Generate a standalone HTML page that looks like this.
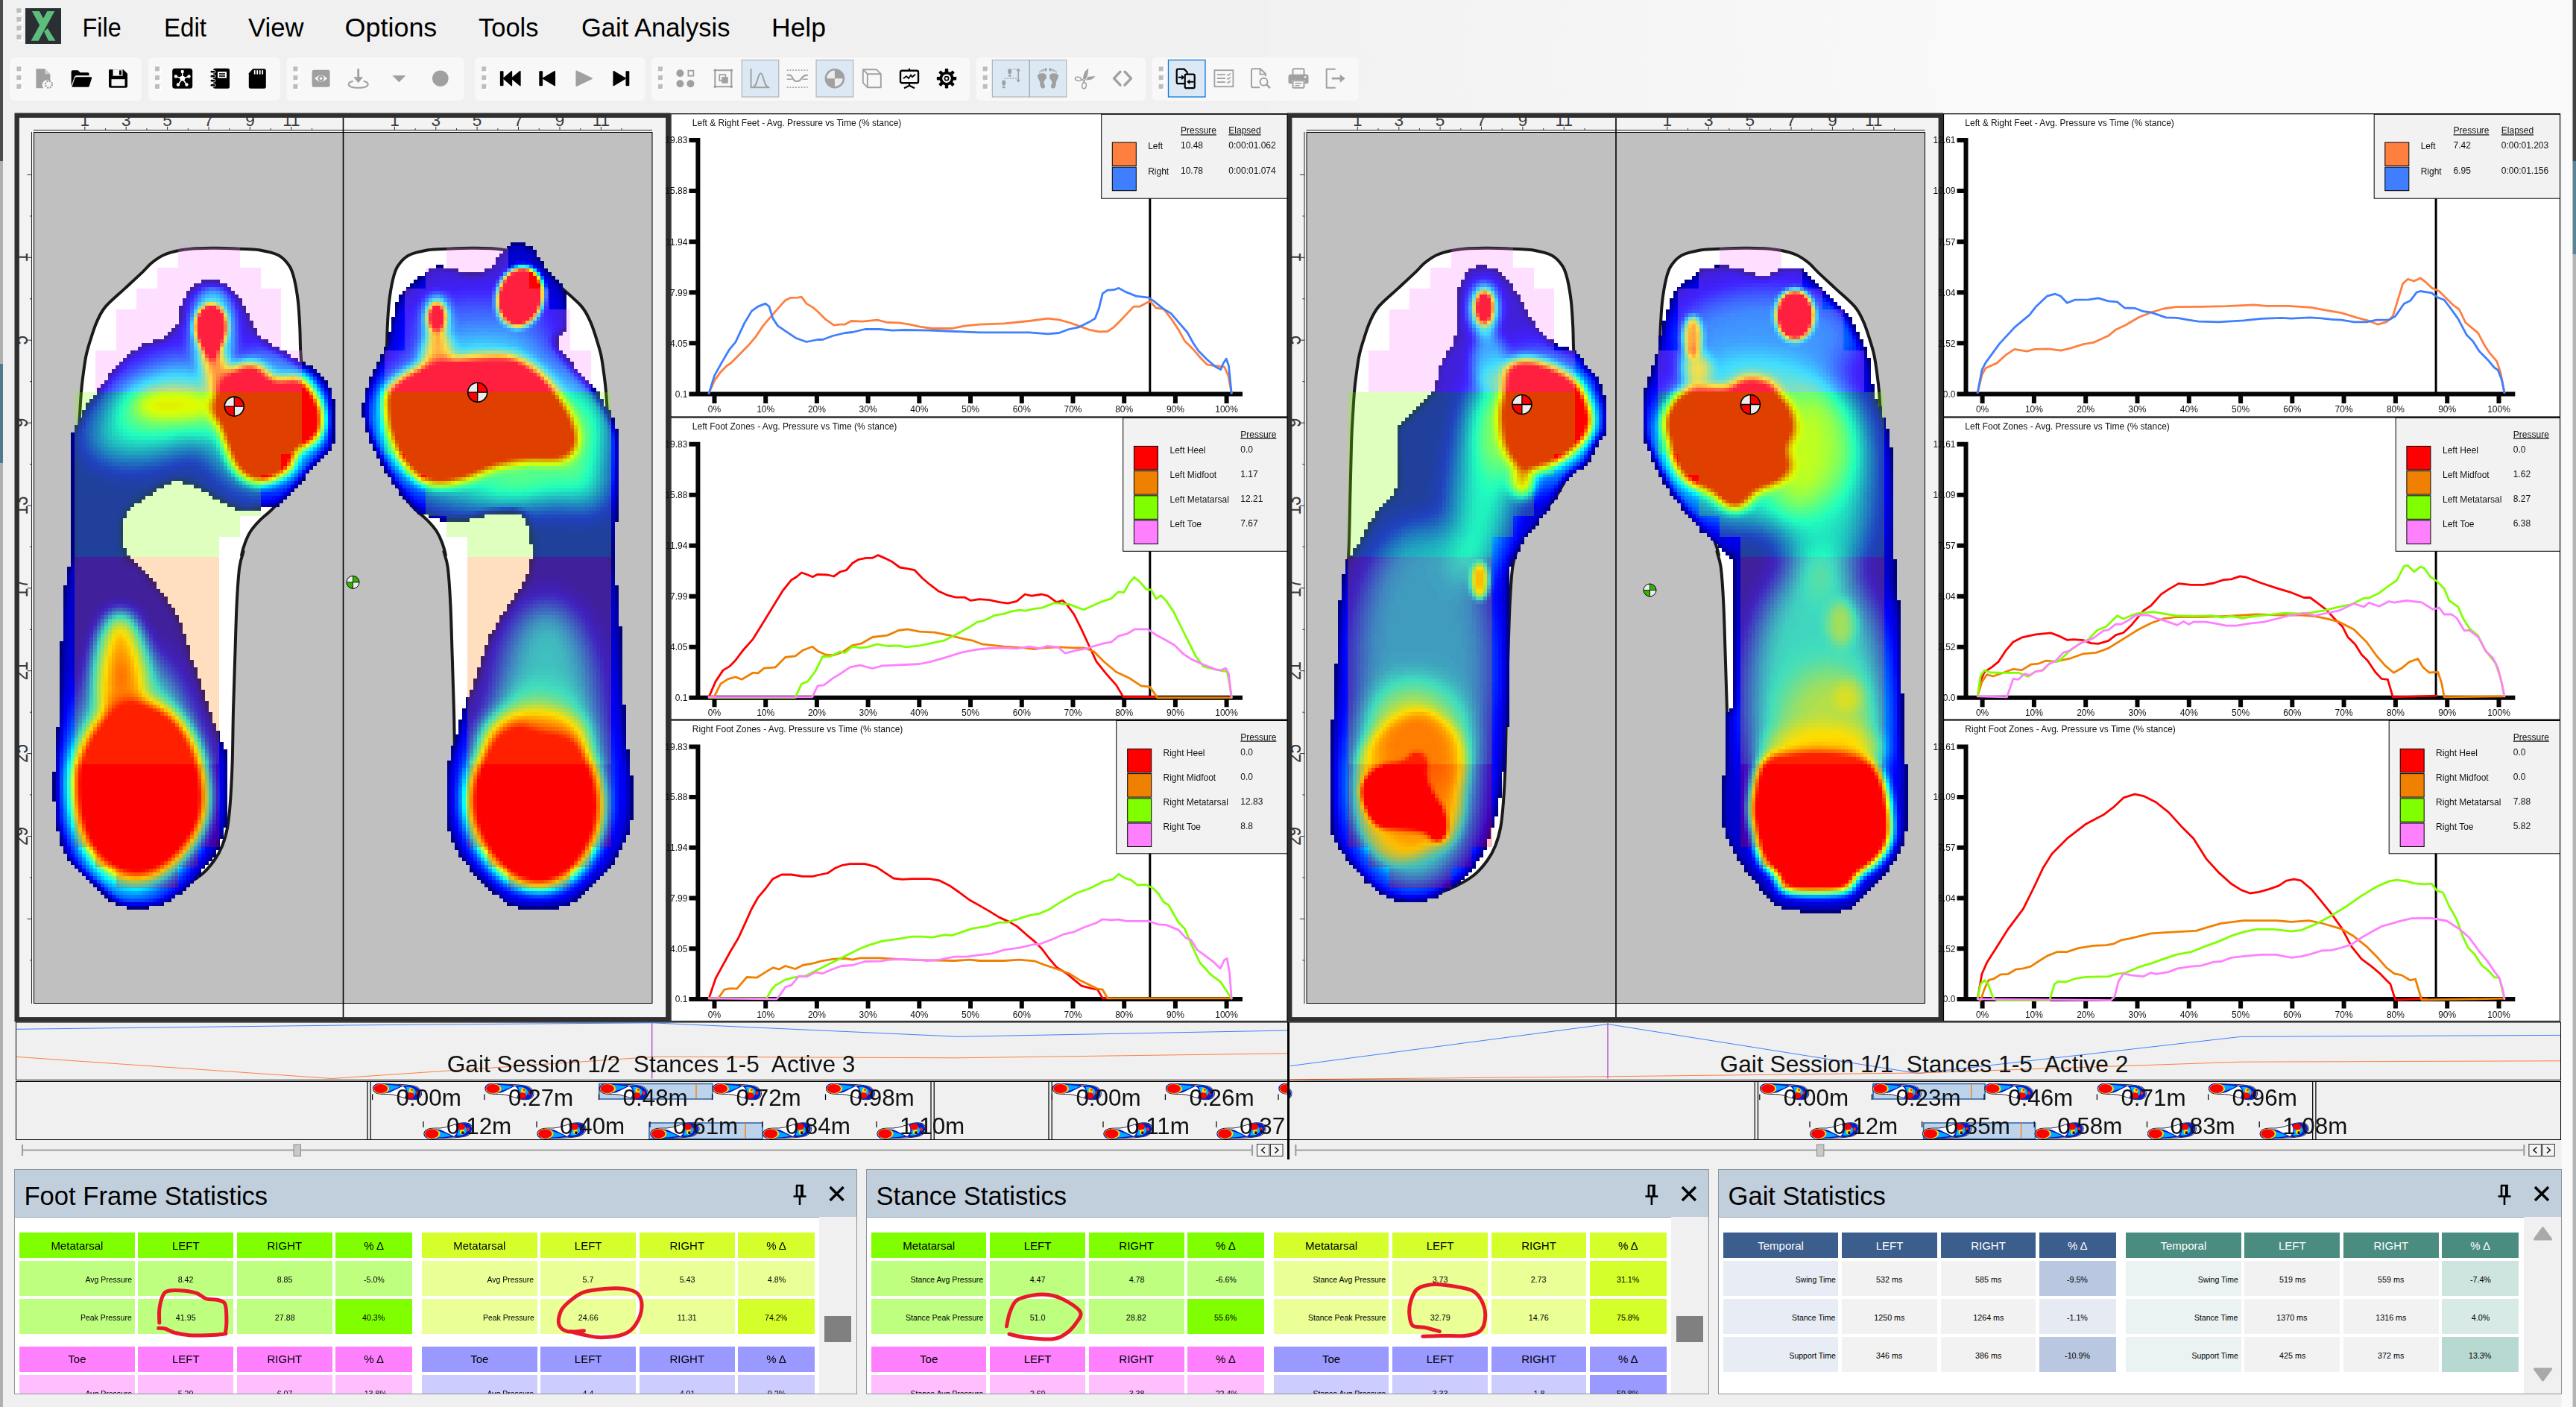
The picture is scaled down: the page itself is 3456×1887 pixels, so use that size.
<!DOCTYPE html>
<html><head><meta charset="utf-8"><title>Gait Analysis</title>
<style>
html,body{margin:0;padding:0}
body{width:3456px;height:1887px;overflow:hidden;background:#f0f0f0;position:relative;font-family:"Liberation Sans",Arial,sans-serif;color:#000}

.pn{position:absolute;border:1px solid #8c949d;background:#fff;box-sizing:border-box}
.ph{position:absolute;left:0;top:0;right:0;height:63px;background:#c1cedc;border-bottom:1px solid #9aa3ad}
.ph span{position:absolute;left:12.5px;top:10.5px;font-size:34.6px;line-height:48px;white-space:nowrap}
.c{position:absolute;display:flex;align-items:center;box-sizing:border-box;white-space:nowrap;overflow:hidden}
.c.h{justify-content:center;font-size:15px}
.c.l{justify-content:flex-end;padding-right:4px;padding-top:3px;font-size:11.4px}
.c.v{justify-content:center;padding-top:3px;font-size:11.4px}
.c.l span{display:inline-block;transform:scaleX(.92);transform-origin:right center}
.c.v span{display:inline-block;transform:scaleX(.94)}
.sb{position:absolute;background:#f0f0f0}
.th{position:absolute;width:35.5px;height:35.5px;background:#808080}
.clip{position:absolute;left:0;top:1632px;width:3456px;height:238px;overflow:hidden}

</style></head><body>
<svg width="3456" height="1887" viewBox="0 0 3456 1887" style="position:absolute;left:0;top:0"><defs><linearGradient id="tg" x1="0" x2="1"><stop offset="0" stop-color="#f1f1f1"/><stop offset="1" stop-color="#f9f9f9"/></linearGradient><filter id="jet" filterUnits="userSpaceOnUse" x="0" y="150" width="3456" height="1250" color-interpolation-filters="sRGB"><feColorMatrix type="matrix" values="0 0 0 1 0  0 0 0 1 0  0 0 0 1 0  0 0 0 1 0"/><feComponentTransfer><feFuncR type="table" tableValues="0.000 0.000 0.000 0.000 0.000 0.000 0.000 0.000 0.000 0.000 0.000 0.000 0.000 0.000 0.000 0.000 0.000 0.000 0.000 0.000 0.000 0.000 0.000 0.000 0.000 0.000 0.059 0.127 0.195 0.264 0.332 0.400 0.469 0.537 0.605 0.674 0.742 0.811 0.879 0.947 1.000 1.000 1.000 1.000 1.000 1.000 1.000 1.000 1.000 1.000 1.000 1.000 1.000 1.000 1.000 1.000 1.000 1.000 1.000 1.000 1.000 1.000 1.000 1.000 1.000"/><feFuncG type="table" tableValues="0.000 0.000 0.000 0.000 0.000 0.000 0.000 0.000 0.000 0.000 0.000 0.033 0.102 0.170 0.238 0.307 0.375 0.443 0.512 0.580 0.648 0.717 0.785 0.854 0.922 0.990 1.000 1.000 1.000 1.000 1.000 1.000 1.000 1.000 1.000 1.000 1.000 1.000 1.000 1.000 0.984 0.916 0.848 0.779 0.711 0.643 0.574 0.506 0.438 0.369 0.301 0.232 0.164 0.096 0.027 0.000 0.000 0.000 0.000 0.000 0.000 0.000 0.000 0.000 0.000"/><feFuncB type="table" tableValues="0.500 0.500 0.500 0.500 0.555 0.623 0.691 0.760 0.828 0.896 0.965 1.000 1.000 1.000 1.000 1.000 1.000 1.000 1.000 1.000 1.000 1.000 1.000 1.000 1.000 1.000 0.941 0.873 0.805 0.736 0.668 0.600 0.531 0.463 0.395 0.326 0.258 0.189 0.121 0.053 0.000 0.000 0.000 0.000 0.000 0.000 0.000 0.000 0.000 0.000 0.000 0.000 0.000 0.000 0.000 0.000 0.000 0.000 0.000 0.000 0.000 0.000 0.000 0.000 0.000"/><feFuncA type="discrete" tableValues="0 1 1 1 1 1 1 1 1 1 1 1 1 1 1 1 1 1 1 1 1 1 1 1 1"/></feComponentTransfer><feComponentTransfer result="col"/><feFlood x="2" y="152" width="1" height="1" flood-color="#000"/><feOffset dx="0" dy="0" x="0" y="150" width="5" height="5" result="cell"/><feTile result="grid"/><feComposite in="col" in2="grid" operator="in"/><feMorphology operator="dilate" radius="2"/></filter><filter id="bE" filterUnits="userSpaceOnUse" x="0" y="150" width="3456" height="1250" color-interpolation-filters="sRGB"><feGaussianBlur stdDeviation="4"/></filter><filter id="bS" filterUnits="userSpaceOnUse" x="0" y="150" width="3456" height="1250" color-interpolation-filters="sRGB"><feGaussianBlur stdDeviation="4.5"/></filter><filter id="bM" filterUnits="userSpaceOnUse" x="0" y="150" width="3456" height="1250" color-interpolation-filters="sRGB"><feGaussianBlur stdDeviation="8"/></filter><filter id="bH" filterUnits="userSpaceOnUse" x="0" y="150" width="3456" height="1250" color-interpolation-filters="sRGB"><feGaussianBlur stdDeviation="11"/></filter><filter id="bL" filterUnits="userSpaceOnUse" x="0" y="150" width="3456" height="1250" color-interpolation-filters="sRGB"><feGaussianBlur stdDeviation="22"/></filter><filter id="bX" filterUnits="userSpaceOnUse" x="0" y="150" width="3456" height="1250" color-interpolation-filters="sRGB"><feGaussianBlur stdDeviation="40"/></filter><symbol id="mf" viewBox="0 0 68 22" overflow="visible"><path d="M1,7 C1,1 8,0 16,0.6 C30,1.5 48,1 58,4 C66,7 68,14 64,19 C60,23 50,22 44,20 C36,17.5 30,15 22,14.5 C12,14.5 1,15 1,7Z" fill="#fff" stroke="#111" stroke-width="0.9"/><path d="M0.5,7 C0.5,0.5 8,-0.5 16,0.3 C26,1 36,1.5 42,3 C36,6 30,9 24,12 C16,14.5 0.5,14.5 0.5,7Z" fill="#0018c8"/><path d="M10,1.5 C20,1.5 30,2.5 38,4 C32,6.5 26,9 20,11 C14,12.5 6,12 4,8 C3,4 6,1.5 10,1.5Z" fill="#00a8ff"/><ellipse cx="12" cy="7" rx="10.6" ry="6.6" fill="#ffe000"/><ellipse cx="11.3" cy="7" rx="9.2" ry="5.9" fill="#ff0000"/><path d="M40,3 C48,1.5 58,3 63,8 C67,13 65,19 60,21 C54,22.5 47,21 43,19 C46,15 46,10 44,7 C43,5 41,4 40,3Z" fill="#0020d0"/><path d="M45,5 C50,4 56,6 58,10 C59,14 56,18 52,19 C48,19 47,15 47,11Z" fill="#00b4ff"/><ellipse cx="52" cy="9.5" rx="3" ry="3.6" fill="#ffe000"/><ellipse cx="50.5" cy="16.3" rx="5.6" ry="4" fill="#ff0000"/><ellipse cx="60" cy="13" rx="2" ry="2.4" fill="#ff2000"/><ellipse cx="53" cy="8.6" rx="1.5" ry="1.8" fill="#ff4000"/></symbol><symbol id="mf2" viewBox="0 0 68 22" overflow="visible"><use href="#mf" transform="translate(0,22) scale(1,-1)"/></symbol></defs><rect x="0" y="0" width="3456" height="152" fill="#f0f0f0"/><rect x="2600" y="0" width="856" height="152" fill="#f9f9f9"/><rect x="1700" y="0" width="900" height="152" fill="url(#tg)"/><rect x="25.0" y="13.799999999999999" width="6" height="6" fill="#fff"/><rect x="22.4" y="11.2" width="6" height="6" fill="#bdbdbd"/><rect x="25.0" y="25.6" width="6" height="6" fill="#fff"/><rect x="22.4" y="23" width="6" height="6" fill="#bdbdbd"/><rect x="25.0" y="37.4" width="6" height="6" fill="#fff"/><rect x="22.4" y="34.8" width="6" height="6" fill="#bdbdbd"/><rect x="25.0" y="49.300000000000004" width="6" height="6" fill="#fff"/><rect x="22.4" y="46.7" width="6" height="6" fill="#bdbdbd"/><rect x="34" y="11" width="48" height="48" fill="#2a2f34"/><path d="M41.6,54.7 H51.6 L73.3,14.9 H63.4Z" fill="#5ebd7c"/><path d="M42.9,14.9 H52.8 L62.1,31.7 L57.1,41Z" fill="#5ebd7c"/><path d="M59,42.2 L64,37.9 L74.5,54.7 H65.2Z" fill="#5ebd7c"/><g font-family="Liberation Sans, Arial, sans-serif" font-size="35" fill="#000"><text x="110.6" y="49" textLength="52.1" lengthAdjust="spacingAndGlyphs">File</text><text x="219.9" y="49" textLength="57.1" lengthAdjust="spacingAndGlyphs">Edit</text><text x="333" y="49" textLength="74.5" lengthAdjust="spacingAndGlyphs">View</text><text x="462.6" y="49" textLength="123.7" lengthAdjust="spacingAndGlyphs">Options</text><text x="642" y="49" textLength="80.5" lengthAdjust="spacingAndGlyphs">Tools</text><text x="780" y="49" textLength="199.4" lengthAdjust="spacingAndGlyphs">Gait Analysis</text><text x="1035" y="49" textLength="73" lengthAdjust="spacingAndGlyphs">Help</text></g><rect x="13.4" y="77" width="176.4" height="58" rx="6" fill="#f8f8f8"/><rect x="25.0" y="92.0" width="6" height="6" fill="#fff"/><rect x="22.4" y="89.4" width="6" height="6" fill="#bdbdbd"/><rect x="25.0" y="103.8" width="6" height="6" fill="#fff"/><rect x="22.4" y="101.2" width="6" height="6" fill="#bdbdbd"/><rect x="25.0" y="115.6" width="6" height="6" fill="#fff"/><rect x="22.4" y="113" width="6" height="6" fill="#bdbdbd"/><rect x="199" y="77" width="176.7" height="58" rx="6" fill="#f8f8f8"/><rect x="210.6" y="92.0" width="6" height="6" fill="#fff"/><rect x="208" y="89.4" width="6" height="6" fill="#bdbdbd"/><rect x="210.6" y="103.8" width="6" height="6" fill="#fff"/><rect x="208" y="101.2" width="6" height="6" fill="#bdbdbd"/><rect x="210.6" y="115.6" width="6" height="6" fill="#fff"/><rect x="208" y="113" width="6" height="6" fill="#bdbdbd"/><rect x="384.4" y="77" width="238.10000000000002" height="58" rx="6" fill="#f8f8f8"/><rect x="396.0" y="92.0" width="6" height="6" fill="#fff"/><rect x="393.4" y="89.4" width="6" height="6" fill="#bdbdbd"/><rect x="396.0" y="103.8" width="6" height="6" fill="#fff"/><rect x="393.4" y="101.2" width="6" height="6" fill="#bdbdbd"/><rect x="396.0" y="115.6" width="6" height="6" fill="#fff"/><rect x="393.4" y="113" width="6" height="6" fill="#bdbdbd"/><rect x="637.3" y="77" width="228.10000000000002" height="58" rx="6" fill="#f8f8f8"/><rect x="648.9" y="92.0" width="6" height="6" fill="#fff"/><rect x="646.3" y="89.4" width="6" height="6" fill="#bdbdbd"/><rect x="648.9" y="103.8" width="6" height="6" fill="#fff"/><rect x="646.3" y="101.2" width="6" height="6" fill="#bdbdbd"/><rect x="648.9" y="115.6" width="6" height="6" fill="#fff"/><rect x="646.3" y="113" width="6" height="6" fill="#bdbdbd"/><rect x="874" y="77" width="427.4000000000001" height="58" rx="6" fill="#f8f8f8"/><rect x="885.6" y="92.0" width="6" height="6" fill="#fff"/><rect x="883" y="89.4" width="6" height="6" fill="#bdbdbd"/><rect x="885.6" y="103.8" width="6" height="6" fill="#fff"/><rect x="883" y="101.2" width="6" height="6" fill="#bdbdbd"/><rect x="885.6" y="115.6" width="6" height="6" fill="#fff"/><rect x="883" y="113" width="6" height="6" fill="#bdbdbd"/><rect x="1309.7" y="77" width="227.29999999999995" height="58" rx="6" fill="#f8f8f8"/><rect x="1321.3" y="92.0" width="6" height="6" fill="#fff"/><rect x="1318.7" y="89.4" width="6" height="6" fill="#bdbdbd"/><rect x="1321.3" y="103.8" width="6" height="6" fill="#fff"/><rect x="1318.7" y="101.2" width="6" height="6" fill="#bdbdbd"/><rect x="1321.3" y="115.6" width="6" height="6" fill="#fff"/><rect x="1318.7" y="113" width="6" height="6" fill="#bdbdbd"/><rect x="1545.7" y="77" width="277.0" height="58" rx="6" fill="#f8f8f8"/><rect x="1557.3" y="92.0" width="6" height="6" fill="#fff"/><rect x="1554.7" y="89.4" width="6" height="6" fill="#bdbdbd"/><rect x="1557.3" y="103.8" width="6" height="6" fill="#fff"/><rect x="1554.7" y="101.2" width="6" height="6" fill="#bdbdbd"/><rect x="1557.3" y="115.6" width="6" height="6" fill="#fff"/><rect x="1554.7" y="113" width="6" height="6" fill="#bdbdbd"/><rect x="995.2" y="80.5" width="49.59999999999991" height="49.5" fill="#dce9f5" stroke="#a8a8a8" stroke-width="1"/><rect x="1095" y="80.5" width="49.700000000000045" height="49.5" fill="#dce9f5" stroke="#a8a8a8" stroke-width="1"/><rect x="1331.3" y="80.5" width="49.700000000000045" height="49.5" fill="#dce9f5" stroke="#a8a8a8" stroke-width="1"/><rect x="1381.5" y="80.5" width="49.200000000000045" height="49.5" fill="#dce9f5" stroke="#a8a8a8" stroke-width="1"/><rect x="1567.5" y="80.5" width="49.5" height="49.5" fill="#dce9f5" stroke="#0a78d7" stroke-width="1.3"/><g transform="translate(44.4,91.2)" fill="#a0a0a0" stroke="none"><path d="M4,1 H16 L23,8 V18 A6,6 0 0 0 14,27 H4 Z"/><path d="M16,1 V8 H23" fill="#f6f6f6" opacity=".55"/><circle cx="21" cy="22" r="4.6" fill="#f6f6f6" stroke="#a0a0a0" stroke-width="2.2" stroke-dasharray="2.2 1.4"/></g><g transform="translate(94.6,91.2)" fill="#000" stroke="none"><path d="M1,5 Q1,3 3,3 H10 L13,6 H23 Q25,6 25,8 V10 H8 Q6,10 5.3,12 L1,24 Z"/><path d="M8.2,12 H27.5 Q29,12 28.5,13.6 L25.3,24 Q24.8,25.6 23,25.6 H1.8 L5.8,13.6 Q6.3,12 8.2,12Z"/></g><g transform="translate(144.5,91.2)" fill="#000" stroke="none"><path d="M2,2 H21 L26.5,7.5 V24 Q26.5,26.5 24,26.5 H4 Q1.5,26.5 1.5,24 V4 Q1.5,2 2,2Z"/><rect x="5" y="15" width="18" height="9" fill="#f6f6f6"/><rect x="7" y="2" width="13" height="8.5" fill="#f6f6f6"/><rect x="15.5" y="3.2" width="3" height="6.2"/></g><g transform="translate(230.7,91.2)" fill="#000" stroke="none"><rect x="0.5" y="0.5" width="27" height="27" rx="3.5"/><g stroke="#fff" stroke-width="1.6"><path d="M14,14 L14,5 M14,14 L5.5,11.5 M14,14 L22.5,11.5 M14,14 L8.5,22 M14,14 L19.5,22"/></g><g fill="#fff"><circle cx="14" cy="14" r="3.4"/><circle cx="14" cy="4.8" r="2.2"/><circle cx="5.2" cy="11.3" r="2.2"/><circle cx="22.8" cy="11.3" r="2.2"/><circle cx="8.3" cy="22.3" r="2.2"/><circle cx="19.7" cy="22.3" r="2.2"/></g></g><g transform="translate(281,91.2)" fill="#000" stroke="none"><rect x="5" y="0.5" width="22" height="27" rx="2.5"/><rect x="11" y="5" width="12" height="8.5" fill="#fff"/><rect x="13" y="7" width="8" height="1.6"/><rect x="13" y="10" width="8" height="1.6"/><rect x="1" y="3.2" width="7" height="3.6" rx="1.8" fill="#000" stroke="#f6f6f6" stroke-width="1"/><rect x="1" y="9.2" width="7" height="3.6" rx="1.8" fill="#000" stroke="#f6f6f6" stroke-width="1"/><rect x="1" y="15.2" width="7" height="3.6" rx="1.8" fill="#000" stroke="#f6f6f6" stroke-width="1"/><rect x="1" y="21.2" width="7" height="3.6" rx="1.8" fill="#000" stroke="#f6f6f6" stroke-width="1"/></g><g transform="translate(331.3,91.2)" fill="#000" stroke="none"><path d="M8,1 H23 Q25.5,1 25.5,3.5 V25 Q25.5,27.5 23,27.5 H5 Q2.5,27.5 2.5,25 V7 Z"/><rect x="9.5" y="3" width="1.8" height="5.5" fill="#fff"/><rect x="13" y="3" width="1.8" height="5.5" fill="#fff"/><rect x="16.5" y="3" width="1.8" height="5.5" fill="#fff"/><rect x="20" y="3" width="1.8" height="5.5" fill="#fff"/></g><g transform="translate(416.6,91.2)" fill="#a0a0a0" stroke="none"><rect x="2" y="2.5" width="24" height="23" rx="2.5"/><path d="M5.5,14 Q14,5.5 22.5,14 Q14,22.5 5.5,14Z" fill="#f6f6f6"/><circle cx="14" cy="14" r="4"/><circle cx="14" cy="14" r="1.8" fill="#f6f6f6"/></g><g transform="translate(466.7,91.2)" fill="#a0a0a0" stroke="none"><path d="M12.6,1 H15.4 V12 H20.5 L14,20 L7.5,12 H12.6Z"/><path d="M7,17.5 Q1,19 1,21.5 Q1,26.5 14,26.5 Q27,26.5 27,21.5 Q27,19 21,17.5" fill="none" stroke="#a0a0a0" stroke-width="2"/></g><g transform="translate(521.4,91.2)" fill="#a0a0a0" stroke="none"><path d="M5,10 H23 L14,19Z"/></g><g transform="translate(576.8,91.2)" fill="#a0a0a0" stroke="none"><circle cx="14" cy="14" r="10.8"/></g><g transform="translate(669.9,91.2)" fill="#000" stroke="none"><rect x="1" y="4" width="4.6" height="20" rx="1"/><path d="M16.5,4.5 V23.5 L5.5,14Z M28,4.5 V23.5 L16.5,14Z" stroke-linejoin="round" stroke="#000" stroke-width="1.5"/></g><g transform="translate(719.8,91.2)" fill="#000" stroke="none"><rect x="3.5" y="4" width="4.8" height="20" rx="1"/><path d="M24.5,4.5 V23.5 L8.5,14Z" stroke-linejoin="round" stroke="#000" stroke-width="1.5"/></g><g transform="translate(769.2,91.2)" fill="#a0a0a0" stroke="none"><path d="M4,4 L25,14 L4,24Z" stroke-linejoin="round" stroke="#a0a0a0" stroke-width="1.5"/></g><g transform="translate(819.7,91.2)" fill="#000" stroke="none"><rect x="19.8" y="4" width="4.8" height="20" rx="1"/><path d="M3.5,4.5 V23.5 L19.5,14Z" stroke-linejoin="round" stroke="#000" stroke-width="1.5"/></g><g transform="translate(905.4,91.2)" fill="#a0a0a0" stroke="none"><circle cx="7" cy="7" r="5"/><circle cx="7" cy="21" r="5"/><circle cx="21" cy="21" r="5"/><rect x="18" y="3.5" width="7" height="7" fill="none" stroke="#a0a0a0" stroke-width="1.8"/></g><g transform="translate(956.3,91.2)" fill="#a0a0a0" stroke="none"><rect x="3" y="3" width="22" height="22" fill="none" stroke="#a0a0a0" stroke-width="2"/><rect x="9" y="9" width="8" height="8" fill="none" stroke="#a0a0a0" stroke-width="1.8"/><rect x="12" y="12" width="8.5" height="8.5"/><circle cx="3" cy="3" r="1.8"/><circle cx="25" cy="3" r="1.8"/><circle cx="3" cy="25" r="1.8"/><circle cx="25" cy="25" r="1.8"/></g><g transform="translate(1005.5,91.2)" fill="#a0a0a0" stroke="none"><path d="M2,1 V26 H27" fill="none" stroke="#a0a0a0" stroke-width="2"/><path d="M5,25 C11,25 11,7 15,7 C19,7 19,25 25,25" fill="none" stroke="#a0a0a0" stroke-width="2"/></g><g transform="translate(1055.7,91.2)" fill="#a0a0a0" stroke="none"><path d="M0,3 H28 M0,26 H28" fill="none" stroke="#a0a0a0" stroke-width="1.8" stroke-dasharray="1.8 2"/><path d="M0,10 C4,8 6,10 8,14 C10,19 16,19 19,15 C22,10 25,9 28,10" fill="none" stroke="#a0a0a0" stroke-width="2"/><path d="M0,15 H7 M21,15 H28" stroke="#a0a0a0" stroke-width="1.6"/></g><g transform="translate(1105.9,91.2)" fill="#a0a0a0" stroke="none"><circle cx="14" cy="14" r="12" fill="#ececec" stroke="#a0a0a0" stroke-width="2.6"/><path d="M14,14 V2 A12,12 0 0 1 26,14Z M14,14 V26 A12,12 0 0 1 2,14Z"/></g><g transform="translate(1155.8,91.2)" fill="#a0a0a0" stroke="none"><path d="M8,8 H26 V26 H8Z M8,8 L2,2 H20 L26,8 M2,2 V20 L8,26" fill="none" stroke="#a0a0a0" stroke-width="1.9" stroke-linejoin="round"/></g><g transform="translate(1206,91.2)" fill="#000" stroke="none"><rect x="2" y="3.5" width="24" height="16.5" rx="2" fill="none" stroke="#000" stroke-width="2.4"/><path d="M14,0.5 V3.5 M14,20 V24 M7,27 L14,23.5 L21,27" fill="none" stroke="#000" stroke-width="2.2"/><path d="M6,14 L10,11 L13,14 L16,9.5 L18,12 L22,8.5" fill="none" stroke="#000" stroke-width="1.8"/></g><g transform="translate(1256,91.2)" fill="#000" stroke="none"><circle cx="14" cy="14" r="7.6" fill="none" stroke="#000" stroke-width="3.6"/><circle cx="14" cy="14" r="2.6" fill="none" stroke="#000" stroke-width="1.6"/><rect x="11.8" y="0.8" width="4.4" height="5.2" rx="0.8" transform="rotate(0 14 14)"/><rect x="11.8" y="0.8" width="4.4" height="5.2" rx="0.8" transform="rotate(45 14 14)"/><rect x="11.8" y="0.8" width="4.4" height="5.2" rx="0.8" transform="rotate(90 14 14)"/><rect x="11.8" y="0.8" width="4.4" height="5.2" rx="0.8" transform="rotate(135 14 14)"/><rect x="11.8" y="0.8" width="4.4" height="5.2" rx="0.8" transform="rotate(180 14 14)"/><rect x="11.8" y="0.8" width="4.4" height="5.2" rx="0.8" transform="rotate(225 14 14)"/><rect x="11.8" y="0.8" width="4.4" height="5.2" rx="0.8" transform="rotate(270 14 14)"/><rect x="11.8" y="0.8" width="4.4" height="5.2" rx="0.8" transform="rotate(315 14 14)"/></g><g transform="translate(1343.7,91.2)" fill="#a0a0a0" stroke="none"><ellipse cx="11" cy="4.5" rx="2.6" ry="3.6"/><rect x="9" y="9" width="4" height="2.6" rx="1"/><ellipse cx="3" cy="20" rx="2.6" ry="3.6"/><rect x="1" y="24.5" width="4" height="2.6" rx="1"/><path d="M4,14 H20 M15,1.5 H20" stroke="#a0a0a0" stroke-width="1.6" stroke-dasharray="1.6 2" fill="none"/><path d="M22.5,3 V17" stroke="#a0a0a0" stroke-width="1.6"/><path d="M22.5,0 L25.3,4 H19.7Z M22.5,19.5 L25.3,15.5 H19.7Z"/></g><g transform="translate(1392,91.2)" fill="#a0a0a0" stroke="none"><g transform="translate(0,0) scale(1,1)"><path d="M6,7 C10,6.5 12.3,9 12,12.5 C11.5,15.5 8.5,16.5 8.5,19.5 C8.5,22 10.5,23 10,25.5 C9.5,28 5,28 4,25 C3,22 3.5,20 2.5,17 C1,14 -0.5,12 0,10 C0.5,8 3,7 6,7Z"/><ellipse cx="11" cy="2.2" rx="1.4" ry="2.3"/><ellipse cx="8.3" cy="2.7" rx="1" ry="1.6" transform="rotate(-12 8.3 2.7)"/><ellipse cx="6.1" cy="3.4" rx="0.85" ry="1.3" transform="rotate(-25 6.1 3.4)"/><ellipse cx="4.2" cy="4.4" rx="0.75" ry="1.1" transform="rotate(-38 4.2 4.4)"/><ellipse cx="2.6" cy="5.6" rx="0.65" ry="0.9" transform="rotate(-50 2.6 5.6)"/></g><g transform="translate(28,0) scale(-1,1)"><path d="M6,7 C10,6.5 12.3,9 12,12.5 C11.5,15.5 8.5,16.5 8.5,19.5 C8.5,22 10.5,23 10,25.5 C9.5,28 5,28 4,25 C3,22 3.5,20 2.5,17 C1,14 -0.5,12 0,10 C0.5,8 3,7 6,7Z"/><ellipse cx="11" cy="2.2" rx="1.4" ry="2.3"/><ellipse cx="8.3" cy="2.7" rx="1" ry="1.6" transform="rotate(-12 8.3 2.7)"/><ellipse cx="6.1" cy="3.4" rx="0.85" ry="1.3" transform="rotate(-25 6.1 3.4)"/><ellipse cx="4.2" cy="4.4" rx="0.75" ry="1.1" transform="rotate(-38 4.2 4.4)"/><ellipse cx="2.6" cy="5.6" rx="0.65" ry="0.9" transform="rotate(-50 2.6 5.6)"/></g></g><g transform="translate(1441.5,91.2)" fill="#a0a0a0" stroke="none"><path d="M18.8,0.1 L13.9,5 C12.2,9 11.6,12 11.4,14.8 L14.7,16 C16.5,13 17.6,10 18,7.4Z"/><path d="M28.2,10.7 C25,11.2 21,11.4 18,11.9 L15.5,16.4 C18,16.4 20,16 22,15.6 C24.5,14.6 26.5,13 28.2,10.7Z"/><ellipse cx="4.9" cy="14.6" rx="4" ry="2.5" fill="none" stroke="#a0a0a0" stroke-width="1.5" transform="rotate(12 4.9 14.6)"/><ellipse cx="13" cy="23.6" rx="2.8" ry="4" fill="none" stroke="#a0a0a0" stroke-width="1.5" transform="rotate(8 13 23.6)"/><path d="M8.6,15.6 L13.5,16.5 M12.6,19.6 L13.6,15.5" stroke="#a0a0a0" stroke-width="2"/><circle cx="12.9" cy="15.6" r="0.7" fill="#f6f6f6"/></g><g transform="translate(1492,91.2)" fill="#a0a0a0" stroke="none"><path d="M11,5 L2.5,14 L11,23 M17,5 L25.5,14 L17,23" fill="none" stroke="#a0a0a0" stroke-width="3.4" stroke-linecap="round" stroke-linejoin="round"/></g><g transform="translate(1577.7,91.2)" fill="#000" stroke="none"><path d="M3,1.5 H11 L15,5.5 V19 Q15,21 13,21 H3 Q1,21 1,19 V3.5 Q1,1.5 3,1.5Z" fill="#dce9f5" stroke="#000" stroke-width="2.2"/><path d="M14,8.5 H23 Q25,8.5 25,10.5 V25 Q25,27 23,27 H14 Q12,27 12,25 V10.5 Q12,8.5 14,8.5Z" fill="#dce9f5" stroke="#000" stroke-width="2.2"/><path d="M3,12.5 H9 M17,18.5 H24" stroke="#000" stroke-width="2"/><path d="M7.5,9 L11.5,12.5 L7.5,16Z M18.5,15 L14.5,18.5 L18.5,22Z"/></g><g transform="translate(1627.9,91.2)" fill="#a0a0a0" stroke="none"><rect x="1.5" y="3" width="25" height="22" fill="none" stroke="#a0a0a0" stroke-width="1.8"/><path d="M5,9 H16 M5,14 H16 M5,19 H16" stroke="#a0a0a0" stroke-width="1.8"/><path d="M18.5,8.5 L20,10 L23,7 M18.5,13.5 L20,15 L23,12 M18.5,18.5 L20,20 L23,17" fill="none" stroke="#a0a0a0" stroke-width="1.5"/></g><g transform="translate(1677,91.2)" fill="#a0a0a0" stroke="none"><path d="M13,26 H4 Q2,26 2,24 V3 Q2,1 4,1 H14 L21,8 V11" fill="none" stroke="#a0a0a0" stroke-width="2"/><path d="M13.5,1 V8.5 H21" fill="none" stroke="#a0a0a0" stroke-width="1.8"/><circle cx="18.5" cy="18.5" r="5" fill="none" stroke="#a0a0a0" stroke-width="2"/><path d="M22,22 L27,27" stroke="#a0a0a0" stroke-width="2.4"/></g><g transform="translate(1728,91.2)" fill="#a0a0a0" stroke="none"><path d="M6.5,9 V2.5 Q6.5,1 8,1 H20 Q21.5,1 21.5,2.5 V9" fill="none" stroke="#a0a0a0" stroke-width="2"/><path d="M3.5,8.5 H24.5 Q27.5,8.5 27.5,11.5 V19 Q27.5,21 25.5,21 H22.5 V16 H5.5 V21 H2.5 Q0.5,21 0.5,19 V11.5 Q0.5,8.5 3.5,8.5Z"/><circle cx="23.2" cy="12.2" r="1.3" fill="#f6f6f6"/><rect x="6.5" y="17" width="15" height="9.5" rx="1" fill="none" stroke="#a0a0a0" stroke-width="2"/><path d="M9.5,20.5 H18.5 M9.5,23.5 H15.5" stroke="#a0a0a0" stroke-width="1.5"/></g><g transform="translate(1777.7,91.2)" fill="#a0a0a0" stroke="none"><path d="M14,1.5 H2 V26.5 H14" fill="none" stroke="#a0a0a0" stroke-width="2"/><path d="M9,14 H22" stroke="#a0a0a0" stroke-width="2.6"/><path d="M20,8.5 L27,14 L20,19.5Z"/></g><rect x="0" y="0" width="4" height="216" fill="#4a4c50"/><rect x="0" y="216" width="4" height="1671" fill="#b0b0b0"/><rect x="0" y="488" width="4" height="133" fill="#4f7a8c"/><rect x="3436.5" y="150" width="16" height="1737" fill="#fafafa"/><rect x="3451.5" y="0" width="4.5" height="216" fill="#404246"/><rect x="3451.5" y="216" width="4.5" height="125" fill="#5b8394"/><rect x="3451.5" y="341" width="4.5" height="1546" fill="#b4b4b4"/><rect x="19.5" y="151.5" width="880" height="1219.5" fill="#f3f3f3"/><clipPath id="rc0"><rect x="21.5" y="153" width="876" height="1216"/></clipPath><g font-family="Liberation Sans, Arial, sans-serif" font-size="22.5" fill="#3a3a3a" clip-path="url(#rc0)"><text x="113.8" y="168.6" text-anchor="middle">1</text><text x="169.2" y="168.6" text-anchor="middle">3</text><text x="224.6" y="168.6" text-anchor="middle">5</text><text x="280.1" y="168.6" text-anchor="middle">7</text><text x="335.4" y="168.6" text-anchor="middle">9</text><text x="390.9" y="168.6" text-anchor="middle">11</text><text x="529.4" y="168.6" text-anchor="middle">1</text><text x="584.8" y="168.6" text-anchor="middle">3</text><text x="640.1" y="168.6" text-anchor="middle">5</text><text x="695.5" y="168.6" text-anchor="middle">7</text><text x="751.0" y="168.6" text-anchor="middle">9</text><text x="806.4" y="168.6" text-anchor="middle">11</text><text transform="translate(37.3,345.3) rotate(-90) scale(1,1.35)" text-anchor="middle">1</text><text transform="translate(37.3,456.2) rotate(-90) scale(1,1.35)" text-anchor="middle">5</text><text transform="translate(37.3,567.1) rotate(-90) scale(1,1.35)" text-anchor="middle">9</text><text transform="translate(37.3,678.0) rotate(-90) scale(1,1.35)" text-anchor="middle">13</text><text transform="translate(37.3,788.8) rotate(-90) scale(1,1.35)" text-anchor="middle">17</text><text transform="translate(37.3,899.7) rotate(-90) scale(1,1.35)" text-anchor="middle">21</text><text transform="translate(37.3,1010.6) rotate(-90) scale(1,1.35)" text-anchor="middle">25</text><text transform="translate(37.3,1121.5) rotate(-90) scale(1,1.35)" text-anchor="middle">29</text></g><path d="M113.8,169.8 V174.8 M141.6,172.10000000000002 V174.8 M169.2,169.8 V174.8 M196.9,172.10000000000002 V174.8 M224.6,169.8 V174.8 M252.3,172.10000000000002 V174.8 M280.1,169.8 V174.8 M307.8,172.10000000000002 V174.8 M335.4,169.8 V174.8 M363.2,172.10000000000002 V174.8 M390.9,169.8 V174.8 M418.6,172.10000000000002 V174.8 M529.4,169.8 V174.8 M557.1,172.10000000000002 V174.8 M584.8,169.8 V174.8 M612.5,172.10000000000002 V174.8 M640.1,169.8 V174.8 M667.9,172.10000000000002 V174.8 M695.5,169.8 V174.8 M723.2,172.10000000000002 V174.8 M751.0,169.8 V174.8 M778.7,172.10000000000002 V174.8 M806.4,169.8 V174.8 M834.0,172.10000000000002 V174.8 M36.4,234.4 H42.9 M39.9,289.9 H42.9 M36.4,345.3 H42.9 M39.9,400.8 H42.9 M36.4,456.2 H42.9 M39.9,511.6 H42.9 M36.4,567.1 H42.9 M39.9,622.5 H42.9 M36.4,678.0 H42.9 M39.9,733.4 H42.9 M36.4,788.8 H42.9 M39.9,844.3 H42.9 M36.4,899.7 H42.9 M39.9,955.2 H42.9 M36.4,1010.6 H42.9 M39.9,1066.0 H42.9 M36.4,1121.5 H42.9 M39.9,1176.9 H42.9 M36.4,1232.4 H42.9 M39.9,1287.8 H42.9 " stroke="#333" stroke-width="1" fill="none"/><path d="M45,174.5 H875 M42.5,177 V1346" stroke="#222" stroke-width="1" fill="none"/><rect x="45.5" y="177.5" width="829.5" height="1168" fill="#c0c0c0" stroke="#000" stroke-width="1"/><g><path d="M288.8,332.7C298.6,332.8 311.7,333.3 321.5,333.7C331.3,334.1 338.9,333.8 347.6,335.3C356.3,336.8 367.0,338.9 373.8,342.5C380.6,346.1 385.0,351.8 388.5,357.2C392.0,362.6 393.1,367.3 395,375.2C396.9,383.1 398.7,394.2 399.9,404.6C401.1,415.0 401.6,426.4 402.2,437.3C402.8,448.2 402.6,459.1 403.2,470C403.8,480.9 404.5,491.7 405.5,502.6C406.5,513.5 408.3,524.4 409.1,535.3C409.9,546.2 410.8,557.1 410.4,568C410.0,578.9 408.8,589.8 406.5,600.7C404.2,611.6 400.5,623.6 396.7,633.4C392.9,643.2 388.5,651.6 383.6,659.5C378.7,667.4 373.2,674.2 367.2,680.8C361.2,687.3 352.8,693.5 347.6,698.8C342.4,704.1 339.4,707.6 336.2,712.5C333.0,717.4 330.7,722.9 328.7,728.2C326.7,733.5 324.5,742.5 324.1,744.5C323.7,746.5 327.0,737.2 326.5,740C326.0,742.8 322.7,749.4 321.2,761.3C319.7,773.1 318.6,791.0 317.6,811.1C316.6,831.2 316.0,858.4 315.2,882.1C314.4,905.8 313.6,929.5 313,953.2C312.4,976.9 312.3,1003.6 311.6,1024.3C310.9,1045.0 309.9,1063.4 308.8,1077.6C307.7,1091.8 307.0,1100.1 305.2,1109.6C303.4,1119.1 301.1,1127.1 298.1,1134.5C295.1,1141.9 292.1,1147.5 287.4,1154C282.7,1160.5 276.8,1167.8 269.7,1173.5C262.6,1179.2 253.7,1184.2 244.8,1188.5C235.9,1192.8 226.5,1196.6 216.4,1199.1C206.3,1201.6 195.0,1203.9 184.4,1203.4C173.8,1202.9 162.5,1200.8 153.1,1196.3C143.7,1191.8 135.9,1184.3 128.2,1176.4C120.5,1168.5 112.7,1157.8 106.9,1148.7C101.1,1139.6 96.7,1133.2 93.4,1122C90.1,1110.8 88.3,1097.5 87,1081.2C85.7,1064.9 85.1,1045.6 85.6,1024.3C86.1,1003.0 88.5,982.8 90.2,953.2C91.9,923.6 93.7,880.8 95.5,846.6C97.3,812.4 99.9,779.0 101.2,747.8C102.5,716.6 102.8,685.1 103.5,659.5C104.2,633.9 104.6,610.5 105.1,594.2C105.6,577.9 106.0,573.0 106.7,561.5C107.4,550.0 108.2,535.3 109,525.5C109.8,515.7 110.5,510.8 111.6,502.6C112.7,494.4 113.8,484.7 115.6,476.5C117.3,468.3 119.6,461.2 122.1,453.6C124.5,446.0 127.0,437.8 130.3,430.7C133.6,423.6 135.4,418.5 141.7,411.1C148.0,403.8 159.7,394.2 167.9,386.6C176.1,379.0 184.7,371.1 190.7,365.4C196.7,359.7 198.9,356.2 203.8,352.3C208.7,348.4 214.2,344.5 220.2,341.8C226.2,339.1 232.7,337.4 239.8,336C246.9,334.6 254.4,333.9 262.6,333.3C270.8,332.8 279.0,332.6 288.8,332.7Z" fill="#fff" stroke="#1a1a1a" stroke-width="4" stroke-linejoin="round"/><path d="M633.2,332.7C623.4,332.8 610.3,333.3 600.5,333.7C590.7,334.1 583.1,333.8 574.4,335.3C565.7,336.8 555.0,338.9 548.2,342.5C541.4,346.1 537.0,351.8 533.5,357.2C530.0,362.6 528.9,367.3 527,375.2C525.1,383.1 523.3,394.2 522.1,404.6C520.9,415.0 520.3,426.4 519.8,437.3C519.2,448.2 519.3,459.1 518.8,470C518.2,480.9 517.5,491.7 516.5,502.6C515.5,513.5 513.7,524.4 512.9,535.3C512.1,546.2 511.2,557.1 511.6,568C512.0,578.9 513.2,589.8 515.5,600.7C517.8,611.6 521.5,623.6 525.3,633.4C529.1,643.2 533.5,651.6 538.4,659.5C543.3,667.4 548.8,674.2 554.8,680.8C560.8,687.3 569.2,693.5 574.4,698.8C579.6,704.1 582.6,707.6 585.8,712.5C588.9,717.4 591.3,722.9 593.3,728.2C595.3,733.5 597.5,742.5 597.9,744.5C598.3,746.5 595.0,737.2 595.5,740C596.0,742.8 599.3,749.4 600.8,761.3C602.3,773.1 603.4,791.0 604.4,811.1C605.4,831.2 606.0,858.4 606.8,882.1C607.6,905.8 608.4,929.5 609,953.2C609.6,976.9 609.7,1003.6 610.4,1024.3C611.1,1045.0 612.1,1063.4 613.2,1077.6C614.3,1091.8 615.0,1100.1 616.8,1109.6C618.6,1119.1 620.9,1127.1 623.9,1134.5C626.9,1141.9 629.9,1147.5 634.6,1154C639.3,1160.5 645.2,1167.8 652.3,1173.5C659.4,1179.2 668.3,1184.2 677.2,1188.5C686.1,1192.8 695.5,1196.6 705.6,1199.1C715.7,1201.6 727.1,1203.9 737.6,1203.4C748.1,1202.9 759.5,1200.8 768.9,1196.3C778.3,1191.8 786.1,1184.3 793.8,1176.4C801.5,1168.5 809.3,1157.8 815.1,1148.7C820.9,1139.6 825.3,1133.2 828.6,1122C831.9,1110.8 833.7,1097.5 835,1081.2C836.3,1064.9 836.9,1045.6 836.4,1024.3C835.9,1003.0 833.4,982.8 831.8,953.2C830.1,923.6 828.3,880.8 826.5,846.6C824.7,812.4 822.1,779.0 820.8,747.8C819.5,716.6 819.1,685.1 818.5,659.5C817.9,633.9 817.4,610.5 816.9,594.2C816.4,577.9 815.9,573.0 815.3,561.5C814.6,550.0 813.8,535.3 813,525.5C812.2,515.7 811.5,510.8 810.4,502.6C809.3,494.4 808.1,484.7 806.4,476.5C804.6,468.3 802.3,461.2 799.9,453.6C797.5,446.0 795.0,437.8 791.7,430.7C788.4,423.6 786.6,418.5 780.3,411.1C774.0,403.8 762.3,394.2 754.1,386.6C745.9,379.0 737.3,371.1 731.3,365.4C725.3,359.7 723.1,356.2 718.2,352.3C713.3,348.4 707.8,344.5 701.8,341.8C695.8,339.1 689.3,337.4 682.2,336C675.1,334.6 667.6,333.9 659.4,333.3C651.2,332.8 643.0,332.6 633.2,332.7Z" fill="#fff" stroke="#1a1a1a" stroke-width="4" stroke-linejoin="round"/><mask id="ma" maskUnits="userSpaceOnUse" x="0" y="150" width="3456" height="1250"><g filter="url(#bE)"><path d="M282.3,375.8C287.8,376.2 295.9,375.9 301.9,379.1C307.9,382.3 313.3,388.4 318.2,394.8C323.1,401.2 326.9,409.5 331.3,417.7C335.7,425.9 339.5,436.7 344.4,443.8C349.3,450.9 354.2,455.3 360.7,460.2C367.2,465.1 376.0,468.6 383.6,473.2C391.2,477.8 400.0,484.1 406.5,487.9C413.0,491.7 417.4,491.5 422.8,496.1C428.2,500.7 435.0,509.2 439.1,515.7C443.2,522.2 445.9,522.2 447.3,535.3C448.7,548.4 449.2,581.7 447.3,594.2C445.4,606.7 441.1,604.5 435.9,610.5C430.7,616.5 422.3,623.3 416.3,630.1C410.3,636.9 405.3,644.9 399.9,651.4C394.4,657.9 389.1,664.4 383.6,669.3C378.2,674.2 373.2,678.6 367.2,680.8C361.2,683.0 354.1,681.3 347.6,682.4C341.1,683.5 335.6,688.4 328,687.3C320.4,686.2 311.1,680.5 301.9,675.9C292.6,671.3 280.7,663.9 272.5,659.5C264.3,655.1 259.9,651.6 252.8,649.7C245.7,647.8 238.2,645.9 230,648.1C221.8,650.3 212.0,657.6 203.8,662.8C195.6,668.0 186.9,673.6 180.9,679.1C174.9,684.6 170.4,687.9 167.9,695.5C165.4,703.1 165.4,716.2 166.2,724.9C167.0,733.6 169.8,742.9 172.8,747.8C175.8,752.7 179.5,749.9 184.4,754.2C189.3,758.5 196.2,766.7 202.1,773.8C208.0,780.9 214.3,789.2 219.9,796.9C225.5,804.6 231.5,812.3 235.9,820C240.3,827.7 243.3,833.9 246.6,843.1C249.9,852.3 251.9,863.8 255.5,875C259.1,886.2 263.8,898.1 267.9,910.6C272.0,923.1 276.1,937.9 280.3,949.7C284.5,961.5 289.2,972.7 292.8,981.6C296.4,990.5 299.4,995.9 301.6,1003C303.8,1010.1 305.3,1008.9 305.9,1024.3C306.5,1039.7 306.8,1077.6 305.2,1095.4C303.6,1113.2 299.3,1122.0 296.3,1130.9C293.3,1139.8 291.2,1142.8 287.4,1148.7C283.5,1154.6 277.9,1160.5 273.2,1166.4C268.5,1172.3 264.9,1178.3 259,1184.2C253.1,1190.1 245.4,1196.8 237.7,1202C230.0,1207.2 225.2,1213.2 212.8,1215.5C200.4,1217.8 176.7,1219.5 163.1,1215.5C149.5,1211.5 140.6,1198.9 131.1,1191.3C121.6,1183.7 113.3,1177.1 106.2,1170C99.1,1162.9 93.1,1157.6 88.4,1148.7C83.7,1139.8 80.3,1125.6 77.8,1116.7C75.3,1107.8 74.2,1112.6 73.5,1095.4C72.8,1078.2 72.8,1034.3 73.5,1013.6C74.2,992.9 76.2,1001.8 77.8,971C79.4,940.2 81.3,861.4 83.1,828.8C84.9,796.2 86.5,788.5 88.4,775.5C90.4,762.5 93.5,759.1 94.8,750.7C96.1,742.3 95.8,752.1 96,724.9C96.2,697.7 95.2,612.6 96,587.6C96.8,562.6 99.3,579.0 100.9,574.6C102.5,570.2 103.1,567.0 105.8,561.5C108.5,556.0 113.1,547.9 117.2,541.9C121.3,535.9 126.2,531.0 130.3,525.5C134.4,520.0 135.4,517.1 141.7,509.2C148.0,501.3 158.9,486.3 167.9,478.1C176.9,469.9 186.9,464.3 195.6,460.2C204.3,456.1 213.1,458.5 220.2,453.6C227.3,448.7 234.3,438.9 238.1,430.7C241.9,422.5 240.0,412.2 243,404.6C246.0,397.0 251.7,389.6 256.1,385C260.5,380.4 264.8,378.3 269.2,376.8C273.6,375.3 276.9,375.4 282.3,375.8Z" fill="#fff" stroke="#000" stroke-width="5"/></g></mask><g filter="url(#jet)"><g mask="url(#ma)"><path d="M282.3,375.8C287.8,376.2 295.9,375.9 301.9,379.1C307.9,382.3 313.3,388.4 318.2,394.8C323.1,401.2 326.9,409.5 331.3,417.7C335.7,425.9 339.5,436.7 344.4,443.8C349.3,450.9 354.2,455.3 360.7,460.2C367.2,465.1 376.0,468.6 383.6,473.2C391.2,477.8 400.0,484.1 406.5,487.9C413.0,491.7 417.4,491.5 422.8,496.1C428.2,500.7 435.0,509.2 439.1,515.7C443.2,522.2 445.9,522.2 447.3,535.3C448.7,548.4 449.2,581.7 447.3,594.2C445.4,606.7 441.1,604.5 435.9,610.5C430.7,616.5 422.3,623.3 416.3,630.1C410.3,636.9 405.3,644.9 399.9,651.4C394.4,657.9 389.1,664.4 383.6,669.3C378.2,674.2 373.2,678.6 367.2,680.8C361.2,683.0 354.1,681.3 347.6,682.4C341.1,683.5 335.6,688.4 328,687.3C320.4,686.2 311.1,680.5 301.9,675.9C292.6,671.3 280.7,663.9 272.5,659.5C264.3,655.1 259.9,651.6 252.8,649.7C245.7,647.8 238.2,645.9 230,648.1C221.8,650.3 212.0,657.6 203.8,662.8C195.6,668.0 186.9,673.6 180.9,679.1C174.9,684.6 170.4,687.9 167.9,695.5C165.4,703.1 165.4,716.2 166.2,724.9C167.0,733.6 169.8,742.9 172.8,747.8C175.8,752.7 179.5,749.9 184.4,754.2C189.3,758.5 196.2,766.7 202.1,773.8C208.0,780.9 214.3,789.2 219.9,796.9C225.5,804.6 231.5,812.3 235.9,820C240.3,827.7 243.3,833.9 246.6,843.1C249.9,852.3 251.9,863.8 255.5,875C259.1,886.2 263.8,898.1 267.9,910.6C272.0,923.1 276.1,937.9 280.3,949.7C284.5,961.5 289.2,972.7 292.8,981.6C296.4,990.5 299.4,995.9 301.6,1003C303.8,1010.1 305.3,1008.9 305.9,1024.3C306.5,1039.7 306.8,1077.6 305.2,1095.4C303.6,1113.2 299.3,1122.0 296.3,1130.9C293.3,1139.8 291.2,1142.8 287.4,1148.7C283.5,1154.6 277.9,1160.5 273.2,1166.4C268.5,1172.3 264.9,1178.3 259,1184.2C253.1,1190.1 245.4,1196.8 237.7,1202C230.0,1207.2 225.2,1213.2 212.8,1215.5C200.4,1217.8 176.7,1219.5 163.1,1215.5C149.5,1211.5 140.6,1198.9 131.1,1191.3C121.6,1183.7 113.3,1177.1 106.2,1170C99.1,1162.9 93.1,1157.6 88.4,1148.7C83.7,1139.8 80.3,1125.6 77.8,1116.7C75.3,1107.8 74.2,1112.6 73.5,1095.4C72.8,1078.2 72.8,1034.3 73.5,1013.6C74.2,992.9 76.2,1001.8 77.8,971C79.4,940.2 81.3,861.4 83.1,828.8C84.9,796.2 86.5,788.5 88.4,775.5C90.4,762.5 93.5,759.1 94.8,750.7C96.1,742.3 95.8,752.1 96,724.9C96.2,697.7 95.2,612.6 96,587.6C96.8,562.6 99.3,579.0 100.9,574.6C102.5,570.2 103.1,567.0 105.8,561.5C108.5,556.0 113.1,547.9 117.2,541.9C121.3,535.9 126.2,531.0 130.3,525.5C134.4,520.0 135.4,517.1 141.7,509.2C148.0,501.3 158.9,486.3 167.9,478.1C176.9,469.9 186.9,464.3 195.6,460.2C204.3,456.1 213.1,458.5 220.2,453.6C227.3,448.7 234.3,438.9 238.1,430.7C241.9,422.5 240.0,412.2 243,404.6C246.0,397.0 251.7,389.6 256.1,385C260.5,380.4 264.8,378.3 269.2,376.8C273.6,375.3 276.9,375.4 282.3,375.8Z" fill="#fff" stroke="#fff" stroke-width="16" opacity="0.12"/><g filter="url(#bL)"><ellipse cx="213.6" cy="561.5" rx="98.1" ry="49.0" fill="#fff" opacity="0.28" transform="rotate(-20 213.6 561.5)"/><ellipse cx="230.0" cy="545.1" rx="65.4" ry="26.1" fill="#fff" opacity="0.35" transform="rotate(-5 230.0 545.1)"/><ellipse cx="177.3" cy="1038.5" rx="76.4" ry="167.0" fill="#fff" opacity="0.32"/><ellipse cx="184.4" cy="1059.8" rx="88.8" ry="127.9" fill="#fff" opacity="0.3"/><ellipse cx="354.2" cy="564.7" rx="81.7" ry="91.5" fill="#fff" opacity="0.3"/><ellipse cx="215" cy="510" rx="75.0" ry="30.0" fill="#fff" opacity="0.19" transform="rotate(-28 215 510)"/></g><g filter="url(#bH)"><ellipse cx="161.3" cy="896.4" rx="33.8" ry="76.4" fill="#fff" opacity="0.5"/><path d="M177.3,947.9C188.6,945.5 199.2,948.8 209.3,953.2C219.4,957.6 229.4,965.0 237.7,974.5C246.0,984.0 253.7,997.1 259,1010.1C264.3,1023.1 267.9,1039.7 269.7,1052.7C271.5,1065.7 271.5,1077.6 269.7,1088.3C267.9,1099.0 264.3,1107.5 259,1116.7C253.7,1125.9 245.4,1135.7 237.7,1143.3C230.0,1150.9 221.7,1157.8 212.8,1162.2C203.9,1166.7 193.9,1170.0 184.4,1170C174.9,1170.0 164.8,1166.7 155.9,1162.2C147.0,1157.8 138.2,1152.1 131.1,1143.3C124.0,1134.5 117.4,1121.1 113.3,1109.6C109.2,1098.0 107.4,1087.0 106.2,1074C105.0,1061.0 103.8,1044.4 106.2,1031.4C108.6,1018.4 114.5,1006.6 120.4,995.9C126.3,985.2 132.2,975.4 141.7,967.4C151.2,959.4 166.0,950.3 177.3,947.9Z" fill="#fff" stroke="#fff" stroke-width="8" stroke-linejoin="round" opacity="1"/></g><g filter="url(#bM)"><ellipse cx="233.2" cy="543.5" rx="49.0" ry="19.6" fill="#fff" opacity="0.19"/><ellipse cx="161.3" cy="882.1" rx="12.1" ry="42.6" fill="#fff" opacity="0.25"/><ellipse cx="285.5" cy="440.5" rx="31.1" ry="55.6" fill="#fff" opacity="0.3"/><path d="M274.1,476.5C277.0,471.6 288.2,469.7 293.7,473.2C299.1,476.7 305.2,489.0 306.8,497.7C308.4,506.4 306.5,520.3 303.5,525.5C300.5,530.7 293.3,532.6 288.8,528.8C284.3,525.0 278.8,511.3 276.4,502.6C273.9,493.9 271.2,481.4 274.1,476.5Z" fill="#fff" stroke="#fff" stroke-width="2" stroke-linejoin="round" opacity="0.55"/><path d="M297,530.4C299.4,525.2 300.0,518.0 303.5,512.5C307.0,507.1 312.5,501.0 318.2,497.7C323.9,494.4 332.4,492.5 337.8,492.8C343.2,493.1 347.1,496.2 350.9,499.4C354.7,502.6 355.8,509.4 360.7,511.8C365.6,514.2 373.8,514.3 380.3,514.1C386.8,513.9 394.4,509.2 399.9,510.8C405.3,512.4 408.9,518.4 413,523.9C417.1,529.4 421.9,536.1 424.4,543.5C426.8,550.9 428.5,560.6 427.7,568C426.9,575.4 424.1,582.7 419.5,587.6C414.9,592.5 404.8,594.1 399.9,597.4C395.0,600.7 392.3,602.8 390.1,607.2C387.9,611.6 389.6,619.2 386.9,623.6C384.2,628.0 379.2,630.4 373.8,633.4C368.4,636.4 360.2,640.5 354.2,641.6C348.2,642.7 343.2,642.4 337.8,639.9C332.4,637.4 325.9,632.3 321.5,626.9C317.1,621.5 314.4,613.8 311.7,607.2C309.0,600.7 307.0,593.6 305.1,587.6C303.2,581.6 302.4,576.2 300.2,571.3C298.0,566.4 294.0,562.8 292.1,558.2C290.2,553.6 288.0,548.1 288.8,543.5C289.6,538.9 294.6,535.6 297,530.4Z" fill="#fff" stroke="#fff" stroke-width="8" stroke-linejoin="round" opacity="1"/></g><g filter="url(#bS)"><path d="M283.2,409.8C287.7,409.8 293.5,413.7 296.6,418.3C299.7,422.9 301.6,431.1 301.9,437.3C302.2,443.5 300.4,449.9 298.6,455.3C296.9,460.8 293.5,465.9 291.4,470C289.3,474.1 287.7,478.2 286.2,479.8C284.7,481.4 284.1,481.4 282.3,479.8C280.5,478.2 277.6,474.1 275.1,470C272.7,465.9 269.4,460.8 267.6,455.3C265.8,449.9 263.9,443.5 264.3,437.3C264.7,431.1 266.7,422.9 269.8,418.3C272.9,413.7 278.7,409.8 283.2,409.8Z" fill="#fff" stroke="#fff" stroke-width="4" stroke-linejoin="round" opacity="1"/></g></g></g><mask id="mb" maskUnits="userSpaceOnUse" x="0" y="150" width="3456" height="1250"><g filter="url(#bE)"><path d="M688.8,324.5C695.1,323.1 706.2,326.4 711.7,329.4C717.2,332.4 717.1,336.5 721.5,342.5C725.9,348.5 732.1,358.3 737.8,365.4C743.5,372.5 751.7,376.8 755.8,385C759.9,393.2 761.5,405.1 762.3,414.4C763.1,423.6 763.4,433.4 760.7,440.5C758.0,447.6 746.5,450.9 746,456.9C745.5,462.9 752.8,470.0 757.4,476.5C762.0,483.0 766.7,487.9 773.8,496.1C780.9,504.3 792.3,515.1 799.9,525.5C807.5,535.9 814.5,547.9 819.5,558.2C824.5,568.6 828.1,571.8 830,587.6C831.9,603.4 831.1,631.2 830.6,653C830.1,674.8 827.7,701.0 826.7,718.4C825.7,735.8 824.0,742.1 824.8,757.6C825.6,773.1 829.7,783.8 831.7,811.1C833.7,838.4 835.2,891.6 836.7,921.2C838.2,950.8 839.1,968.6 841,988.8C842.9,1008.9 847.1,1022.6 848.1,1042.1C849.1,1061.6 849.8,1089.4 847.3,1106C844.8,1122.6 838.7,1130.7 833.1,1141.6C827.5,1152.5 822.8,1161.3 813.9,1171.4C805.0,1181.5 789.6,1194.3 779.8,1202C770.0,1209.7 769.8,1214.8 755,1217.3C740.2,1219.8 707.0,1221.0 691,1217.3C675.0,1213.6 668.5,1202.8 659,1194.9C649.5,1187.0 641.2,1177.7 634.1,1170C627.0,1162.3 621.1,1156.4 616.4,1148.7C611.7,1141.0 608.7,1132.1 605.7,1123.8C602.7,1115.5 599.8,1112.5 598.6,1098.9C597.4,1085.3 598.0,1055.1 598.6,1042.1C599.2,1029.1 599.7,1030.8 602.1,1020.7C604.5,1010.6 609.2,994.6 612.8,981.6C616.4,968.6 619.4,954.4 623.5,942.6C627.6,930.8 633.0,923.6 637.7,910.6C642.4,897.6 647.2,876.9 651.9,864.4C656.6,851.9 660.2,846.0 666.1,835.9C672.0,825.8 680.9,814.1 687.4,804C693.9,793.9 701.1,785.0 705.2,775.5C709.4,766.0 711.1,753.4 712.3,747.1C713.5,740.9 712.7,743.3 712.3,738C711.9,732.7 712.3,723.2 710,715.1C707.7,707.0 706.5,694.0 698.6,689.6C690.7,685.2 674.0,687.8 662.6,689C651.2,690.2 640.9,695.5 630,697.1C619.1,698.7 607.1,699.6 597.3,698.8C587.5,698.0 578.2,694.9 571.1,692.2C564.0,689.5 560.8,687.9 554.8,682.4C548.8,676.9 541.7,668.8 535.2,659.5C528.7,650.2 522.1,638.9 515.6,626.9C509.1,614.9 500.6,600.1 496,587.6C491.4,575.1 488.6,562.1 487.8,551.7C487.0,541.4 489.2,533.7 491.1,525.5C493.0,517.3 495.1,511.9 499.2,502.6C503.3,493.4 511.2,482.0 515.6,470C520.0,458.0 522.1,442.7 525.4,430.7C528.7,418.7 529.8,407.4 535.2,398.1C540.7,388.9 550.5,382.0 558.1,375.2C565.7,368.4 573.3,359.9 580.9,357.2C588.5,354.5 595.1,357.2 603.8,358.8C612.5,360.4 624.5,367.0 633.2,367C641.9,367.0 649.3,363.7 656.1,358.8C662.9,353.9 668.7,343.3 674.1,337.6C679.5,331.9 682.5,325.9 688.8,324.5Z" fill="#fff" stroke="#000" stroke-width="5"/></g></mask><g filter="url(#jet)"><g mask="url(#mb)"><path d="M688.8,324.5C695.1,323.1 706.2,326.4 711.7,329.4C717.2,332.4 717.1,336.5 721.5,342.5C725.9,348.5 732.1,358.3 737.8,365.4C743.5,372.5 751.7,376.8 755.8,385C759.9,393.2 761.5,405.1 762.3,414.4C763.1,423.6 763.4,433.4 760.7,440.5C758.0,447.6 746.5,450.9 746,456.9C745.5,462.9 752.8,470.0 757.4,476.5C762.0,483.0 766.7,487.9 773.8,496.1C780.9,504.3 792.3,515.1 799.9,525.5C807.5,535.9 814.5,547.9 819.5,558.2C824.5,568.6 828.1,571.8 830,587.6C831.9,603.4 831.1,631.2 830.6,653C830.1,674.8 827.7,701.0 826.7,718.4C825.7,735.8 824.0,742.1 824.8,757.6C825.6,773.1 829.7,783.8 831.7,811.1C833.7,838.4 835.2,891.6 836.7,921.2C838.2,950.8 839.1,968.6 841,988.8C842.9,1008.9 847.1,1022.6 848.1,1042.1C849.1,1061.6 849.8,1089.4 847.3,1106C844.8,1122.6 838.7,1130.7 833.1,1141.6C827.5,1152.5 822.8,1161.3 813.9,1171.4C805.0,1181.5 789.6,1194.3 779.8,1202C770.0,1209.7 769.8,1214.8 755,1217.3C740.2,1219.8 707.0,1221.0 691,1217.3C675.0,1213.6 668.5,1202.8 659,1194.9C649.5,1187.0 641.2,1177.7 634.1,1170C627.0,1162.3 621.1,1156.4 616.4,1148.7C611.7,1141.0 608.7,1132.1 605.7,1123.8C602.7,1115.5 599.8,1112.5 598.6,1098.9C597.4,1085.3 598.0,1055.1 598.6,1042.1C599.2,1029.1 599.7,1030.8 602.1,1020.7C604.5,1010.6 609.2,994.6 612.8,981.6C616.4,968.6 619.4,954.4 623.5,942.6C627.6,930.8 633.0,923.6 637.7,910.6C642.4,897.6 647.2,876.9 651.9,864.4C656.6,851.9 660.2,846.0 666.1,835.9C672.0,825.8 680.9,814.1 687.4,804C693.9,793.9 701.1,785.0 705.2,775.5C709.4,766.0 711.1,753.4 712.3,747.1C713.5,740.9 712.7,743.3 712.3,738C711.9,732.7 712.3,723.2 710,715.1C707.7,707.0 706.5,694.0 698.6,689.6C690.7,685.2 674.0,687.8 662.6,689C651.2,690.2 640.9,695.5 630,697.1C619.1,698.7 607.1,699.6 597.3,698.8C587.5,698.0 578.2,694.9 571.1,692.2C564.0,689.5 560.8,687.9 554.8,682.4C548.8,676.9 541.7,668.8 535.2,659.5C528.7,650.2 522.1,638.9 515.6,626.9C509.1,614.9 500.6,600.1 496,587.6C491.4,575.1 488.6,562.1 487.8,551.7C487.0,541.4 489.2,533.7 491.1,525.5C493.0,517.3 495.1,511.9 499.2,502.6C503.3,493.4 511.2,482.0 515.6,470C520.0,458.0 522.1,442.7 525.4,430.7C528.7,418.7 529.8,407.4 535.2,398.1C540.7,388.9 550.5,382.0 558.1,375.2C565.7,368.4 573.3,359.9 580.9,357.2C588.5,354.5 595.1,357.2 603.8,358.8C612.5,360.4 624.5,367.0 633.2,367C641.9,367.0 649.3,363.7 656.1,358.8C662.9,353.9 668.7,343.3 674.1,337.6C679.5,331.9 682.5,325.9 688.8,324.5Z" fill="#fff" stroke="#fff" stroke-width="16" opacity="0.12"/><g filter="url(#bL)"><ellipse cx="643.0" cy="440.5" rx="98.1" ry="42.5" fill="#fff" opacity="0.17"/><ellipse cx="649.6" cy="568.0" rx="153.6" ry="107.9" fill="#fff" opacity="0.32"/><ellipse cx="786.9" cy="607.2" rx="29.4" ry="75.2" fill="#fff" opacity="0.26"/><ellipse cx="728.0" cy="653.0" rx="81.7" ry="22.9" fill="#fff" opacity="0.22"/><ellipse cx="733.6" cy="967.4" rx="67.5" ry="159.9" fill="#fff" opacity="0.27"/><ellipse cx="719.4" cy="1059.8" rx="92.4" ry="124.4" fill="#fff" opacity="0.3"/></g><g filter="url(#bH)"><ellipse cx="715.9" cy="992.3" rx="71.1" ry="40.9" fill="#fff" opacity="0.38"/><path d="M673.2,988.8C680.3,982.9 686.8,978.1 694.5,978.1C702.2,978.1 708.1,985.8 719.4,988.8C730.7,991.8 750.9,990.0 762.1,995.9C773.4,1001.8 780.7,1013.6 786.9,1024.3C793.1,1035.0 797.0,1047.9 799.4,1059.8C801.8,1071.7 802.1,1084.7 801.2,1095.4C800.3,1106.1 798.8,1113.2 794,1123.8C789.2,1134.4 781.0,1149.8 772.7,1159.3C764.4,1168.8 753.8,1176.5 744.3,1180.7C734.8,1184.9 725.4,1185.4 715.9,1184.2C706.4,1183.0 696.9,1180.0 687.4,1173.5C677.9,1167.0 666.7,1155.2 659,1145.1C651.3,1135.0 645.4,1123.8 641.2,1113.1C637.1,1102.4 634.7,1092.5 634.1,1081.2C633.5,1070.0 634.7,1056.9 637.7,1045.6C640.7,1034.3 646.0,1023.1 651.9,1013.6C657.8,1004.1 666.1,994.7 673.2,988.8Z" fill="#fff" stroke="#fff" stroke-width="8" stroke-linejoin="round" opacity="1"/></g><g filter="url(#bM)"><ellipse cx="585.8" cy="427.5" rx="14.7" ry="31.1" fill="#fff" opacity="0.5"/><path d="M577.7,453.6C582.1,447.6 593.5,448.7 597.3,453.6C601.1,458.5 604.9,477.0 600.5,483C596.1,489.0 574.9,494.5 571.1,489.6C567.3,484.7 573.3,459.6 577.7,453.6Z" fill="#fff" stroke="#fff" stroke-width="6" stroke-linejoin="round" opacity="0.5"/><path d="M522.1,525.5C526.2,519.0 536.3,511.3 545,505.9C553.7,500.4 562.4,496.3 574.4,492.8C586.4,489.3 603.3,486.6 616.9,484.7C630.5,482.8 644.1,481.7 656.1,481.4C668.1,481.1 677.9,479.5 688.8,483C699.7,486.5 712.2,495.0 721.5,502.6C730.8,510.2 737.3,519.0 744.4,528.8C751.5,538.6 759.6,550.6 764,561.5C768.4,572.4 772.1,585.5 770.5,594.2C768.9,602.9 765.1,610.3 754.2,613.8C743.3,617.3 720.4,613.8 705.1,615.4C689.8,617.0 676.2,619.5 662.6,623.6C649.0,627.7 635.4,636.1 623.4,639.9C611.4,643.7 600.5,646.5 590.7,646.5C580.9,646.5 573.3,645.9 564.6,639.9C555.9,633.9 544.9,620.9 538.4,610.5C531.9,600.1 528.4,588.7 525.4,577.8C522.4,566.9 521.0,553.8 520.5,545.1C520.0,536.4 518.0,532.0 522.1,525.5Z" fill="#fff" stroke="#fff" stroke-width="5.0" stroke-linejoin="round" opacity="1"/></g><g filter="url(#bS)"><ellipse cx="697.9" cy="398.1" rx="30.1" ry="39.9" fill="#fff" opacity="1" transform="rotate(12 697.9 398.1)"/><ellipse cx="585.8" cy="425.8" rx="10.1" ry="18.0" fill="#fff" opacity="1"/></g></g></g><g opacity="0.25" shape-rendering="crispEdges"><rect x="238.7" y="331.5" width="83.1" height="28.0" fill="#ff80ff"/><rect x="211.0" y="359.2" width="138.5" height="28.0" fill="#ff80ff"/><rect x="183.3" y="386.9" width="193.9" height="28.0" fill="#ff80ff"/><rect x="155.6" y="414.6" width="221.6" height="28.0" fill="#ff80ff"/><rect x="155.6" y="442.3" width="221.6" height="28.0" fill="#ff80ff"/><rect x="127.9" y="470.1" width="277.0" height="28.0" fill="#ff80ff"/><rect x="127.9" y="497.8" width="277.0" height="28.0" fill="#ff80ff"/><rect x="100.2" y="525.5" width="304.7" height="28.0" fill="#80ff00"/><rect x="100.2" y="553.2" width="304.7" height="28.0" fill="#80ff00"/><rect x="100.2" y="580.9" width="304.7" height="28.0" fill="#80ff00"/><rect x="100.2" y="608.7" width="277.0" height="28.0" fill="#80ff00"/><rect x="100.2" y="636.4" width="249.3" height="28.0" fill="#80ff00"/><rect x="100.2" y="664.1" width="249.3" height="28.0" fill="#80ff00"/><rect x="100.2" y="691.8" width="221.6" height="28.0" fill="#80ff00"/><rect x="100.2" y="719.5" width="193.9" height="28.0" fill="#80ff00"/><rect x="100.2" y="747.3" width="193.9" height="28.0" fill="#ff8000"/><rect x="100.2" y="775.0" width="193.9" height="28.0" fill="#ff8000"/><rect x="100.2" y="802.7" width="193.9" height="28.0" fill="#ff8000"/><rect x="100.2" y="830.4" width="193.9" height="28.0" fill="#ff8000"/><rect x="100.2" y="858.1" width="193.9" height="28.0" fill="#ff8000"/><rect x="100.2" y="885.9" width="193.9" height="28.0" fill="#ff8000"/><rect x="100.2" y="913.6" width="193.9" height="28.0" fill="#ff8000"/><rect x="100.2" y="941.3" width="193.9" height="28.0" fill="#ff8000"/><rect x="100.2" y="969.0" width="193.9" height="28.0" fill="#ff8000"/><rect x="100.2" y="996.7" width="193.9" height="28.0" fill="#ff8000"/><rect x="100.2" y="1024.5" width="193.9" height="28.0" fill="#ff0000"/><rect x="100.2" y="1052.2" width="193.9" height="28.0" fill="#ff0000"/><rect x="100.2" y="1079.9" width="193.9" height="28.0" fill="#ff0000"/><rect x="100.2" y="1107.6" width="193.9" height="28.0" fill="#ff0000"/><rect x="127.9" y="1135.3" width="138.5" height="28.0" fill="#ff0000"/><rect x="155.6" y="1163.1" width="83.1" height="28.0" fill="#ff0000"/></g><g opacity="0.25" shape-rendering="crispEdges"><rect x="598.8" y="331.5" width="83.1" height="28.0" fill="#ff80ff"/><rect x="571.1" y="359.2" width="138.5" height="28.0" fill="#ff80ff"/><rect x="543.4" y="386.9" width="193.9" height="28.0" fill="#ff80ff"/><rect x="543.4" y="414.6" width="221.6" height="28.0" fill="#ff80ff"/><rect x="543.4" y="442.3" width="221.6" height="28.0" fill="#ff80ff"/><rect x="515.7" y="470.1" width="277.0" height="28.0" fill="#ff80ff"/><rect x="515.7" y="497.8" width="277.0" height="28.0" fill="#ff80ff"/><rect x="515.7" y="525.5" width="304.7" height="28.0" fill="#80ff00"/><rect x="515.7" y="553.2" width="304.7" height="28.0" fill="#80ff00"/><rect x="515.7" y="580.9" width="304.7" height="28.0" fill="#80ff00"/><rect x="543.4" y="608.7" width="277.0" height="28.0" fill="#80ff00"/><rect x="571.1" y="636.4" width="249.3" height="28.0" fill="#80ff00"/><rect x="571.1" y="664.1" width="249.3" height="28.0" fill="#80ff00"/><rect x="598.8" y="691.8" width="221.6" height="28.0" fill="#80ff00"/><rect x="626.5" y="719.5" width="193.9" height="28.0" fill="#80ff00"/><rect x="626.5" y="747.3" width="193.9" height="28.0" fill="#ff8000"/><rect x="626.5" y="775.0" width="193.9" height="28.0" fill="#ff8000"/><rect x="626.5" y="802.7" width="193.9" height="28.0" fill="#ff8000"/><rect x="626.5" y="830.4" width="193.9" height="28.0" fill="#ff8000"/><rect x="626.5" y="858.1" width="193.9" height="28.0" fill="#ff8000"/><rect x="626.5" y="885.9" width="193.9" height="28.0" fill="#ff8000"/><rect x="626.5" y="913.6" width="193.9" height="28.0" fill="#ff8000"/><rect x="626.5" y="941.3" width="193.9" height="28.0" fill="#ff8000"/><rect x="626.5" y="969.0" width="193.9" height="28.0" fill="#ff8000"/><rect x="626.5" y="996.7" width="193.9" height="28.0" fill="#ff8000"/><rect x="626.5" y="1024.5" width="193.9" height="28.0" fill="#ff0000"/><rect x="626.5" y="1052.2" width="193.9" height="28.0" fill="#ff0000"/><rect x="626.5" y="1079.9" width="193.9" height="28.0" fill="#ff0000"/><rect x="626.5" y="1107.6" width="193.9" height="28.0" fill="#ff0000"/><rect x="654.2" y="1135.3" width="138.5" height="28.0" fill="#ff0000"/><rect x="681.9" y="1163.1" width="83.1" height="28.0" fill="#ff0000"/></g><g transform="translate(314.3,545.1)"><circle r="13" fill="#ececec"/><path d="M0,0 L0,-13 A13,13 0 0 1 13,0 Z" fill="#ff0000"/><path d="M0,0 L0,13 A13,13 0 0 1 -13,0 Z" fill="#ff0000"/><circle r="13" fill="none" stroke="#000" stroke-width="1.6"/><path d="M-13,0 H13 M0,-13 V13" stroke="#000" stroke-width="1.2800000000000002"/></g><g transform="translate(640.7,526.2)"><circle r="13" fill="#ececec"/><path d="M0,0 L0,-13 A13,13 0 0 1 13,0 Z" fill="#ff0000"/><path d="M0,0 L0,13 A13,13 0 0 1 -13,0 Z" fill="#ff0000"/><circle r="13" fill="none" stroke="#000" stroke-width="1.6"/><path d="M-13,0 H13 M0,-13 V13" stroke="#000" stroke-width="1.2800000000000002"/></g><g transform="translate(473.5,780.9)"><circle r="8.5" fill="#ececec"/><path d="M0,0 L0,-8.5 A8.5,8.5 0 0 1 8.5,0 Z" fill="#2fb400"/><path d="M0,0 L0,8.5 A8.5,8.5 0 0 1 -8.5,0 Z" fill="#2fb400"/><circle r="8.5" fill="none" stroke="#000" stroke-width="1"/><path d="M-8.5,0 H8.5 M0,-8.5 V8.5" stroke="#000" stroke-width="0.8"/></g></g><path d="M460.5,158 V1366" stroke="#000" stroke-width="1.6" fill="none"/><rect x="22.7" y="154.7" width="873.6" height="1212.6" fill="none" stroke="#2f2f2f" stroke-width="6.4"/><rect x="1727.0" y="151.5" width="880" height="1219.5" fill="#f3f3f3"/><clipPath id="rc1707"><rect x="1729.0" y="153" width="876" height="1216"/></clipPath><g font-family="Liberation Sans, Arial, sans-serif" font-size="22.5" fill="#3a3a3a" clip-path="url(#rc1707)"><text x="1821.3" y="168.6" text-anchor="middle">1</text><text x="1876.8" y="168.6" text-anchor="middle">3</text><text x="1932.1" y="168.6" text-anchor="middle">5</text><text x="1987.5" y="168.6" text-anchor="middle">7</text><text x="2042.9" y="168.6" text-anchor="middle">9</text><text x="2098.3" y="168.6" text-anchor="middle">11</text><text x="2236.8" y="168.6" text-anchor="middle">1</text><text x="2292.2" y="168.6" text-anchor="middle">3</text><text x="2347.7" y="168.6" text-anchor="middle">5</text><text x="2403.0" y="168.6" text-anchor="middle">7</text><text x="2458.4" y="168.6" text-anchor="middle">9</text><text x="2513.8" y="168.6" text-anchor="middle">11</text><text transform="translate(1744.8,345.3) rotate(-90) scale(1,1.35)" text-anchor="middle">1</text><text transform="translate(1744.8,456.2) rotate(-90) scale(1,1.35)" text-anchor="middle">5</text><text transform="translate(1744.8,567.1) rotate(-90) scale(1,1.35)" text-anchor="middle">9</text><text transform="translate(1744.8,678.0) rotate(-90) scale(1,1.35)" text-anchor="middle">13</text><text transform="translate(1744.8,788.8) rotate(-90) scale(1,1.35)" text-anchor="middle">17</text><text transform="translate(1744.8,899.7) rotate(-90) scale(1,1.35)" text-anchor="middle">21</text><text transform="translate(1744.8,1010.6) rotate(-90) scale(1,1.35)" text-anchor="middle">25</text><text transform="translate(1744.8,1121.5) rotate(-90) scale(1,1.35)" text-anchor="middle">29</text></g><path d="M1821.3,169.8 V174.8 M1849.0,172.10000000000002 V174.8 M1876.8,169.8 V174.8 M1904.4,172.10000000000002 V174.8 M1932.1,169.8 V174.8 M1959.8,172.10000000000002 V174.8 M1987.5,169.8 V174.8 M2015.2,172.10000000000002 V174.8 M2042.9,169.8 V174.8 M2070.7,172.10000000000002 V174.8 M2098.3,169.8 V174.8 M2126.0,172.10000000000002 V174.8 M2236.8,169.8 V174.8 M2264.5,172.10000000000002 V174.8 M2292.2,169.8 V174.8 M2319.9,172.10000000000002 V174.8 M2347.7,169.8 V174.8 M2375.3,172.10000000000002 V174.8 M2403.0,169.8 V174.8 M2430.8,172.10000000000002 V174.8 M2458.4,169.8 V174.8 M2486.2,172.10000000000002 V174.8 M2513.8,169.8 V174.8 M2541.5,172.10000000000002 V174.8 M1743.9,234.4 H1750.4 M1747.4,289.9 H1750.4 M1743.9,345.3 H1750.4 M1747.4,400.8 H1750.4 M1743.9,456.2 H1750.4 M1747.4,511.6 H1750.4 M1743.9,567.1 H1750.4 M1747.4,622.5 H1750.4 M1743.9,678.0 H1750.4 M1747.4,733.4 H1750.4 M1743.9,788.8 H1750.4 M1747.4,844.3 H1750.4 M1743.9,899.7 H1750.4 M1747.4,955.2 H1750.4 M1743.9,1010.6 H1750.4 M1747.4,1066.0 H1750.4 M1743.9,1121.5 H1750.4 M1747.4,1176.9 H1750.4 M1743.9,1232.4 H1750.4 M1747.4,1287.8 H1750.4 " stroke="#333" stroke-width="1" fill="none"/><path d="M1752.5,174.5 H2582.5 M1750.0,177 V1346" stroke="#222" stroke-width="1" fill="none"/><rect x="1753.0" y="177.5" width="829.5" height="1168" fill="#c0c0c0" stroke="#000" stroke-width="1"/><g><path d="M1996.8,332.7C2006.6,332.8 2019.7,333.3 2029.5,333.7C2039.3,334.1 2046.9,333.8 2055.6,335.3C2064.3,336.8 2075.0,338.9 2081.8,342.5C2088.6,346.1 2093.0,351.8 2096.5,357.2C2100.0,362.6 2101.1,367.3 2103,375.2C2104.9,383.1 2106.7,394.2 2107.9,404.6C2109.1,415.0 2109.6,426.4 2110.2,437.3C2110.8,448.2 2110.6,459.1 2111.2,470C2111.8,480.9 2112.5,491.7 2113.5,502.6C2114.5,513.5 2116.3,524.4 2117.1,535.3C2117.9,546.2 2118.8,557.1 2118.4,568C2118.0,578.9 2116.8,589.8 2114.5,600.7C2112.2,611.6 2108.5,623.6 2104.7,633.4C2100.9,643.2 2096.5,651.6 2091.6,659.5C2086.7,667.4 2081.2,674.2 2075.2,680.8C2069.2,687.3 2060.8,693.5 2055.6,698.8C2050.4,704.1 2047.3,707.6 2044.2,712.5C2041.1,717.4 2038.7,722.9 2036.7,728.2C2034.7,733.5 2032.5,742.5 2032.1,744.5C2031.7,746.5 2035.0,737.2 2034.5,740C2034.0,742.8 2030.7,749.4 2029.2,761.3C2027.7,773.1 2026.6,791.0 2025.6,811.1C2024.6,831.2 2024.0,858.4 2023.2,882.1C2022.4,905.8 2021.6,929.5 2021,953.2C2020.4,976.9 2020.3,1003.6 2019.6,1024.3C2018.9,1045.0 2017.9,1063.4 2016.8,1077.6C2015.7,1091.8 2015.0,1100.1 2013.2,1109.6C2011.4,1119.1 2009.1,1127.1 2006.1,1134.5C2003.1,1141.9 2000.1,1147.5 1995.4,1154C1990.7,1160.5 1984.8,1167.8 1977.7,1173.5C1970.6,1179.2 1961.7,1184.2 1952.8,1188.5C1943.9,1192.8 1934.5,1196.6 1924.4,1199.1C1914.3,1201.6 1903.0,1203.9 1892.4,1203.4C1881.9,1202.9 1870.5,1200.8 1861.1,1196.3C1851.7,1191.8 1843.9,1184.3 1836.2,1176.4C1828.5,1168.5 1820.7,1157.8 1814.9,1148.7C1809.1,1139.6 1804.7,1133.2 1801.4,1122C1798.1,1110.8 1796.3,1097.5 1795,1081.2C1793.7,1064.9 1793.1,1045.6 1793.6,1024.3C1794.1,1003.0 1796.5,982.8 1798.2,953.2C1799.9,923.6 1801.7,880.8 1803.5,846.6C1805.3,812.4 1807.9,779.0 1809.2,747.8C1810.5,716.6 1810.8,685.1 1811.5,659.5C1812.2,633.9 1812.6,610.5 1813.1,594.2C1813.6,577.9 1814.0,573.0 1814.7,561.5C1815.4,550.0 1816.2,535.3 1817,525.5C1817.8,515.7 1818.5,510.8 1819.6,502.6C1820.7,494.4 1821.8,484.7 1823.6,476.5C1825.3,468.3 1827.6,461.2 1830.1,453.6C1832.5,446.0 1835.0,437.8 1838.3,430.7C1841.6,423.6 1843.4,418.5 1849.7,411.1C1856.0,403.8 1867.7,394.2 1875.9,386.6C1884.1,379.0 1892.7,371.1 1898.7,365.4C1904.7,359.7 1906.9,356.2 1911.8,352.3C1916.7,348.4 1922.2,344.5 1928.2,341.8C1934.2,339.1 1940.7,337.4 1947.8,336C1954.9,334.6 1962.4,333.9 1970.6,333.3C1978.8,332.8 1987.0,332.6 1996.8,332.7Z" fill="#fff" stroke="#1a1a1a" stroke-width="4" stroke-linejoin="round"/><path d="M2341.2,332.7C2331.4,332.8 2318.3,333.3 2308.5,333.7C2298.7,334.1 2291.1,333.8 2282.4,335.3C2273.7,336.8 2263.0,338.9 2256.2,342.5C2249.4,346.1 2245.0,351.8 2241.5,357.2C2238.0,362.6 2236.9,367.3 2235,375.2C2233.1,383.1 2231.3,394.2 2230.1,404.6C2228.9,415.0 2228.4,426.4 2227.8,437.3C2227.2,448.2 2227.4,459.1 2226.8,470C2226.2,480.9 2225.5,491.7 2224.5,502.6C2223.5,513.5 2221.7,524.4 2220.9,535.3C2220.1,546.2 2219.2,557.1 2219.6,568C2220.0,578.9 2221.2,589.8 2223.5,600.7C2225.8,611.6 2229.5,623.6 2233.3,633.4C2237.1,643.2 2241.5,651.6 2246.4,659.5C2251.3,667.4 2256.8,674.2 2262.8,680.8C2268.8,687.3 2277.2,693.5 2282.4,698.8C2287.6,704.1 2290.7,707.6 2293.8,712.5C2297.0,717.4 2299.3,722.9 2301.3,728.2C2303.3,733.5 2305.5,742.5 2305.9,744.5C2306.3,746.5 2303.0,737.2 2303.5,740C2304.0,742.8 2307.3,749.4 2308.8,761.3C2310.3,773.1 2311.4,791.0 2312.4,811.1C2313.4,831.2 2314.0,858.4 2314.8,882.1C2315.6,905.8 2316.4,929.5 2317,953.2C2317.6,976.9 2317.7,1003.6 2318.4,1024.3C2319.1,1045.0 2320.1,1063.4 2321.2,1077.6C2322.3,1091.8 2323.0,1100.1 2324.8,1109.6C2326.6,1119.1 2328.9,1127.1 2331.9,1134.5C2334.9,1141.9 2337.9,1147.5 2342.6,1154C2347.3,1160.5 2353.2,1167.8 2360.3,1173.5C2367.4,1179.2 2376.3,1184.2 2385.2,1188.5C2394.1,1192.8 2403.5,1196.6 2413.6,1199.1C2423.7,1201.6 2435.0,1203.9 2445.6,1203.4C2456.2,1202.9 2467.5,1200.8 2476.9,1196.3C2486.3,1191.8 2494.1,1184.3 2501.8,1176.4C2509.5,1168.5 2517.3,1157.8 2523.1,1148.7C2528.9,1139.6 2533.3,1133.2 2536.6,1122C2539.9,1110.8 2541.7,1097.5 2543,1081.2C2544.3,1064.9 2544.9,1045.6 2544.4,1024.3C2543.9,1003.0 2541.5,982.8 2539.8,953.2C2538.2,923.6 2536.3,880.8 2534.5,846.6C2532.7,812.4 2530.1,779.0 2528.8,747.8C2527.5,716.6 2527.2,685.1 2526.5,659.5C2525.8,633.9 2525.4,610.5 2524.9,594.2C2524.4,577.9 2524.0,573.0 2523.3,561.5C2522.7,550.0 2521.8,535.3 2521,525.5C2520.2,515.7 2519.5,510.8 2518.4,502.6C2517.3,494.4 2516.2,484.7 2514.4,476.5C2512.7,468.3 2510.4,461.2 2507.9,453.6C2505.4,446.0 2503.0,437.8 2499.7,430.7C2496.4,423.6 2494.6,418.5 2488.3,411.1C2482.0,403.8 2470.3,394.2 2462.1,386.6C2453.9,379.0 2445.3,371.1 2439.3,365.4C2433.3,359.7 2431.1,356.2 2426.2,352.3C2421.3,348.4 2415.8,344.5 2409.8,341.8C2403.8,339.1 2397.3,337.4 2390.2,336C2383.1,334.6 2375.6,333.9 2367.4,333.3C2359.2,332.8 2351.0,332.6 2341.2,332.7Z" fill="#fff" stroke="#1a1a1a" stroke-width="4" stroke-linejoin="round"/><mask id="mc" maskUnits="userSpaceOnUse" x="0" y="150" width="3456" height="1250"><g filter="url(#bE)"><path d="M1977.2,357.2C1983.5,355.3 1996.2,356.4 2001.7,357.2C2007.2,358.0 2005.8,358.6 2009.9,362.1C2014.0,365.6 2021.3,372.4 2026.2,378.4C2031.1,384.4 2034.9,390.5 2039.3,398.1C2043.7,405.7 2047.5,416.6 2052.4,424.2C2057.3,431.8 2063.3,437.8 2068.7,443.8C2074.1,449.8 2077.9,455.8 2085,460.2C2092.1,464.6 2105.2,467.3 2111.2,470C2117.2,472.7 2118.3,473.2 2121,476.5C2123.7,479.8 2123.7,484.7 2127.5,489.6C2131.3,494.5 2140.3,499.9 2143.9,505.9C2147.5,511.9 2146.9,519.5 2148.8,525.5C2150.7,531.5 2154.2,533.2 2155.3,541.9C2156.4,550.6 2157.2,569.1 2155.3,577.8C2153.4,586.5 2148.5,586.6 2143.9,594.2C2139.3,601.8 2133.5,616.5 2127.5,623.6C2121.5,630.7 2113.9,630.7 2107.9,636.7C2101.9,642.7 2095.9,652.4 2091.6,659.5C2087.2,666.6 2086.7,671.5 2081.8,679.1C2076.9,686.7 2068.2,697.7 2062.2,705.3C2056.2,712.9 2050.4,718.4 2045.8,724.9C2041.2,731.4 2036.9,740.2 2034.4,744.5C2031.9,748.8 2032.5,745.5 2031,750.7C2029.5,755.9 2026.5,753.6 2025.6,775.5C2024.7,797.4 2026.2,846.6 2025.6,882.1C2025.0,917.6 2024.2,958.0 2022.1,988.8C2020.0,1019.6 2017.0,1044.4 2013.2,1066.9C2009.4,1089.4 2003.7,1109.6 1999,1123.8C1994.3,1138.0 1990.1,1143.3 1984.8,1152.2C1979.5,1161.1 1973.5,1170.6 1967,1177.1C1960.5,1183.6 1954.6,1186.1 1945.7,1191.3C1936.8,1196.5 1925.6,1205.6 1913.7,1208.4C1901.8,1211.2 1885.8,1210.7 1874.6,1208.4C1863.3,1206.2 1855.7,1201.9 1846.2,1194.9C1836.7,1187.9 1826.1,1175.9 1817.8,1166.4C1809.5,1156.9 1801.7,1148.1 1796.4,1138C1791.1,1127.9 1787.6,1130.9 1785.8,1106C1784.0,1081.1 1784.9,1020.2 1785.8,988.8C1786.7,957.4 1789.3,947.3 1791.1,917.7C1792.9,888.1 1794.0,838.9 1796.4,811.1C1798.8,783.3 1803.2,761.2 1805.3,750.7C1807.4,740.2 1807.5,749.4 1808.9,747.8C1810.3,746.2 1809.7,747.7 1813.8,741.2C1817.9,734.7 1827.4,719.0 1833.4,708.6C1839.4,698.2 1843.2,688.4 1849.7,679.1C1856.2,669.8 1868.8,669.3 1872.6,653C1876.4,636.7 1871.5,595.3 1872.6,581.1C1873.7,566.9 1870.9,577.3 1879.1,568C1887.3,558.7 1913.4,537.5 1921.6,525.5C1929.8,513.5 1925.5,504.3 1928.2,496.1C1930.9,487.9 1934.2,483.0 1938,476.5C1941.8,470.0 1948.5,464.5 1951,456.9C1953.5,449.3 1951.9,442.1 1952.7,430.7C1953.5,419.2 1954.0,398.5 1955.9,388.2C1957.8,377.9 1960.5,373.8 1964.1,368.6C1967.6,363.4 1970.9,359.1 1977.2,357.2Z" fill="#fff" stroke="#000" stroke-width="5"/></g></mask><g filter="url(#jet)"><g mask="url(#mc)"><path d="M1977.2,357.2C1983.5,355.3 1996.2,356.4 2001.7,357.2C2007.2,358.0 2005.8,358.6 2009.9,362.1C2014.0,365.6 2021.3,372.4 2026.2,378.4C2031.1,384.4 2034.9,390.5 2039.3,398.1C2043.7,405.7 2047.5,416.6 2052.4,424.2C2057.3,431.8 2063.3,437.8 2068.7,443.8C2074.1,449.8 2077.9,455.8 2085,460.2C2092.1,464.6 2105.2,467.3 2111.2,470C2117.2,472.7 2118.3,473.2 2121,476.5C2123.7,479.8 2123.7,484.7 2127.5,489.6C2131.3,494.5 2140.3,499.9 2143.9,505.9C2147.5,511.9 2146.9,519.5 2148.8,525.5C2150.7,531.5 2154.2,533.2 2155.3,541.9C2156.4,550.6 2157.2,569.1 2155.3,577.8C2153.4,586.5 2148.5,586.6 2143.9,594.2C2139.3,601.8 2133.5,616.5 2127.5,623.6C2121.5,630.7 2113.9,630.7 2107.9,636.7C2101.9,642.7 2095.9,652.4 2091.6,659.5C2087.2,666.6 2086.7,671.5 2081.8,679.1C2076.9,686.7 2068.2,697.7 2062.2,705.3C2056.2,712.9 2050.4,718.4 2045.8,724.9C2041.2,731.4 2036.9,740.2 2034.4,744.5C2031.9,748.8 2032.5,745.5 2031,750.7C2029.5,755.9 2026.5,753.6 2025.6,775.5C2024.7,797.4 2026.2,846.6 2025.6,882.1C2025.0,917.6 2024.2,958.0 2022.1,988.8C2020.0,1019.6 2017.0,1044.4 2013.2,1066.9C2009.4,1089.4 2003.7,1109.6 1999,1123.8C1994.3,1138.0 1990.1,1143.3 1984.8,1152.2C1979.5,1161.1 1973.5,1170.6 1967,1177.1C1960.5,1183.6 1954.6,1186.1 1945.7,1191.3C1936.8,1196.5 1925.6,1205.6 1913.7,1208.4C1901.8,1211.2 1885.8,1210.7 1874.6,1208.4C1863.3,1206.2 1855.7,1201.9 1846.2,1194.9C1836.7,1187.9 1826.1,1175.9 1817.8,1166.4C1809.5,1156.9 1801.7,1148.1 1796.4,1138C1791.1,1127.9 1787.6,1130.9 1785.8,1106C1784.0,1081.1 1784.9,1020.2 1785.8,988.8C1786.7,957.4 1789.3,947.3 1791.1,917.7C1792.9,888.1 1794.0,838.9 1796.4,811.1C1798.8,783.3 1803.2,761.2 1805.3,750.7C1807.4,740.2 1807.5,749.4 1808.9,747.8C1810.3,746.2 1809.7,747.7 1813.8,741.2C1817.9,734.7 1827.4,719.0 1833.4,708.6C1839.4,698.2 1843.2,688.4 1849.7,679.1C1856.2,669.8 1868.8,669.3 1872.6,653C1876.4,636.7 1871.5,595.3 1872.6,581.1C1873.7,566.9 1870.9,577.3 1879.1,568C1887.3,558.7 1913.4,537.5 1921.6,525.5C1929.8,513.5 1925.5,504.3 1928.2,496.1C1930.9,487.9 1934.2,483.0 1938,476.5C1941.8,470.0 1948.5,464.5 1951,456.9C1953.5,449.3 1951.9,442.1 1952.7,430.7C1953.5,419.2 1954.0,398.5 1955.9,388.2C1957.8,377.9 1960.5,373.8 1964.1,368.6C1967.6,363.4 1970.9,359.1 1977.2,357.2Z" fill="#fff" stroke="#fff" stroke-width="16" opacity="0.12"/><g filter="url(#bL)"><ellipse cx="1910.1" cy="889.3" rx="92.4" ry="184.8" fill="#fff" opacity="0.22"/><ellipse cx="1993.5" cy="643.2" rx="37.6" ry="137.3" fill="#fff" opacity="0.32" transform="rotate(8 1993.5 643.2)"/><ellipse cx="2062.2" cy="561.5" rx="85.0" ry="91.5" fill="#fff" opacity="0.28"/><ellipse cx="1895.9" cy="1052.7" rx="85.3" ry="135.0" fill="#fff" opacity="0.36"/></g><g filter="url(#bH)"><ellipse cx="1895.9" cy="1045.6" rx="64.0" ry="95.9" fill="#fff" opacity="0.2"/></g><g filter="url(#bM)"><ellipse cx="1991.2" cy="414.4" rx="19.6" ry="36.0" fill="#fff" opacity="0.42"/><ellipse cx="1996.8" cy="483.0" rx="22.9" ry="39.2" fill="#fff" opacity="0.22"/><path d="M1817.8,1059.8C1818.4,1044.4 1819.6,1023.1 1824.9,1010.1C1830.2,997.1 1839.6,989.9 1849.7,981.6C1859.8,973.3 1875.2,965.0 1885.3,960.3C1895.4,955.6 1901.2,952.0 1910.1,953.2C1919.0,954.4 1930.3,961.5 1938.6,967.4C1946.9,973.3 1955.2,979.3 1959.9,988.8C1964.6,998.3 1967.0,1012.5 1967,1024.3C1967.0,1036.1 1961.1,1047.9 1959.9,1059.8C1958.7,1071.7 1962.3,1083.6 1959.9,1095.4C1957.5,1107.2 1952.8,1123.8 1945.7,1130.9C1938.6,1138.0 1926.2,1134.5 1917.3,1138C1908.4,1141.5 1901.3,1149.2 1892.4,1152.2C1883.5,1155.2 1872.8,1158.2 1863.9,1155.8C1855.0,1153.4 1846.2,1146.9 1839.1,1138C1832.0,1129.1 1824.8,1115.5 1821.3,1102.5C1817.8,1089.5 1817.2,1075.2 1817.8,1059.8Z" fill="#fff" opacity="0.27"/><ellipse cx="2042.6" cy="643.2" rx="13.1" ry="22.9" fill="#fff" opacity="0.6"/><path d="M2022.9,525.5C2024.3,516.8 2022.4,502.4 2026.2,496.1C2030.0,489.8 2037.1,487.9 2045.8,487.9C2054.5,487.9 2067.6,491.5 2078.5,496.1C2089.4,500.7 2103.0,507.0 2111.2,515.7C2119.4,524.4 2124.5,539.1 2127.5,548.4C2130.5,557.7 2131.4,563.7 2129.2,571.3C2127.0,578.9 2121.3,587.1 2114.5,594.2C2107.7,601.3 2097.0,608.9 2088.3,613.8C2079.6,618.7 2070.4,622.2 2062.2,623.6C2054.0,625.0 2045.3,625.2 2039.3,621.9C2033.3,618.6 2029.5,611.4 2026.2,604C2022.9,596.6 2021.1,587.1 2019.7,577.8C2018.3,568.5 2017.5,557.1 2018,548.4C2018.5,539.7 2021.5,534.2 2022.9,525.5Z" fill="#fff" stroke="#fff" stroke-width="9.0" stroke-linejoin="round" opacity="1"/></g><g filter="url(#bS)"><ellipse cx="1985.5" cy="779.1" rx="10.7" ry="24.2" fill="#fff" opacity="0.55"/><path d="M1828.4,1059.8C1829.0,1051.5 1833.8,1043.8 1839.1,1038.5C1844.4,1033.2 1852.7,1030.2 1860.4,1027.8C1868.1,1025.4 1879.4,1026.7 1885.3,1024.3C1891.2,1021.9 1891.8,1014.8 1895.9,1013.6C1900.0,1012.4 1907.7,1012.5 1910.1,1017.2C1912.5,1022.0 1908.3,1033.8 1910.1,1042.1C1911.9,1050.4 1916.6,1059.2 1920.8,1066.9C1925.0,1074.6 1932.0,1080.0 1935,1088.3C1938.0,1096.6 1939.8,1110.2 1938.6,1116.7C1937.4,1123.2 1932.7,1127.9 1927.9,1127.3C1923.2,1126.7 1919.0,1116.0 1910.1,1113.1C1901.2,1110.1 1884.7,1110.8 1874.6,1109.6C1864.5,1108.4 1856.2,1109.5 1849.7,1106C1843.2,1102.5 1839.0,1096.0 1835.5,1088.3C1832.0,1080.6 1827.8,1068.1 1828.4,1059.8Z" fill="#fff" stroke="#fff" stroke-width="2" stroke-linejoin="round" opacity="1"/><ellipse cx="1991.2" cy="412.8" rx="11.4" ry="21.6" fill="#fff" opacity="1"/></g></g></g><mask id="md" maskUnits="userSpaceOnUse" x="0" y="150" width="3456" height="1250"><g filter="url(#bE)"><path d="M2292.2,357.2C2302.0,355.5 2322.7,356.8 2331.4,358.2C2340.1,359.6 2338.0,363.7 2344.5,365.4C2351.0,367.1 2362.4,369.8 2370.6,368.6C2378.8,367.4 2385.9,359.8 2393.5,358.2C2401.1,356.6 2410.4,356.5 2416.4,358.8C2422.4,361.1 2423.5,365.9 2429.5,371.9C2435.5,377.9 2444.8,387.2 2452.4,394.8C2460.0,402.4 2469.2,410.1 2475.2,417.7C2481.2,425.3 2483.4,431.2 2488.3,440.5C2493.2,449.8 2500.9,463.9 2504.7,473.2C2508.5,482.5 2509.6,487.4 2511.2,496.1C2512.8,504.8 2511.8,515.1 2514.5,525.5C2517.2,535.9 2523.7,546.8 2527.5,558.2C2531.3,569.7 2534.9,577.3 2537.3,594.2C2539.8,611.1 2541.2,633.4 2542.2,659.5C2543.2,685.6 2542.8,728.8 2543.2,751.1C2543.6,773.4 2543.6,780.9 2544.7,793.3C2545.8,805.7 2548.5,792.7 2550,825.3C2551.5,857.9 2552.1,953.8 2553.6,988.8C2555.1,1023.8 2558.0,1014.9 2558.9,1035C2559.8,1055.1 2559.5,1094.2 2558.9,1109.6C2558.3,1125.0 2557.7,1120.2 2555.3,1127.3C2552.9,1134.4 2550.0,1143.3 2544.7,1152.2C2539.4,1161.1 2531.1,1171.8 2523.4,1180.7C2515.7,1189.6 2506.8,1198.5 2498.5,1205.5C2490.2,1212.5 2490.8,1220.0 2473.6,1222.6C2456.4,1225.1 2413.2,1224.8 2395.4,1220.8C2377.6,1216.8 2375.3,1206.3 2367,1198.4C2358.7,1190.5 2352.2,1181.8 2345.7,1173.5C2339.2,1165.2 2332.9,1157.0 2327.9,1148.7C2322.9,1140.4 2318.5,1131.5 2315.5,1123.8C2312.5,1116.1 2311.0,1114.9 2310.1,1102.5C2309.2,1090.1 2309.5,1061.0 2310.1,1049.2C2310.7,1037.4 2312.8,1047.4 2313.7,1031.4C2314.6,1015.4 2313.7,968.6 2315.5,953.2C2317.3,937.8 2322.8,971.0 2324.4,939C2326.0,907.0 2325.0,792.1 2325.1,761.3C2325.2,730.5 2326.0,756.5 2324.9,754.3C2323.8,752.0 2322.8,752.1 2318.4,747.8C2314.0,743.4 2305.8,735.3 2298.7,728.2C2291.6,721.1 2283.5,714.0 2275.9,705.3C2268.3,696.6 2260.1,685.7 2253,675.9C2245.9,666.1 2239.4,656.9 2233.4,646.5C2227.4,636.1 2221.8,625.2 2217,613.8C2212.2,602.3 2206.7,592.0 2204.6,577.8C2202.5,563.6 2203.6,539.7 2204.6,528.8C2205.6,517.9 2208.4,519.0 2210.5,512.5C2212.6,506.0 2214.8,496.7 2217,489.6C2219.2,482.5 2221.4,478.7 2223.6,470C2225.8,461.3 2227.4,447.7 2230.1,437.3C2232.8,426.9 2236.6,416.6 2239.9,407.9C2243.2,399.2 2244.2,391.6 2249.7,385C2255.1,378.4 2265.5,373.2 2272.6,368.6C2279.7,364.0 2282.4,358.9 2292.2,357.2Z" fill="#fff" stroke="#000" stroke-width="5"/></g></mask><g filter="url(#jet)"><g mask="url(#md)"><path d="M2292.2,357.2C2302.0,355.5 2322.7,356.8 2331.4,358.2C2340.1,359.6 2338.0,363.7 2344.5,365.4C2351.0,367.1 2362.4,369.8 2370.6,368.6C2378.8,367.4 2385.9,359.8 2393.5,358.2C2401.1,356.6 2410.4,356.5 2416.4,358.8C2422.4,361.1 2423.5,365.9 2429.5,371.9C2435.5,377.9 2444.8,387.2 2452.4,394.8C2460.0,402.4 2469.2,410.1 2475.2,417.7C2481.2,425.3 2483.4,431.2 2488.3,440.5C2493.2,449.8 2500.9,463.9 2504.7,473.2C2508.5,482.5 2509.6,487.4 2511.2,496.1C2512.8,504.8 2511.8,515.1 2514.5,525.5C2517.2,535.9 2523.7,546.8 2527.5,558.2C2531.3,569.7 2534.9,577.3 2537.3,594.2C2539.8,611.1 2541.2,633.4 2542.2,659.5C2543.2,685.6 2542.8,728.8 2543.2,751.1C2543.6,773.4 2543.6,780.9 2544.7,793.3C2545.8,805.7 2548.5,792.7 2550,825.3C2551.5,857.9 2552.1,953.8 2553.6,988.8C2555.1,1023.8 2558.0,1014.9 2558.9,1035C2559.8,1055.1 2559.5,1094.2 2558.9,1109.6C2558.3,1125.0 2557.7,1120.2 2555.3,1127.3C2552.9,1134.4 2550.0,1143.3 2544.7,1152.2C2539.4,1161.1 2531.1,1171.8 2523.4,1180.7C2515.7,1189.6 2506.8,1198.5 2498.5,1205.5C2490.2,1212.5 2490.8,1220.0 2473.6,1222.6C2456.4,1225.1 2413.2,1224.8 2395.4,1220.8C2377.6,1216.8 2375.3,1206.3 2367,1198.4C2358.7,1190.5 2352.2,1181.8 2345.7,1173.5C2339.2,1165.2 2332.9,1157.0 2327.9,1148.7C2322.9,1140.4 2318.5,1131.5 2315.5,1123.8C2312.5,1116.1 2311.0,1114.9 2310.1,1102.5C2309.2,1090.1 2309.5,1061.0 2310.1,1049.2C2310.7,1037.4 2312.8,1047.4 2313.7,1031.4C2314.6,1015.4 2313.7,968.6 2315.5,953.2C2317.3,937.8 2322.8,971.0 2324.4,939C2326.0,907.0 2325.0,792.1 2325.1,761.3C2325.2,730.5 2326.0,756.5 2324.9,754.3C2323.8,752.0 2322.8,752.1 2318.4,747.8C2314.0,743.4 2305.8,735.3 2298.7,728.2C2291.6,721.1 2283.5,714.0 2275.9,705.3C2268.3,696.6 2260.1,685.7 2253,675.9C2245.9,666.1 2239.4,656.9 2233.4,646.5C2227.4,636.1 2221.8,625.2 2217,613.8C2212.2,602.3 2206.7,592.0 2204.6,577.8C2202.5,563.6 2203.6,539.7 2204.6,528.8C2205.6,517.9 2208.4,519.0 2210.5,512.5C2212.6,506.0 2214.8,496.7 2217,489.6C2219.2,482.5 2221.4,478.7 2223.6,470C2225.8,461.3 2227.4,447.7 2230.1,437.3C2232.8,426.9 2236.6,416.6 2239.9,407.9C2243.2,399.2 2244.2,391.6 2249.7,385C2255.1,378.4 2265.5,373.2 2272.6,368.6C2279.7,364.0 2282.4,358.9 2292.2,357.2Z" fill="#fff" stroke="#fff" stroke-width="16" opacity="0.12"/><g filter="url(#bL)"><ellipse cx="2370.6" cy="453.6" rx="124.2" ry="65.4" fill="#fff" opacity="0.21"/><ellipse cx="2351.0" cy="594.2" rx="140.5" ry="107.9" fill="#fff" opacity="0.3"/><ellipse cx="2445.8" cy="646.5" rx="62.1" ry="137.3" fill="#fff" opacity="0.27"/><ellipse cx="2409.9" cy="600.7" rx="19.6" ry="75.2" fill="#fff" opacity="0.19"/><ellipse cx="2438.1" cy="939.0" rx="92.4" ry="184.8" fill="#fff" opacity="0.3"/><ellipse cx="2452.3" cy="1003.0" rx="67.5" ry="106.6" fill="#fff" opacity="0.25"/></g><g filter="url(#bH)"><ellipse cx="2445.2" cy="1004.7" rx="83.5" ry="30.2" fill="#fff" opacity="0.22"/></g><g filter="url(#bM)"><ellipse cx="2480.7" cy="931.9" rx="19.5" ry="21.3" fill="#fff" opacity="0.15"/><ellipse cx="2470.1" cy="835.9" rx="17.8" ry="30.2" fill="#fff" opacity="0.22"/><path d="M2262.8,476.5C2265.5,470.5 2277.5,472.1 2282.4,476.5C2287.3,480.9 2294.9,496.6 2292.2,502.6C2289.5,508.6 2271.0,516.9 2266.1,512.5C2261.2,508.1 2260.1,482.5 2262.8,476.5Z" fill="#fff" stroke="#fff" stroke-width="6" stroke-linejoin="round" opacity="0.45"/><path d="M2238.3,564.7C2239.9,556.0 2246.7,541.8 2253,535.3C2259.3,528.8 2263.9,527.1 2275.9,525.5C2287.9,523.9 2315.7,526.9 2324.9,525.5C2334.2,524.1 2327.1,519.6 2331.4,517.4C2335.8,515.2 2343.9,512.2 2351,512.5C2358.1,512.8 2369.0,516.3 2373.9,519C2378.8,521.7 2376.7,523.9 2380.5,528.8C2384.3,533.7 2393.3,540.2 2396.8,548.4C2400.3,556.6 2402.8,569.1 2401.7,577.8C2400.6,586.5 2391.1,592.5 2390.3,600.7C2389.5,608.9 2398.4,619.8 2396.8,626.9C2395.2,634.0 2388.1,638.3 2380.5,643.2C2372.9,648.1 2358.1,651.4 2351,656.3C2343.9,661.2 2342.9,669.3 2338,672.6C2333.1,675.9 2328.2,678.6 2321.6,675.9C2315.0,673.2 2307.9,662.3 2298.7,656.3C2289.4,650.3 2274.3,647.0 2266.1,639.9C2257.9,632.8 2253.5,622.5 2249.7,613.8C2245.9,605.1 2245.1,595.8 2243.2,587.6C2241.3,579.4 2236.7,573.4 2238.3,564.7Z" fill="#fff" stroke="#fff" stroke-width="10" stroke-linejoin="round" opacity="1"/><path d="M2367,1024.3C2374.7,1013.9 2384.8,1017.2 2399,1015.4C2413.2,1013.6 2435.7,1012.7 2452.3,1013.6C2468.9,1014.5 2487.2,1016.0 2498.5,1020.7C2509.8,1025.5 2514.5,1032.6 2519.8,1042.1C2525.1,1051.6 2528.4,1064.0 2530.5,1077.6C2532.6,1091.2 2534.7,1111.4 2532.3,1123.8C2529.9,1136.2 2523.7,1143.9 2516.3,1152.2C2508.9,1160.5 2494.9,1167.0 2487.8,1173.5C2480.7,1180.0 2488.4,1188.3 2473.6,1191.3C2458.8,1194.3 2413.2,1194.3 2399,1191.3C2384.8,1188.3 2393.6,1180.0 2388.3,1173.5C2383.0,1167.0 2372.3,1162.3 2367,1152.2C2361.7,1142.1 2358.7,1125.5 2356.3,1113.1C2353.9,1100.7 2351.0,1092.4 2352.8,1077.6C2354.6,1062.8 2359.3,1034.7 2367,1024.3Z" fill="#fff" stroke="#fff" stroke-width="6" stroke-linejoin="round" opacity="1"/></g><g filter="url(#bS)"><ellipse cx="2271.0" cy="452.0" rx="11.8" ry="27.8" fill="#fff" opacity="0.58"/><ellipse cx="2408.2" cy="422.6" rx="24.8" ry="33.0" fill="#fff" opacity="1"/></g></g></g><g opacity="0.25" shape-rendering="crispEdges"><rect x="1946.7" y="331.5" width="83.1" height="28.0" fill="#ff80ff"/><rect x="1919.0" y="359.2" width="138.5" height="28.0" fill="#ff80ff"/><rect x="1891.3" y="386.9" width="193.9" height="28.0" fill="#ff80ff"/><rect x="1863.6" y="414.6" width="221.6" height="28.0" fill="#ff80ff"/><rect x="1863.6" y="442.3" width="221.6" height="28.0" fill="#ff80ff"/><rect x="1835.9" y="470.1" width="277.0" height="28.0" fill="#ff80ff"/><rect x="1835.9" y="497.8" width="277.0" height="28.0" fill="#ff80ff"/><rect x="1808.2" y="525.5" width="304.7" height="28.0" fill="#80ff00"/><rect x="1808.2" y="553.2" width="304.7" height="28.0" fill="#80ff00"/><rect x="1808.2" y="580.9" width="304.7" height="28.0" fill="#80ff00"/><rect x="1808.2" y="608.7" width="277.0" height="28.0" fill="#80ff00"/><rect x="1808.2" y="636.4" width="249.3" height="28.0" fill="#80ff00"/><rect x="1808.2" y="664.1" width="249.3" height="28.0" fill="#80ff00"/><rect x="1808.2" y="691.8" width="221.6" height="28.0" fill="#80ff00"/><rect x="1808.2" y="719.5" width="193.9" height="28.0" fill="#80ff00"/><rect x="1808.2" y="747.3" width="193.9" height="28.0" fill="#ff8000"/><rect x="1808.2" y="775.0" width="193.9" height="28.0" fill="#ff8000"/><rect x="1808.2" y="802.7" width="193.9" height="28.0" fill="#ff8000"/><rect x="1808.2" y="830.4" width="193.9" height="28.0" fill="#ff8000"/><rect x="1808.2" y="858.1" width="193.9" height="28.0" fill="#ff8000"/><rect x="1808.2" y="885.9" width="193.9" height="28.0" fill="#ff8000"/><rect x="1808.2" y="913.6" width="193.9" height="28.0" fill="#ff8000"/><rect x="1808.2" y="941.3" width="193.9" height="28.0" fill="#ff8000"/><rect x="1808.2" y="969.0" width="193.9" height="28.0" fill="#ff8000"/><rect x="1808.2" y="996.7" width="193.9" height="28.0" fill="#ff8000"/><rect x="1808.2" y="1024.5" width="193.9" height="28.0" fill="#ff0000"/><rect x="1808.2" y="1052.2" width="193.9" height="28.0" fill="#ff0000"/><rect x="1808.2" y="1079.9" width="193.9" height="28.0" fill="#ff0000"/><rect x="1808.2" y="1107.6" width="193.9" height="28.0" fill="#ff0000"/><rect x="1835.9" y="1135.3" width="138.5" height="28.0" fill="#ff0000"/><rect x="1863.6" y="1163.1" width="83.1" height="28.0" fill="#ff0000"/></g><g opacity="0.25" shape-rendering="crispEdges"><rect x="2306.8" y="331.5" width="83.1" height="28.0" fill="#ff80ff"/><rect x="2279.1" y="359.2" width="138.5" height="28.0" fill="#ff80ff"/><rect x="2251.4" y="386.9" width="193.9" height="28.0" fill="#ff80ff"/><rect x="2251.4" y="414.6" width="221.6" height="28.0" fill="#ff80ff"/><rect x="2251.4" y="442.3" width="221.6" height="28.0" fill="#ff80ff"/><rect x="2223.7" y="470.1" width="277.0" height="28.0" fill="#ff80ff"/><rect x="2223.7" y="497.8" width="277.0" height="28.0" fill="#ff80ff"/><rect x="2223.7" y="525.5" width="304.7" height="28.0" fill="#80ff00"/><rect x="2223.7" y="553.2" width="304.7" height="28.0" fill="#80ff00"/><rect x="2223.7" y="580.9" width="304.7" height="28.0" fill="#80ff00"/><rect x="2251.4" y="608.7" width="277.0" height="28.0" fill="#80ff00"/><rect x="2279.1" y="636.4" width="249.3" height="28.0" fill="#80ff00"/><rect x="2279.1" y="664.1" width="249.3" height="28.0" fill="#80ff00"/><rect x="2306.8" y="691.8" width="221.6" height="28.0" fill="#80ff00"/><rect x="2334.5" y="719.5" width="193.9" height="28.0" fill="#80ff00"/><rect x="2334.5" y="747.3" width="193.9" height="28.0" fill="#ff8000"/><rect x="2334.5" y="775.0" width="193.9" height="28.0" fill="#ff8000"/><rect x="2334.5" y="802.7" width="193.9" height="28.0" fill="#ff8000"/><rect x="2334.5" y="830.4" width="193.9" height="28.0" fill="#ff8000"/><rect x="2334.5" y="858.1" width="193.9" height="28.0" fill="#ff8000"/><rect x="2334.5" y="885.9" width="193.9" height="28.0" fill="#ff8000"/><rect x="2334.5" y="913.6" width="193.9" height="28.0" fill="#ff8000"/><rect x="2334.5" y="941.3" width="193.9" height="28.0" fill="#ff8000"/><rect x="2334.5" y="969.0" width="193.9" height="28.0" fill="#ff8000"/><rect x="2334.5" y="996.7" width="193.9" height="28.0" fill="#ff8000"/><rect x="2334.5" y="1024.5" width="193.9" height="28.0" fill="#ff0000"/><rect x="2334.5" y="1052.2" width="193.9" height="28.0" fill="#ff0000"/><rect x="2334.5" y="1079.9" width="193.9" height="28.0" fill="#ff0000"/><rect x="2334.5" y="1107.6" width="193.9" height="28.0" fill="#ff0000"/><rect x="2362.2" y="1135.3" width="138.5" height="28.0" fill="#ff0000"/><rect x="2389.9" y="1163.1" width="83.1" height="28.0" fill="#ff0000"/></g><g transform="translate(2041.9,542.5)"><circle r="13" fill="#ececec"/><path d="M0,0 L0,-13 A13,13 0 0 1 13,0 Z" fill="#ff0000"/><path d="M0,0 L0,13 A13,13 0 0 1 -13,0 Z" fill="#ff0000"/><circle r="13" fill="none" stroke="#000" stroke-width="1.6"/><path d="M-13,0 H13 M0,-13 V13" stroke="#000" stroke-width="1.2800000000000002"/></g><g transform="translate(2348.4,542.5)"><circle r="13" fill="#ececec"/><path d="M0,0 L0,-13 A13,13 0 0 1 13,0 Z" fill="#ff0000"/><path d="M0,0 L0,13 A13,13 0 0 1 -13,0 Z" fill="#ff0000"/><circle r="13" fill="none" stroke="#000" stroke-width="1.6"/><path d="M-13,0 H13 M0,-13 V13" stroke="#000" stroke-width="1.2800000000000002"/></g><g transform="translate(2213.5,791.5)"><circle r="8.5" fill="#ececec"/><path d="M0,0 L0,-8.5 A8.5,8.5 0 0 1 8.5,0 Z" fill="#2fb400"/><path d="M0,0 L0,8.5 A8.5,8.5 0 0 1 -8.5,0 Z" fill="#2fb400"/><circle r="8.5" fill="none" stroke="#000" stroke-width="1"/><path d="M-8.5,0 H8.5 M0,-8.5 V8.5" stroke="#000" stroke-width="0.8"/></g></g><path d="M2168.0,158 V1366" stroke="#000" stroke-width="1.6" fill="none"/><rect x="1730.2" y="154.7" width="873.6" height="1212.6" fill="none" stroke="#2f2f2f" stroke-width="6.4"/><rect x="900" y="152.7" width="827" height="406.3" fill="#fff" stroke="#000" stroke-width="1.2"/><text x="928.8" y="168.7" font-family="Liberation Sans, Arial, sans-serif" font-size="12" fill="#111">Left &amp; Right Feet - Avg. Pressure vs Time (% stance)</text><path d="M1542.8,212.7 V528.4" stroke="#000" stroke-width="3" fill="none"/><path d="M936.4,186.0 V531.4 M933.4,528.4 H1667 M924.4,188.0 H939.4 M924.4,256.1 H939.4 M924.4,324.2 H939.4 M924.4,392.2 H939.4 M924.4,460.3 H939.4 M924.4,528.4 H939.4 M958.5,528.4 V540.9 M1027.2,528.4 V540.9 M1095.9,528.4 V540.9 M1164.6,528.4 V540.9 M1233.3,528.4 V540.9 M1302.0,528.4 V540.9 M1370.8,528.4 V540.9 M1439.5,528.4 V540.9 M1508.2,528.4 V540.9 M1576.9,528.4 V540.9 M1645.6,528.4 V540.9 " stroke="#050505" stroke-width="6" fill="none"/><path d="M951.1,527.3 L958.5,510.6 L966.8,498.9 L975.1,490.5 L980.2,487.2 L990.2,477.2 L1003.5,463.8 L1013.5,452.2 L1023.6,437.1 L1033.6,425.4 L1043.6,413.8 L1053.6,402.7 L1060.3,399.4 L1070.3,399.1 L1075.3,398.1 L1082,407.1 L1090.3,412.1 L1097,417.8 L1107,427.8 L1118.7,436.1 L1127,435.1 L1133.7,435.1 L1142.1,430.5 L1157.1,431.1 L1177.1,429.1 L1190.5,432.5 L1205.5,432.8 L1220.5,435.1 L1233.9,438.1 L1250.6,440.5 L1277.3,440.5 L1294,437.1 L1314,435.1 L1347.4,433.8 L1380.8,430.5 L1405.8,427.1 L1420.8,428.8 L1434.2,432.5 L1447.5,437.1 L1460.9,442.1 L1474.3,444.8 L1485.9,444.5 L1494.3,438.8 L1507.6,425.4 L1521,411.1 L1529.3,411.1 L1542.7,403.7 L1551,413.1 L1561.1,414.4 L1571.1,427.1 L1581.1,442.1 L1589.4,457.2 L1601.1,468.8 L1611.1,480.5 L1619.5,488.9 L1627.8,490.5 L1636.2,491.2 L1642.8,492.2 L1647.9,503.9 L1652.2,527.3" fill="none" stroke="#ff7f3f" stroke-width="2.8" stroke-linejoin="round" stroke-linecap="round"/><path d="M951.1,527.3 L958.5,503.9 L966.8,488.9 L978.5,468.8 L986.8,458.8 L998.5,433.8 L1008.5,417.1 L1016.9,411.1 L1026.9,407.1 L1031.9,411.1 L1036.9,427.1 L1043.6,437.1 L1053.6,443.8 L1068.6,453.8 L1082,458.5 L1097,455.5 L1103.7,455.5 L1117,450.5 L1133.7,446.5 L1143.7,445.5 L1160.4,441.5 L1180.5,441.5 L1197.2,443.1 L1213.9,442.5 L1247.2,443.1 L1280.6,444.5 L1314,445.8 L1347.4,445.8 L1380.8,445.8 L1405.8,447.8 L1420.8,446.5 L1434.2,441.5 L1447.5,438.8 L1460.9,432.1 L1469.2,427.1 L1474.3,413.8 L1479.3,393.7 L1485.9,389.1 L1494.3,388.7 L1501,386.4 L1509.3,391.1 L1524.3,397.1 L1541,399.1 L1547.7,403.7 L1561.1,414.4 L1571.1,420.4 L1581.1,432.1 L1592.8,445.5 L1601.1,460.5 L1607.8,470.5 L1619.5,482.2 L1631.2,492.2 L1637.8,495.6 L1641.2,487.2 L1645.2,481.2 L1648.5,490.5 L1652.2,527.3" fill="none" stroke="#3f7fff" stroke-width="2.8" stroke-linejoin="round" stroke-linecap="round"/><g font-family="Liberation Sans, Arial, sans-serif" font-size="12" fill="#111"><text x="922.4" y="192.3" text-anchor="end">19.83</text><text x="922.4" y="260.4" text-anchor="end">15.88</text><text x="922.4" y="328.5" text-anchor="end">11.94</text><text x="922.4" y="396.5" text-anchor="end">7.99</text><text x="922.4" y="464.6" text-anchor="end">4.05</text><text x="922.4" y="532.7" text-anchor="end">0.1</text><text x="958.5" y="552.9" text-anchor="middle">0%</text><text x="1027.2" y="552.9" text-anchor="middle">10%</text><text x="1095.9" y="552.9" text-anchor="middle">20%</text><text x="1164.6" y="552.9" text-anchor="middle">30%</text><text x="1233.3" y="552.9" text-anchor="middle">40%</text><text x="1302.0" y="552.9" text-anchor="middle">50%</text><text x="1370.8" y="552.9" text-anchor="middle">60%</text><text x="1439.5" y="552.9" text-anchor="middle">70%</text><text x="1508.2" y="552.9" text-anchor="middle">80%</text><text x="1576.9" y="552.9" text-anchor="middle">90%</text><text x="1645.6" y="552.9" text-anchor="middle">100%</text></g><rect x="1477.7" y="153.3" width="249.29999999999995" height="112.89999999999998" fill="#f2f2f2" stroke="#000" stroke-width="1"/><rect x="1492.3" y="191" width="32" height="31.5" fill="#ff7f3f" stroke="#000" stroke-width="1"/><rect x="1492.3" y="224.2" width="32" height="31.5" fill="#3f7fff" stroke="#000" stroke-width="1"/><g font-family="Liberation Sans, Arial, sans-serif" font-size="12" fill="#111"><text x="1584" y="179.3" text-decoration="underline">Pressure</text><text x="1648.3" y="179.3" text-decoration="underline">Elapsed</text><text x="1540.2" y="200.3">Left</text><text x="1584" y="199.3">10.48</text><text x="1648.3" y="199.3">0:00:01.062</text><text x="1540.2" y="233.5">Right</text><text x="1584" y="232.5">10.78</text><text x="1648.3" y="232.5">0:00:01.074</text></g><rect x="900" y="560.0" width="827" height="405.0" fill="#fff" stroke="#000" stroke-width="1.2"/><text x="928.8" y="576.0" font-family="Liberation Sans, Arial, sans-serif" font-size="12" fill="#111">Left Foot Zones - Avg. Pressure vs Time (% stance)</text><path d="M1542.8,620.0 V935.7" stroke="#000" stroke-width="3" fill="none"/><path d="M936.4,593.8 V938.7 M933.4,935.7 H1667 M924.4,595.8 H939.4 M924.4,663.8 H939.4 M924.4,731.8 H939.4 M924.4,799.7 H939.4 M924.4,867.7 H939.4 M924.4,935.7 H939.4 M958.5,935.7 V948.2 M1027.2,935.7 V948.2 M1095.9,935.7 V948.2 M1164.6,935.7 V948.2 M1233.3,935.7 V948.2 M1302.0,935.7 V948.2 M1370.8,935.7 V948.2 M1439.5,935.7 V948.2 M1508.2,935.7 V948.2 M1576.9,935.7 V948.2 M1645.6,935.7 V948.2 " stroke="#050505" stroke-width="6" fill="none"/><path d="M951.1,934.6 L960.1,913.9 L970.1,898.9 L978.5,893.9 L986.8,885.5 L996.8,872.2 L1010.2,857.1 L1023.6,835.4 L1036.9,813.7 L1050.3,792 L1061.9,777.7 L1068.6,773.7 L1075.3,768 L1082,770.3 L1090.3,773.7 L1097,770.3 L1110.4,771 L1118.7,773 L1127,767 L1135.4,764.7 L1143.7,755.3 L1152.1,750.3 L1162.1,748.3 L1170.5,748.3 L1178.1,744.6 L1187.1,748.6 L1197.2,753.6 L1207.2,761 L1217.2,762.7 L1227.2,764.7 L1237.2,775.3 L1247.2,783.7 L1258.9,792.7 L1270.6,798.1 L1282.3,801.1 L1294,801.1 L1302.3,805.4 L1314,803.7 L1327.4,804.7 L1340.7,807.7 L1352.4,809.1 L1364.1,806.4 L1375.1,797 L1384.1,799.1 L1397.5,797 L1405.8,799.1 L1417.5,807.7 L1425.8,805.4 L1430.9,810.4 L1440.9,823.8 L1450.9,843.8 L1460.9,865.5 L1470.9,887.2 L1484.3,903.9 L1497.6,918.9 L1507,934.6 L1551,934.6" fill="none" stroke="#ff0000" stroke-width="2.8" stroke-linejoin="round" stroke-linecap="round"/><path d="M951.1,934.6 L958.5,933.9 L966.8,917.2 L976.8,910.6 L986.8,907.9 L995.2,911.2 L1010.2,902.2 L1016.9,902.9 L1025.2,896.2 L1040.2,894.9 L1053.6,881.5 L1067,879.8 L1077,872.2 L1089.7,867.2 L1097,873.2 L1107,877.8 L1118.7,878.8 L1130.4,874.5 L1143.7,865.5 L1155.4,863.2 L1170.5,854.5 L1190.5,852.1 L1205.5,845.5 L1217.2,843.8 L1233.9,847.1 L1253.9,848.1 L1273.9,852.1 L1294,857.1 L1304,858.8 L1317.3,863.8 L1347.4,867.2 L1374.1,868.8 L1387.5,870.5 L1400.8,868.8 L1420.8,867.8 L1440.9,868.8 L1454.2,868.8 L1467.6,873.8 L1480.9,887.2 L1497.6,901.2 L1514.3,908.9 L1531,919.9 L1542.7,921.2 L1552.7,935.6 L1652.2,935.6" fill="none" stroke="#f08000" stroke-width="2.8" stroke-linejoin="round" stroke-linecap="round"/><path d="M951.1,935.6 L1067,935.6 L1075.3,917.2 L1083.6,913.9 L1093.7,900.5 L1103.7,880.5 L1113.7,880.5 L1127,873.8 L1133.7,875.5 L1143.7,867.2 L1153.8,868.8 L1163.8,867.8 L1177.1,863.8 L1190.5,866.5 L1205.5,865.8 L1215.5,867.8 L1233.9,865.8 L1247.2,863.2 L1267.3,858.8 L1280.6,852.1 L1300.7,841.1 L1310.7,834.4 L1320.7,832.1 L1334,825.4 L1347.4,823.1 L1357.4,819.8 L1367.4,818.1 L1375.8,819.1 L1387.5,816.4 L1397.5,815.4 L1414.2,808.7 L1424.2,809.7 L1434.2,810.4 L1447.5,815.4 L1454.2,817.7 L1464.2,813.1 L1477.6,807.1 L1490.9,802.7 L1500.3,793.7 L1507.6,794.7 L1516,780.4 L1522,774.3 L1529.3,780.4 L1537.7,790.4 L1544.4,791 L1551,803.1 L1557.7,798.7 L1564.4,805.4 L1574.4,820.4 L1584.4,840.5 L1594.4,860.5 L1604.5,880.5 L1614.5,893.9 L1627.8,897.2 L1637.8,899.5 L1646.2,900.5 L1649.5,917.2 L1652.2,935.6" fill="none" stroke="#80ff00" stroke-width="2.8" stroke-linejoin="round" stroke-linecap="round"/><path d="M951.1,934.9 L1089.7,934.9 L1097,919.9 L1105.3,918.9 L1117,909.9 L1127,903.9 L1140.4,894.9 L1153.8,892.2 L1170.5,896.5 L1183.8,892.9 L1200.5,892.2 L1213.9,891.5 L1233.9,890.5 L1247.2,887.9 L1267.3,882.2 L1290.6,874.8 L1310.7,871.2 L1327.4,869.5 L1347.4,868.8 L1364.1,869.8 L1380.8,867.2 L1395.8,869.8 L1404.1,866.5 L1419.2,867.8 L1429.2,876.2 L1444.2,872.2 L1457.6,869.8 L1467.6,866.5 L1480.9,862.8 L1490.9,861.1 L1501,852.8 L1512.6,849.8 L1522.7,843.8 L1539.4,843.8 L1551,851.5 L1564.4,858.8 L1576.1,865.5 L1587.8,877.2 L1597.8,883.9 L1614.5,891.2 L1631.2,897.9 L1637.8,898.9 L1644.5,896.2 L1648.5,903.9 L1652.2,934.9" fill="none" stroke="#ff80ff" stroke-width="2.8" stroke-linejoin="round" stroke-linecap="round"/><g font-family="Liberation Sans, Arial, sans-serif" font-size="12" fill="#111"><text x="922.4" y="600.1" text-anchor="end">19.83</text><text x="922.4" y="668.1" text-anchor="end">15.88</text><text x="922.4" y="736.1" text-anchor="end">11.94</text><text x="922.4" y="804.0" text-anchor="end">7.99</text><text x="922.4" y="872.0" text-anchor="end">4.05</text><text x="922.4" y="940.0" text-anchor="end">0.1</text><text x="958.5" y="960.2" text-anchor="middle">0%</text><text x="1027.2" y="960.2" text-anchor="middle">10%</text><text x="1095.9" y="960.2" text-anchor="middle">20%</text><text x="1164.6" y="960.2" text-anchor="middle">30%</text><text x="1233.3" y="960.2" text-anchor="middle">40%</text><text x="1302.0" y="960.2" text-anchor="middle">50%</text><text x="1370.8" y="960.2" text-anchor="middle">60%</text><text x="1439.5" y="960.2" text-anchor="middle">70%</text><text x="1508.2" y="960.2" text-anchor="middle">80%</text><text x="1576.9" y="960.2" text-anchor="middle">90%</text><text x="1645.6" y="960.2" text-anchor="middle">100%</text></g><rect x="1506.7" y="560.5" width="220.29999999999995" height="178.79999999999995" fill="#f2f2f2" stroke="#000" stroke-width="1"/><rect x="1521.4" y="598.4" width="32" height="31.5" fill="#ff0000" stroke="#000" stroke-width="1"/><rect x="1521.4" y="631.6" width="32" height="31.5" fill="#f08000" stroke="#000" stroke-width="1"/><rect x="1521.4" y="664.8000000000001" width="32" height="31.5" fill="#80ff00" stroke="#000" stroke-width="1"/><rect x="1521.4" y="698.0000000000001" width="32" height="31.5" fill="#ff80ff" stroke="#000" stroke-width="1"/><g font-family="Liberation Sans, Arial, sans-serif" font-size="12" fill="#111"><text x="1664.3" y="586.5" text-decoration="underline">Pressure</text><text x="1569.5" y="607.6999999999999">Left Heel</text><text x="1664.3" y="606.6999999999999">0.0</text><text x="1569.5" y="640.9">Left Midfoot</text><text x="1664.3" y="639.9">1.17</text><text x="1569.5" y="674.1">Left Metatarsal</text><text x="1664.3" y="673.1">12.21</text><text x="1569.5" y="707.3000000000001">Left Toe</text><text x="1664.3" y="706.3000000000001">7.67</text></g><rect x="900" y="966.0" width="827" height="403.5" fill="#fff" stroke="#000" stroke-width="1.2"/><text x="928.8" y="982.0" font-family="Liberation Sans, Arial, sans-serif" font-size="12" fill="#111">Right Foot Zones - Avg. Pressure vs Time (% stance)</text><path d="M1542.8,1026.0 V1340.0" stroke="#000" stroke-width="3" fill="none"/><path d="M936.4,999.4 V1343.0 M933.4,1340.0 H1667 M924.4,1001.4 H939.4 M924.4,1069.1 H939.4 M924.4,1136.8 H939.4 M924.4,1204.6 H939.4 M924.4,1272.3 H939.4 M924.4,1340.0 H939.4 M958.5,1340.0 V1352.5 M1027.2,1340.0 V1352.5 M1095.9,1340.0 V1352.5 M1164.6,1340.0 V1352.5 M1233.3,1340.0 V1352.5 M1302.0,1340.0 V1352.5 M1370.8,1340.0 V1352.5 M1439.5,1340.0 V1352.5 M1508.2,1340.0 V1352.5 M1576.9,1340.0 V1352.5 M1645.6,1340.0 V1352.5 " stroke="#050505" stroke-width="6" fill="none"/><path d="M951.1,1338.9 L960.1,1312.2 L970.1,1293.9 L980.2,1275.5 L990.2,1258.8 L1000.2,1237.1 L1008.5,1218.7 L1016.9,1203.7 L1026.9,1192 L1036.9,1178.7 L1048.6,1173 L1061.9,1173 L1077,1175.3 L1090.3,1175.3 L1100.3,1173 L1110.4,1171 L1120.4,1164.3 L1130.4,1160.3 L1140.4,1158.6 L1160.4,1158.6 L1175.5,1162.6 L1187.1,1170.3 L1198.8,1178 L1210.5,1179.3 L1223.9,1178.7 L1247.2,1178.7 L1260.6,1181 L1273.9,1187.7 L1287.3,1197 L1300.7,1207 L1314,1214.4 L1327.4,1222.1 L1340.7,1230.4 L1354.1,1236.4 L1364.1,1242.1 L1377.4,1253.8 L1387.5,1262.1 L1397.5,1272.2 L1407.5,1285.5 L1417.5,1297.2 L1430.9,1305.5 L1440.9,1313.9 L1450.9,1322.2 L1464.2,1325.6 L1472.6,1327.2 L1479.3,1338.9 L1490.9,1338.9" fill="none" stroke="#ff0000" stroke-width="2.8" stroke-linejoin="round" stroke-linecap="round"/><path d="M951.1,1338.9 L963.5,1338.9 L971.8,1327.2 L980.2,1325.6 L988.5,1326.2 L1001.9,1310.5 L1015.2,1311.2 L1026.9,1303.9 L1036.9,1297.9 L1045.3,1299.9 L1053.6,1295.5 L1067,1299.5 L1077,1294.5 L1090.3,1292.2 L1102,1288.8 L1118.7,1286.2 L1133.7,1285.5 L1143.7,1287.2 L1153.8,1284.8 L1180.5,1284.8 L1200.5,1286.2 L1220.5,1287.2 L1247.2,1287.8 L1280.6,1288.5 L1300.7,1287.2 L1314,1288.5 L1347.4,1288.5 L1367.4,1287.2 L1387.5,1288.8 L1400.8,1293.9 L1420.8,1300.5 L1434.2,1305.5 L1447.5,1313.9 L1460.9,1320.6 L1472.6,1326.2 L1479.3,1327.2 L1485.9,1338.9 L1652.2,1338.9" fill="none" stroke="#f08000" stroke-width="2.8" stroke-linejoin="round" stroke-linecap="round"/><path d="M951.1,1338.9 L1028.6,1338.9 L1035.2,1327.2 L1040.2,1321.6 L1053.6,1313.9 L1067,1310.5 L1080.3,1308.9 L1093.7,1302.2 L1113.7,1292.2 L1133.7,1282.2 L1153.8,1272.2 L1167.1,1267.1 L1183.8,1262.1 L1200.5,1259.8 L1223.9,1256.1 L1237.2,1256.1 L1250.6,1257.1 L1267.3,1253.8 L1277.3,1254.5 L1304,1245.4 L1324,1242.1 L1340.7,1237.1 L1350.7,1237.1 L1364.1,1233.1 L1380.8,1227.7 L1394.1,1225.4 L1407.5,1219.7 L1420.8,1211.1 L1444.2,1197.7 L1460.9,1192 L1480.9,1182 L1492.6,1179.7 L1501,1172.3 L1509.3,1177.7 L1517.7,1180.3 L1526,1187 L1537.7,1186.4 L1547.7,1192 L1554.4,1198.7 L1561.1,1209.7 L1567.7,1213.7 L1581.1,1237.1 L1589.4,1245.4 L1597.8,1265.5 L1609.5,1290.5 L1624.5,1307.2 L1637.8,1317.2 L1652.2,1338.9" fill="none" stroke="#80ff00" stroke-width="2.8" stroke-linejoin="round" stroke-linecap="round"/><path d="M951.1,1338.9 L1041.9,1339.9 L1046.9,1333.9 L1053.6,1323.9 L1061.9,1321.2 L1072,1308.9 L1082,1309.9 L1093.7,1303.9 L1103.7,1305.5 L1115.4,1300.5 L1128.7,1295.5 L1143.7,1294.5 L1160.4,1289.5 L1180.5,1289.2 L1193.8,1287.2 L1207.2,1286.5 L1230.5,1287.2 L1243.9,1288.5 L1260.6,1287.2 L1280.6,1283.2 L1297.3,1283.2 L1310.7,1281.2 L1330.7,1278.8 L1347.4,1273.8 L1367.4,1271.1 L1387.5,1266.5 L1394.1,1266.5 L1414.2,1258.8 L1427.5,1252.8 L1440.9,1249.8 L1454.2,1243.8 L1470.9,1237.8 L1479.3,1232.8 L1490.9,1233.8 L1501,1233.1 L1511,1235.4 L1541,1235.4 L1554.4,1239.8 L1564.4,1240.4 L1581.1,1247.1 L1591.1,1258.1 L1597.8,1260.5 L1606.1,1273.8 L1614.5,1279.8 L1627.8,1289.8 L1637.2,1298.9 L1642.8,1287.2 L1646.2,1285.5 L1649.5,1303.9 L1652.2,1338.9" fill="none" stroke="#ff80ff" stroke-width="2.8" stroke-linejoin="round" stroke-linecap="round"/><g font-family="Liberation Sans, Arial, sans-serif" font-size="12" fill="#111"><text x="922.4" y="1005.7" text-anchor="end">19.83</text><text x="922.4" y="1073.4" text-anchor="end">15.88</text><text x="922.4" y="1141.1" text-anchor="end">11.94</text><text x="922.4" y="1208.9" text-anchor="end">7.99</text><text x="922.4" y="1276.6" text-anchor="end">4.05</text><text x="922.4" y="1344.3" text-anchor="end">0.1</text><text x="958.5" y="1364.5" text-anchor="middle">0%</text><text x="1027.2" y="1364.5" text-anchor="middle">10%</text><text x="1095.9" y="1364.5" text-anchor="middle">20%</text><text x="1164.6" y="1364.5" text-anchor="middle">30%</text><text x="1233.3" y="1364.5" text-anchor="middle">40%</text><text x="1302.0" y="1364.5" text-anchor="middle">50%</text><text x="1370.8" y="1364.5" text-anchor="middle">60%</text><text x="1439.5" y="1364.5" text-anchor="middle">70%</text><text x="1508.2" y="1364.5" text-anchor="middle">80%</text><text x="1576.9" y="1364.5" text-anchor="middle">90%</text><text x="1645.6" y="1364.5" text-anchor="middle">100%</text></g><rect x="1497.7" y="966.5" width="229.29999999999995" height="178.29999999999995" fill="#f2f2f2" stroke="#000" stroke-width="1"/><rect x="1512.7" y="1004.4" width="32" height="31.5" fill="#ff0000" stroke="#000" stroke-width="1"/><rect x="1512.7" y="1037.6" width="32" height="31.5" fill="#f08000" stroke="#000" stroke-width="1"/><rect x="1512.7" y="1070.8" width="32" height="31.5" fill="#80ff00" stroke="#000" stroke-width="1"/><rect x="1512.7" y="1104.0" width="32" height="31.5" fill="#ff80ff" stroke="#000" stroke-width="1"/><g font-family="Liberation Sans, Arial, sans-serif" font-size="12" fill="#111"><text x="1664.3" y="992.5" text-decoration="underline">Pressure</text><text x="1560.5" y="1013.6999999999999">Right Heel</text><text x="1664.3" y="1012.6999999999999">0.0</text><text x="1560.5" y="1046.8999999999999">Right Midfoot</text><text x="1664.3" y="1045.8999999999999">0.0</text><text x="1560.5" y="1080.1">Right Metatarsal</text><text x="1664.3" y="1079.1">12.83</text><text x="1560.5" y="1113.3">Right Toe</text><text x="1664.3" y="1112.3">8.8</text></g><rect x="2607.5" y="152.7" width="827" height="406.3" fill="#fff" stroke="#000" stroke-width="1.2"/><text x="2636.3" y="168.7" font-family="Liberation Sans, Arial, sans-serif" font-size="12" fill="#111">Left &amp; Right Feet - Avg. Pressure vs Time (% stance)</text><path d="M3268.1,212.7 V528.4" stroke="#000" stroke-width="3" fill="none"/><path d="M2637.5,186.0 V531.4 M2634.5,528.4 H3374.3 M2625.5,188.0 H2640.5 M2625.5,256.1 H2640.5 M2625.5,324.2 H2640.5 M2625.5,392.2 H2640.5 M2625.5,460.3 H2640.5 M2625.5,528.4 H2640.5 M2659.6,528.4 V540.9 M2728.9,528.4 V540.9 M2798.2,528.4 V540.9 M2867.5,528.4 V540.9 M2936.8,528.4 V540.9 M3006.1,528.4 V540.9 M3075.3,528.4 V540.9 M3144.6,528.4 V540.9 M3213.9,528.4 V540.9 M3283.2,528.4 V540.9 M3352.5,528.4 V540.9 " stroke="#050505" stroke-width="6" fill="none"/><path d="M2653.2,526.6 L2658.9,503.1 L2664,493.7 L2679.1,486.9 L2690.9,476.2 L2702.6,468.4 L2719.4,471.1 L2729.5,468.4 L2748,467.8 L2764.8,470.1 L2778.3,466.8 L2795.1,461.7 L2808.5,459.4 L2828.7,450.3 L2838.8,441.9 L2852.2,435.8 L2869,425.8 L2885.8,419 L2902.6,414 L2919.5,411.6 L2953.1,411.3 L2986.7,410.6 L3023.7,408.9 L3040.5,410.3 L3070.7,410.3 L3101,412.3 L3117.8,415.7 L3141.3,419.7 L3161.5,425.8 L3176.6,429.8 L3190.1,435.2 L3201.8,431.8 L3210.3,424.1 L3217,402.2 L3223.7,380.4 L3230.4,374.3 L3238.8,377 L3247.2,373 L3254,378 L3262.4,386.1 L3272.4,390.5 L3282.5,400.5 L3290.9,408.9 L3299.3,415 L3307.7,432.5 L3324.6,446.6 L3333,462.7 L3339.7,472.8 L3349.8,484.6 L3354.8,499.7 L3359.9,526.6" fill="none" stroke="#ff7f3f" stroke-width="2.8" stroke-linejoin="round" stroke-linecap="round"/><path d="M2653.2,526.6 L2658.9,496.4 L2664,486.3 L2682.4,461.1 L2702.6,439.2 L2722.8,422.4 L2731.2,411.6 L2746.3,397.2 L2757.4,394.2 L2764.8,397.2 L2773.2,406.3 L2783.3,402.2 L2801.8,401.9 L2815.2,399.9 L2828.7,403.9 L2840.5,404.9 L2850.5,413 L2864,413.3 L2875.8,417.7 L2885.8,419 L2895.9,422.4 L2906,425.8 L2921.1,426.4 L2936.3,429.1 L2949.7,431.1 L2976.6,431.8 L3010.2,429.8 L3033.8,427.4 L3060.7,426.4 L3074.1,427.1 L3099.3,425.8 L3114.4,426.8 L3127.9,428.4 L3141.3,429.1 L3158.1,431.8 L3175,431.8 L3188.4,429.1 L3205.2,429.1 L3213.6,424.1 L3225.4,407.3 L3233.8,403.2 L3242.2,392.1 L3247.2,390.5 L3262.4,392.8 L3269.1,398.2 L3279.2,402.2 L3289.3,415.7 L3297.7,427.4 L3309.4,449.3 L3317.8,457.7 L3326.2,471.1 L3338,482.9 L3346.4,493 L3351.4,496.4 L3356.5,509.8 L3359.9,526.6" fill="none" stroke="#3f7fff" stroke-width="2.8" stroke-linejoin="round" stroke-linecap="round"/><g font-family="Liberation Sans, Arial, sans-serif" font-size="12" fill="#111"><text x="2623.5" y="192.3" text-anchor="end">12.61</text><text x="2623.5" y="260.4" text-anchor="end">10.09</text><text x="2623.5" y="328.5" text-anchor="end">7.57</text><text x="2623.5" y="396.5" text-anchor="end">5.04</text><text x="2623.5" y="464.6" text-anchor="end">2.52</text><text x="2623.5" y="532.7" text-anchor="end">0.0</text><text x="2659.6" y="552.9" text-anchor="middle">0%</text><text x="2728.9" y="552.9" text-anchor="middle">10%</text><text x="2798.2" y="552.9" text-anchor="middle">20%</text><text x="2867.5" y="552.9" text-anchor="middle">30%</text><text x="2936.8" y="552.9" text-anchor="middle">40%</text><text x="3006.1" y="552.9" text-anchor="middle">50%</text><text x="3075.3" y="552.9" text-anchor="middle">60%</text><text x="3144.6" y="552.9" text-anchor="middle">70%</text><text x="3213.9" y="552.9" text-anchor="middle">80%</text><text x="3283.2" y="552.9" text-anchor="middle">90%</text><text x="3352.5" y="552.9" text-anchor="middle">100%</text></g><rect x="3185.2" y="153.3" width="249.30000000000018" height="112.89999999999998" fill="#f2f2f2" stroke="#000" stroke-width="1"/><rect x="3199.8" y="191" width="32" height="31.5" fill="#ff7f3f" stroke="#000" stroke-width="1"/><rect x="3199.8" y="224.2" width="32" height="31.5" fill="#3f7fff" stroke="#000" stroke-width="1"/><g font-family="Liberation Sans, Arial, sans-serif" font-size="12" fill="#111"><text x="3291.5" y="179.3" text-decoration="underline">Pressure</text><text x="3355.8" y="179.3" text-decoration="underline">Elapsed</text><text x="3247.7" y="200.3">Left</text><text x="3291.5" y="199.3">7.42</text><text x="3355.8" y="199.3">0:00:01.203</text><text x="3247.7" y="233.5">Right</text><text x="3291.5" y="232.5">6.95</text><text x="3355.8" y="232.5">0:00:01.156</text></g><rect x="2607.5" y="560.0" width="827" height="405.0" fill="#fff" stroke="#000" stroke-width="1.2"/><text x="2636.3" y="576.0" font-family="Liberation Sans, Arial, sans-serif" font-size="12" fill="#111">Left Foot Zones - Avg. Pressure vs Time (% stance)</text><path d="M3268.1,620.0 V935.7" stroke="#000" stroke-width="3" fill="none"/><path d="M2637.5,593.8 V938.7 M2634.5,935.7 H3374.3 M2625.5,595.8 H2640.5 M2625.5,663.8 H2640.5 M2625.5,731.8 H2640.5 M2625.5,799.7 H2640.5 M2625.5,867.7 H2640.5 M2625.5,935.7 H2640.5 M2659.6,935.7 V948.2 M2728.9,935.7 V948.2 M2798.2,935.7 V948.2 M2867.5,935.7 V948.2 M2936.8,935.7 V948.2 M3006.1,935.7 V948.2 M3075.3,935.7 V948.2 M3144.6,935.7 V948.2 M3213.9,935.7 V948.2 M3283.2,935.7 V948.2 M3352.5,935.7 V948.2 " stroke="#050505" stroke-width="6" fill="none"/><path d="M2653.2,933.2 L2657.2,913.1 L2662.3,901.3 L2672.4,894.6 L2680.8,887.9 L2690.9,872.7 L2700.9,861 L2712.7,854.9 L2731.2,850.9 L2751.4,848.9 L2761.5,852.6 L2773.2,858.3 L2781.6,857.6 L2795.1,858.6 L2805.2,862.6 L2815.2,863.3 L2828.7,859.3 L2838.8,851.6 L2848.9,848.5 L2858.9,839.1 L2875.8,818.9 L2885.8,812.2 L2899.3,797.1 L2909.4,790.4 L2922.8,782.6 L2939.6,784.3 L2956.4,784.3 L2969.9,782 L2983.3,777.6 L2993.4,776.9 L3005.2,772.9 L3013.6,774.2 L3033.8,782 L3053.9,788.7 L3074.1,794.7 L3090.9,801.5 L3099.3,801.5 L3109.4,808.9 L3121.2,817.9 L3131.2,829 L3143,840.8 L3149.7,854.2 L3159.8,864.3 L3168.2,877.8 L3176.6,886.2 L3186.7,901.3 L3195.1,910.4 L3203.5,911.4 L3210.3,934.9 L3269.1,933.2" fill="none" stroke="#ff0000" stroke-width="2.8" stroke-linejoin="round" stroke-linecap="round"/><path d="M2653.2,933.2 L2658.9,914.8 L2665.6,904.7 L2674,907 L2687.5,902.3 L2700.9,897.3 L2712.7,898.6 L2724.5,891.2 L2734.6,890.2 L2744.6,886.2 L2758.1,887.2 L2778.3,882.8 L2795.1,876.8 L2811.9,875.4 L2828.7,869.4 L2842.1,861 L2855.6,852.6 L2869,844.2 L2885.8,835.8 L2902.6,829.7 L2919.5,827.7 L2953.1,827.7 L2986.7,826.3 L3010.2,825 L3027,824 L3060.7,825 L3087.5,825 L3104.4,826.3 L3121.2,829.7 L3138,834.1 L3158.1,844.2 L3175,861 L3188.4,879.5 L3200.2,892.9 L3211.3,902.3 L3222,896.3 L3232.1,887.9 L3243.9,883.5 L3250.6,894.6 L3259,902 L3270.8,901.3 L3275.8,916.4 L3279.2,934.9 L3359.9,933.9" fill="none" stroke="#f08000" stroke-width="2.8" stroke-linejoin="round" stroke-linecap="round"/><path d="M2653.2,933.2 L2657.2,906.4 L2662.3,899 L2670.7,902 L2687.5,902.3 L2707.7,902.3 L2721.1,907.4 L2731.2,900.3 L2741.3,898.6 L2751.4,887.9 L2761.5,887.2 L2774.9,874.4 L2788.3,864.3 L2801.8,857.6 L2813.6,845.2 L2825.3,840.8 L2840.5,825.7 L2848.9,830 L2858.9,825.7 L2869,822.3 L2889.2,820.6 L2902.6,823 L2919.5,825.7 L2943,826.3 L2966.5,825.7 L2981.6,828 L2993.4,826.3 L3008.5,829 L3023.7,826.7 L3043.8,824.7 L3064,822.3 L3084.2,823 L3101,821.6 L3117.8,818.9 L3138,813.9 L3154.8,810.5 L3171.6,802.1 L3178.3,802.1 L3191.8,795.4 L3205.2,785.3 L3215.3,778.6 L3225.4,759.1 L3230.4,758.4 L3238.8,766.8 L3247.2,760.1 L3252.3,761.8 L3260.7,773.6 L3269.1,779.3 L3279.2,789.4 L3285.9,805.5 L3297.7,813.9 L3304.4,829 L3312.8,842.5 L3324.6,852.6 L3334.6,872.7 L3348.1,889.5 L3354.8,909.7 L3359.9,933.2" fill="none" stroke="#80ff00" stroke-width="2.8" stroke-linejoin="round" stroke-linecap="round"/><path d="M2653.2,933.9 L2692.5,934.9 L2700.9,910.4 L2707.7,911.4 L2716.1,903.7 L2722.8,905.7 L2731.2,900.6 L2739.6,899.6 L2748,891.2 L2758.1,886.2 L2768.2,875.1 L2774.9,873.4 L2791.7,862.6 L2808.5,855.9 L2822,845.8 L2828.7,844.8 L2838.8,836.8 L2845.5,837.4 L2857.3,830.7 L2865.7,825 L2882.5,825 L2892.6,829 L2906,833.1 L2921.1,838.4 L2929.5,833.4 L2936.3,837.4 L2943,834.1 L2959.8,834.1 L2973.2,836.4 L2986.7,839.1 L3000.1,839.1 L3016.9,836.4 L3037.1,834.1 L3053.9,830 L3070.7,825.7 L3094.3,822.3 L3106,825.7 L3117.8,823 L3138,818.9 L3158.1,809.5 L3171.6,813.9 L3178.3,808.2 L3191.8,813.2 L3205.2,806.5 L3211.9,808.2 L3228.7,805.5 L3248.9,807.9 L3264,817.3 L3272.4,814.9 L3279.2,824 L3289.3,824 L3296,829 L3306.1,845.8 L3312.8,845.2 L3324.6,854.2 L3334.6,872.7 L3344.7,882.8 L3351.4,896.3 L3356.5,916.4 L3359.9,933.9" fill="none" stroke="#ff80ff" stroke-width="2.8" stroke-linejoin="round" stroke-linecap="round"/><g font-family="Liberation Sans, Arial, sans-serif" font-size="12" fill="#111"><text x="2623.5" y="600.1" text-anchor="end">12.61</text><text x="2623.5" y="668.1" text-anchor="end">10.09</text><text x="2623.5" y="736.1" text-anchor="end">7.57</text><text x="2623.5" y="804.0" text-anchor="end">5.04</text><text x="2623.5" y="872.0" text-anchor="end">2.52</text><text x="2623.5" y="940.0" text-anchor="end">0.0</text><text x="2659.6" y="960.2" text-anchor="middle">0%</text><text x="2728.9" y="960.2" text-anchor="middle">10%</text><text x="2798.2" y="960.2" text-anchor="middle">20%</text><text x="2867.5" y="960.2" text-anchor="middle">30%</text><text x="2936.8" y="960.2" text-anchor="middle">40%</text><text x="3006.1" y="960.2" text-anchor="middle">50%</text><text x="3075.3" y="960.2" text-anchor="middle">60%</text><text x="3144.6" y="960.2" text-anchor="middle">70%</text><text x="3213.9" y="960.2" text-anchor="middle">80%</text><text x="3283.2" y="960.2" text-anchor="middle">90%</text><text x="3352.5" y="960.2" text-anchor="middle">100%</text></g><rect x="3214.2" y="560.5" width="220.30000000000018" height="178.79999999999995" fill="#f2f2f2" stroke="#000" stroke-width="1"/><rect x="3228.9" y="598.4" width="32" height="31.5" fill="#ff0000" stroke="#000" stroke-width="1"/><rect x="3228.9" y="631.6" width="32" height="31.5" fill="#f08000" stroke="#000" stroke-width="1"/><rect x="3228.9" y="664.8000000000001" width="32" height="31.5" fill="#80ff00" stroke="#000" stroke-width="1"/><rect x="3228.9" y="698.0000000000001" width="32" height="31.5" fill="#ff80ff" stroke="#000" stroke-width="1"/><g font-family="Liberation Sans, Arial, sans-serif" font-size="12" fill="#111"><text x="3371.8" y="586.5" text-decoration="underline">Pressure</text><text x="3277.0" y="607.6999999999999">Left Heel</text><text x="3371.8" y="606.6999999999999">0.0</text><text x="3277.0" y="640.9">Left Midfoot</text><text x="3371.8" y="639.9">1.62</text><text x="3277.0" y="674.1">Left Metatarsal</text><text x="3371.8" y="673.1">8.27</text><text x="3277.0" y="707.3000000000001">Left Toe</text><text x="3371.8" y="706.3000000000001">6.38</text></g><rect x="2607.5" y="966.0" width="827" height="403.5" fill="#fff" stroke="#000" stroke-width="1.2"/><text x="2636.3" y="982.0" font-family="Liberation Sans, Arial, sans-serif" font-size="12" fill="#111">Right Foot Zones - Avg. Pressure vs Time (% stance)</text><path d="M3268.1,1026.0 V1340.0" stroke="#000" stroke-width="3" fill="none"/><path d="M2637.5,999.4 V1343.0 M2634.5,1340.0 H3374.3 M2625.5,1001.4 H2640.5 M2625.5,1069.1 H2640.5 M2625.5,1136.8 H2640.5 M2625.5,1204.6 H2640.5 M2625.5,1272.3 H2640.5 M2625.5,1340.0 H2640.5 M2659.6,1340.0 V1352.5 M2728.9,1340.0 V1352.5 M2798.2,1340.0 V1352.5 M2867.5,1340.0 V1352.5 M2936.8,1340.0 V1352.5 M3006.1,1340.0 V1352.5 M3075.3,1340.0 V1352.5 M3144.6,1340.0 V1352.5 M3213.9,1340.0 V1352.5 M3283.2,1340.0 V1352.5 M3352.5,1340.0 V1352.5 " stroke="#050505" stroke-width="6" fill="none"/><path d="M2653.2,1339.2 L2658.9,1306.3 L2665.6,1291.1 L2677.4,1272.6 L2694.2,1245.8 L2714.4,1218.9 L2727.8,1192 L2741.3,1163.4 L2753,1144.9 L2773.2,1124.7 L2798.4,1105.2 L2822,1092.8 L2835.4,1082.7 L2848.9,1069.9 L2864,1065.2 L2875.8,1067.6 L2892.6,1076 L2909.4,1089.4 L2926.2,1107.9 L2943,1124.7 L2959.8,1151.6 L2976.6,1170.1 L2993.4,1185.2 L3006.9,1193.6 L3018.6,1198 L3030.4,1196.3 L3043.8,1192.6 L3057.3,1187.9 L3067.4,1181.2 L3077.5,1179.2 L3087.5,1181.2 L3101,1192.6 L3114.4,1208.8 L3127.9,1225.6 L3141.3,1244.1 L3154.8,1269.3 L3168.2,1286.1 L3181.7,1296.2 L3191.8,1304.6 L3201.8,1314.7 L3206.9,1319.7 L3213.6,1340.9 L3255.6,1339.2" fill="none" stroke="#ff0000" stroke-width="2.8" stroke-linejoin="round" stroke-linecap="round"/><path d="M2653.2,1339.2 L2657.2,1341.6 L2662.3,1326.4 L2668,1314.7 L2675.7,1312.3 L2684.1,1306.9 L2694.2,1306.3 L2704.3,1300.2 L2714.4,1298.9 L2724.5,1296.2 L2734.6,1289.5 L2746.3,1282.1 L2759.8,1276.7 L2773.2,1276.7 L2788.3,1271.6 L2808.5,1268.3 L2825.3,1267.6 L2835.4,1265.9 L2845.5,1260.9 L2855.6,1259.2 L2869,1255.8 L2885.8,1251.8 L2912.7,1250.1 L2946.4,1248.4 L2959.8,1244.1 L2980,1238.4 L3010.2,1234.7 L3053.9,1234.7 L3074.1,1236.3 L3097.6,1234.7 L3114.4,1238 L3141.3,1245.8 L3158.1,1255.8 L3175,1269.3 L3188.4,1282.7 L3201.8,1297.9 L3211.9,1305.6 L3222,1307.9 L3233.8,1314.7 L3240.5,1313 L3248.9,1340.9 L3359.9,1339.2" fill="none" stroke="#f08000" stroke-width="2.8" stroke-linejoin="round" stroke-linecap="round"/><path d="M2653.2,1339.2 L2657.2,1319.7 L2662.3,1314.7 L2667.3,1319.7 L2674,1338.2 L2679.1,1341.6 L2749.7,1341.6 L2756.4,1319.7 L2761.5,1316.4 L2771.5,1317 L2785,1312.3 L2798.4,1310.3 L2828.7,1309.6 L2838.8,1306.3 L2852.2,1304.6 L2869,1297.2 L2885.8,1292.1 L2902.6,1286.1 L2919.5,1280.4 L2939.6,1276.7 L2959.8,1268.6 L2976.6,1262.6 L2993.4,1255.2 L3010.2,1249.8 L3027,1246.4 L3050.6,1246.4 L3074.1,1249.1 L3087.5,1247.4 L3107.7,1239 L3127.9,1227.9 L3148.1,1215.5 L3168.2,1201.4 L3188.4,1189.3 L3205.2,1181.9 L3215.3,1180.2 L3228.7,1181.9 L3238.8,1184.6 L3252.3,1185.9 L3262.4,1185.2 L3269.1,1194.3 L3277.5,1197 L3285.9,1215.5 L3296,1233 L3302.7,1252.5 L3311.1,1271 L3319.5,1279.4 L3329.6,1294.5 L3339.7,1302.9 L3346.4,1310.6 L3353.1,1311.3 L3359.9,1339.2" fill="none" stroke="#80ff00" stroke-width="2.8" stroke-linejoin="round" stroke-linecap="round"/><path d="M2653.2,1339.9 L2832,1341.6 L2837.1,1336.5 L2842.1,1316.4 L2848.9,1305.6 L2858.9,1307.9 L2875.8,1309.6 L2885.8,1304.6 L2892.6,1306.3 L2909.4,1303.6 L2921.1,1298.9 L2939.6,1296.2 L2953.1,1295.2 L2969.9,1290.1 L2980,1289.5 L2993.4,1284.4 L3013.6,1282.1 L3033.8,1280.4 L3053.9,1280.4 L3074.1,1284.4 L3087.5,1282.7 L3101,1279.4 L3114.4,1275 L3127.9,1274.3 L3141.3,1271 L3154.8,1266.6 L3168.2,1257.5 L3181.7,1249.8 L3195.1,1242.4 L3205.2,1239.7 L3218.7,1235.7 L3235.5,1231.6 L3262.4,1231.3 L3282.5,1235 L3299.3,1245.8 L3312.8,1257.5 L3326.2,1276 L3336.3,1287.8 L3346.4,1302.9 L3353.1,1311.3 L3358.2,1328.1 L3359.9,1339.9" fill="none" stroke="#ff80ff" stroke-width="2.8" stroke-linejoin="round" stroke-linecap="round"/><g font-family="Liberation Sans, Arial, sans-serif" font-size="12" fill="#111"><text x="2623.5" y="1005.7" text-anchor="end">12.61</text><text x="2623.5" y="1073.4" text-anchor="end">10.09</text><text x="2623.5" y="1141.1" text-anchor="end">7.57</text><text x="2623.5" y="1208.9" text-anchor="end">5.04</text><text x="2623.5" y="1276.6" text-anchor="end">2.52</text><text x="2623.5" y="1344.3" text-anchor="end">0.0</text><text x="2659.6" y="1364.5" text-anchor="middle">0%</text><text x="2728.9" y="1364.5" text-anchor="middle">10%</text><text x="2798.2" y="1364.5" text-anchor="middle">20%</text><text x="2867.5" y="1364.5" text-anchor="middle">30%</text><text x="2936.8" y="1364.5" text-anchor="middle">40%</text><text x="3006.1" y="1364.5" text-anchor="middle">50%</text><text x="3075.3" y="1364.5" text-anchor="middle">60%</text><text x="3144.6" y="1364.5" text-anchor="middle">70%</text><text x="3213.9" y="1364.5" text-anchor="middle">80%</text><text x="3283.2" y="1364.5" text-anchor="middle">90%</text><text x="3352.5" y="1364.5" text-anchor="middle">100%</text></g><rect x="3205.2" y="966.5" width="229.30000000000018" height="178.29999999999995" fill="#f2f2f2" stroke="#000" stroke-width="1"/><rect x="3220.2" y="1004.4" width="32" height="31.5" fill="#ff0000" stroke="#000" stroke-width="1"/><rect x="3220.2" y="1037.6" width="32" height="31.5" fill="#f08000" stroke="#000" stroke-width="1"/><rect x="3220.2" y="1070.8" width="32" height="31.5" fill="#80ff00" stroke="#000" stroke-width="1"/><rect x="3220.2" y="1104.0" width="32" height="31.5" fill="#ff80ff" stroke="#000" stroke-width="1"/><g font-family="Liberation Sans, Arial, sans-serif" font-size="12" fill="#111"><text x="3371.8" y="992.5" text-decoration="underline">Pressure</text><text x="3268.0" y="1013.6999999999999">Right Heel</text><text x="3371.8" y="1012.6999999999999">0.0</text><text x="3268.0" y="1046.8999999999999">Right Midfoot</text><text x="3371.8" y="1045.8999999999999">0.0</text><text x="3268.0" y="1080.1">Right Metatarsal</text><text x="3371.8" y="1079.1">7.88</text><text x="3268.0" y="1113.3">Right Toe</text><text x="3371.8" y="1112.3">5.82</text></g><rect x="21.5" y="1371" width="1706.0" height="77.5" fill="#f0f0f0" stroke="#000" stroke-width="1"/><path d="M22.3,1380.3 L472.8,1374.9 L874.7,1371.8 L1286,1390.3 L1727,1382" fill="none" stroke="#3f7fff" stroke-width="1"/><path d="M22.3,1417.4 L445.8,1446.5 L880,1417.2 L1283.4,1418.8 L1727,1412.8" fill="none" stroke="#ff7f3f" stroke-width="1"/><path d="M874.7,1372 V1446.5" stroke="#b050c8" stroke-width="1.4"/><text x="873.6" y="1437.8" text-anchor="middle" xml:space="preserve" font-family="Liberation Sans, Arial, sans-serif" font-size="31.7" fill="#111">Gait Session 1/2  Stances 1-5  Active 3</text><rect x="21.5" y="1450.5" width="1706.0" height="78" fill="#f0f0f0" stroke="#000" stroke-width="1"/><clipPath id="cs1"><rect x="22.0" y="1451" width="1705.0" height="77"/></clipPath><g clip-path="url(#cs1)"><path d="M493,1451 V1528 M497.2,1451 V1528" stroke="#000" stroke-width="1.2"/><path d="M1249,1451 V1528 M1253.2,1451 V1528" stroke="#000" stroke-width="1.2"/><path d="M1407,1451 V1528 M1411.2,1451 V1528" stroke="#000" stroke-width="1.2"/><rect x="803.8" y="1453.5" width="152.0" height="20.5" fill="#bdd3ec" stroke="#3a6aa8" stroke-width="1.6"/><path d="M934,1454 V1473" stroke="#ff7f00" stroke-width="1.4"/><rect x="871" y="1506" width="152" height="21.5" fill="#bdd3ec" stroke="#3a6aa8" stroke-width="1.6"/><path d="M1000,1506 V1526.5" stroke="#ff7f00" stroke-width="1.4"/><use href="#mf" x="499.6" y="1453" width="68" height="22"/><path d="M499.6,1467.5 V1475" stroke="#000" stroke-width="1.2"/><use href="#mf" x="650" y="1453" width="68" height="22"/><path d="M650,1467.5 V1475" stroke="#000" stroke-width="1.2"/><use href="#mf" x="803.5" y="1453" width="68" height="22"/><path d="M803.5,1467.5 V1475" stroke="#000" stroke-width="1.2"/><use href="#mf" x="955.5" y="1453" width="68" height="22"/><path d="M955.5,1467.5 V1475" stroke="#000" stroke-width="1.2"/><use href="#mf" x="1107.5" y="1453" width="68" height="22"/><path d="M1107.5,1467.5 V1475" stroke="#000" stroke-width="1.2"/><use href="#mf" x="1411.4" y="1453" width="68" height="22"/><path d="M1411.4,1467.5 V1475" stroke="#000" stroke-width="1.2"/><use href="#mf" x="1563.4" y="1453" width="68" height="22"/><path d="M1563.4,1467.5 V1475" stroke="#000" stroke-width="1.2"/><use href="#mf" x="1715" y="1453" width="68" height="22"/><path d="M1715,1467.5 V1475" stroke="#000" stroke-width="1.2"/><use href="#mf2" x="568" y="1505.5" width="68" height="22"/><path d="M568,1504 V1512" stroke="#000" stroke-width="1.2"/><use href="#mf2" x="720" y="1505.5" width="68" height="22"/><path d="M720,1504 V1512" stroke="#000" stroke-width="1.2"/><use href="#mf2" x="872" y="1505.5" width="68" height="22"/><path d="M872,1504 V1512" stroke="#000" stroke-width="1.2"/><use href="#mf2" x="1022.7" y="1505.5" width="68" height="22"/><path d="M1022.7,1504 V1512" stroke="#000" stroke-width="1.2"/><use href="#mf2" x="1176" y="1505.5" width="68" height="22"/><path d="M1176,1504 V1512" stroke="#000" stroke-width="1.2"/><use href="#mf2" x="1480" y="1505.5" width="68" height="22"/><path d="M1480,1504 V1512" stroke="#000" stroke-width="1.2"/><use href="#mf2" x="1632" y="1505.5" width="68" height="22"/><path d="M1632,1504 V1512" stroke="#000" stroke-width="1.2"/><g font-family="Liberation Sans, Arial, sans-serif" font-size="31.4" fill="#111"><text x="531.6" y="1483.3">0.00m</text><text x="682" y="1483.3">0.27m</text><text x="835.5" y="1483.3">0.48m</text><text x="987.5" y="1483.3">0.72m</text><text x="1139.5" y="1483.3">0.98m</text><text x="1443.4" y="1483.3">0.00m</text><text x="1595.4" y="1483.3">0.26m</text><text x="1747" y="1483.3">0.5</text><text x="599" y="1520.6">0.12m</text><text x="751" y="1520.6">0.40m</text><text x="903" y="1520.6">0.61m</text><text x="1053.7" y="1520.6">0.84m</text><text x="1207" y="1520.6">1.10m</text><text x="1511" y="1520.6">0.11m</text><text x="1663" y="1520.6">0.37</text></g></g><path d="M30,1542.5 H1680 M30,1535 V1550 M1680,1535 V1550" stroke="#a0a0a0" stroke-width="2.2" fill="none"/><rect x="394" y="1535" width="9.5" height="15.5" fill="#c8c8c8" stroke="#8a8a8a" stroke-width="1"/><rect x="1686.5" y="1534.5" width="16.5" height="16" fill="#f4f4f4" stroke="#333" stroke-width="1"/><path d="M1697.0,1538.5 L1692.5,1542.5 L1697.0,1546.5" fill="none" stroke="#111" stroke-width="1.5"/><rect x="1704.5" y="1534.5" width="16.5" height="16" fill="#f4f4f4" stroke="#333" stroke-width="1"/><path d="M1710.5,1538.5 L1715.0,1542.5 L1710.5,1546.5" fill="none" stroke="#111" stroke-width="1.5"/><rect x="1729" y="1371" width="1706.5" height="77.5" fill="#f0f0f0" stroke="#000" stroke-width="1"/><path d="M1731,1429.6 L2157,1373.5 L2573.8,1439.7 L3006,1390.4 L3435,1388.4" fill="none" stroke="#3f7fff" stroke-width="1"/><path d="M1731,1447.8 L2157,1443.8 L2573.8,1439 L3006,1424.2 L3435,1422.8" fill="none" stroke="#ff7f3f" stroke-width="1"/><path d="M2157,1372 V1446.5" stroke="#b050c8" stroke-width="1.4"/><text x="2581.5" y="1437.8" text-anchor="middle" xml:space="preserve" font-family="Liberation Sans, Arial, sans-serif" font-size="31.7" fill="#111">Gait Session 1/1  Stances 1-5  Active 2</text><rect x="1729" y="1450.5" width="1706.5" height="78" fill="#f0f0f0" stroke="#000" stroke-width="1"/><clipPath id="cs2"><rect x="1729.5" y="1451" width="1705.5" height="77"/></clipPath><g clip-path="url(#cs2)"><path d="M2354.3,1451 V1528 M2358.5,1451 V1528" stroke="#000" stroke-width="1.2"/><path d="M3102.7,1451 V1528 M3106.8999999999996,1451 V1528" stroke="#000" stroke-width="1.2"/><rect x="2513" y="1453.5" width="150" height="20.5" fill="#bdd3ec" stroke="#3a6aa8" stroke-width="1.6"/><path d="M2644.7,1454 V1473" stroke="#ff7f00" stroke-width="1.4"/><rect x="2580.6" y="1506" width="149.9000000000001" height="21.5" fill="#bdd3ec" stroke="#3a6aa8" stroke-width="1.6"/><path d="M2711.6,1506 V1526.5" stroke="#ff7f00" stroke-width="1.4"/><use href="#mf" x="2360.8" y="1453" width="68" height="22"/><path d="M2360.8,1467.5 V1475" stroke="#000" stroke-width="1.2"/><use href="#mf" x="2511.4" y="1453" width="68" height="22"/><path d="M2511.4,1467.5 V1475" stroke="#000" stroke-width="1.2"/><use href="#mf" x="2662" y="1453" width="68" height="22"/><path d="M2662,1467.5 V1475" stroke="#000" stroke-width="1.2"/><use href="#mf" x="2813.4" y="1453" width="68" height="22"/><path d="M2813.4,1467.5 V1475" stroke="#000" stroke-width="1.2"/><use href="#mf" x="2962.6" y="1453" width="68" height="22"/><path d="M2962.6,1467.5 V1475" stroke="#000" stroke-width="1.2"/><use href="#mf" x="1667" y="1453" width="68" height="22"/><path d="M1667,1467.5 V1475" stroke="#000" stroke-width="1.2"/><use href="#mf2" x="2428" y="1505.5" width="68" height="22"/><path d="M2428,1504 V1512" stroke="#000" stroke-width="1.2"/><use href="#mf2" x="2578.6" y="1505.5" width="68" height="22"/><path d="M2578.6,1504 V1512" stroke="#000" stroke-width="1.2"/><use href="#mf2" x="2729.2" y="1505.5" width="68" height="22"/><path d="M2729.2,1504 V1512" stroke="#000" stroke-width="1.2"/><use href="#mf2" x="2880.5" y="1505.5" width="68" height="22"/><path d="M2880.5,1504 V1512" stroke="#000" stroke-width="1.2"/><use href="#mf2" x="3031.2" y="1505.5" width="68" height="22"/><path d="M3031.2,1504 V1512" stroke="#000" stroke-width="1.2"/><g font-family="Liberation Sans, Arial, sans-serif" font-size="31.4" fill="#111"><text x="2392.8" y="1483.3">0.00m</text><text x="2543.4" y="1483.3">0.23m</text><text x="2694" y="1483.3">0.46m</text><text x="2845.4" y="1483.3">0.71m</text><text x="2994.6" y="1483.3">0.96m</text><text x="1699" y="1483.3"></text><text x="2459" y="1520.6">0.12m</text><text x="2609.6" y="1520.6">0.35m</text><text x="2760.2" y="1520.6">0.58m</text><text x="2911.5" y="1520.6">0.83m</text><text x="3062.2" y="1520.6">1.08m</text></g></g><path d="M1738.3,1542.5 H3386.4 M1738.3,1535 V1550 M3386.4,1535 V1550" stroke="#a0a0a0" stroke-width="2.2" fill="none"/><rect x="2437.4" y="1535" width="9.5" height="15.5" fill="#c8c8c8" stroke="#8a8a8a" stroke-width="1"/><rect x="3392.9" y="1534.5" width="16.5" height="16" fill="#f4f4f4" stroke="#333" stroke-width="1"/><path d="M3403.4,1538.5 L3398.9,1542.5 L3403.4,1546.5" fill="none" stroke="#111" stroke-width="1.5"/><rect x="3410.9" y="1534.5" width="16.5" height="16" fill="#f4f4f4" stroke="#333" stroke-width="1"/><path d="M3416.9,1538.5 L3421.4,1542.5 L3416.9,1546.5" fill="none" stroke="#111" stroke-width="1.5"/><path d="M1728.5,1371 V1555" stroke="#000" stroke-width="3"/></svg>
<div style="position:absolute;left:0;top:0;width:3456px;height:1870px;overflow:hidden"><div class="pn" style="left:19px;top:1568px;width:1131px;height:302px"><div class="ph"><span>Foot Frame Statistics</span></div></div><div class="c h" style="left:26.1px;top:1653.2px;width:154.6px;height:33.7px;background:#80ff00;color:#000">Metatarsal</div><div class="c h" style="left:185.1px;top:1653.2px;width:128.4px;height:33.7px;background:#80ff00;color:#000">LEFT</div><div class="c h" style="left:317.9px;top:1653.2px;width:127.9px;height:33.7px;background:#80ff00;color:#000">RIGHT</div><div class="c h" style="left:450.1px;top:1653.2px;width:103.0px;height:33.7px;background:#80ff00;color:#000">% &Delta;</div><div class="c l" style="left:26.1px;top:1691.2px;width:154.6px;height:46.4px;background:#bfff80;color:#000"><span>Avg Pressure</span></div><div class="c v" style="left:185.1px;top:1691.2px;width:128.4px;height:46.4px;background:#bfff80;color:#000"><span>8.42</span></div><div class="c v" style="left:317.9px;top:1691.2px;width:127.9px;height:46.4px;background:#bfff80;color:#000"><span>8.85</span></div><div class="c v" style="left:450.1px;top:1691.2px;width:103.0px;height:46.4px;background:#bfff80;color:#000"><span>-5.0%</span></div><div class="c l" style="left:26.1px;top:1742.2px;width:154.6px;height:46.6px;background:#bfff80;color:#000"><span>Peak Pressure</span></div><div class="c v" style="left:185.1px;top:1742.2px;width:128.4px;height:46.6px;background:#bfff80;color:#000"><span>41.95</span></div><div class="c v" style="left:317.9px;top:1742.2px;width:127.9px;height:46.6px;background:#bfff80;color:#000"><span>27.88</span></div><div class="c v" style="left:450.1px;top:1742.2px;width:103.0px;height:46.6px;background:#80ff00;color:#000"><span>40.3%</span></div><div class="c h" style="left:566.0px;top:1653.2px;width:154.6px;height:33.7px;background:#d4ff2a;color:#000">Metatarsal</div><div class="c h" style="left:725.0px;top:1653.2px;width:128.4px;height:33.7px;background:#d4ff2a;color:#000">LEFT</div><div class="c h" style="left:857.8px;top:1653.2px;width:127.9px;height:33.7px;background:#d4ff2a;color:#000">RIGHT</div><div class="c h" style="left:990.0px;top:1653.2px;width:103.0px;height:33.7px;background:#d4ff2a;color:#000">% &Delta;</div><div class="c l" style="left:566.0px;top:1691.2px;width:154.6px;height:46.4px;background:#eaff95;color:#000"><span>Avg Pressure</span></div><div class="c v" style="left:725.0px;top:1691.2px;width:128.4px;height:46.4px;background:#eaff95;color:#000"><span>5.7</span></div><div class="c v" style="left:857.8px;top:1691.2px;width:127.9px;height:46.4px;background:#eaff95;color:#000"><span>5.43</span></div><div class="c v" style="left:990.0px;top:1691.2px;width:103.0px;height:46.4px;background:#eaff95;color:#000"><span>4.8%</span></div><div class="c l" style="left:566.0px;top:1742.2px;width:154.6px;height:46.6px;background:#eaff95;color:#000"><span>Peak Pressure</span></div><div class="c v" style="left:725.0px;top:1742.2px;width:128.4px;height:46.6px;background:#eaff95;color:#000"><span>24.66</span></div><div class="c v" style="left:857.8px;top:1742.2px;width:127.9px;height:46.6px;background:#eaff95;color:#000"><span>11.31</span></div><div class="c v" style="left:990.0px;top:1742.2px;width:103.0px;height:46.6px;background:#d4ff2a;color:#000"><span>74.2%</span></div><div class="c h" style="left:26.1px;top:1806.0px;width:154.6px;height:33.6px;background:#ff80ff;color:#000">Toe</div><div class="c h" style="left:185.1px;top:1806.0px;width:128.4px;height:33.6px;background:#ff80ff;color:#000">LEFT</div><div class="c h" style="left:317.9px;top:1806.0px;width:127.9px;height:33.6px;background:#ff80ff;color:#000">RIGHT</div><div class="c h" style="left:450.1px;top:1806.0px;width:103.0px;height:33.6px;background:#ff80ff;color:#000">% &Delta;</div><div class="c l" style="left:26.1px;top:1844.0px;width:154.6px;height:46.4px;background:#ffbfff;color:#000"><span>Avg Pressure</span></div><div class="c v" style="left:185.1px;top:1844.0px;width:128.4px;height:46.4px;background:#ffbfff;color:#000"><span>5.29</span></div><div class="c v" style="left:317.9px;top:1844.0px;width:127.9px;height:46.4px;background:#ffbfff;color:#000"><span>6.07</span></div><div class="c v" style="left:450.1px;top:1844.0px;width:103.0px;height:46.4px;background:#ffbfff;color:#000"><span>-13.8%</span></div><div class="c h" style="left:566.0px;top:1806.0px;width:154.6px;height:33.6px;background:#9999ff;color:#000">Toe</div><div class="c h" style="left:725.0px;top:1806.0px;width:128.4px;height:33.6px;background:#9999ff;color:#000">LEFT</div><div class="c h" style="left:857.8px;top:1806.0px;width:127.9px;height:33.6px;background:#9999ff;color:#000">RIGHT</div><div class="c h" style="left:990.0px;top:1806.0px;width:103.0px;height:33.6px;background:#9999ff;color:#000">% &Delta;</div><div class="c l" style="left:566.0px;top:1844.0px;width:154.6px;height:46.4px;background:#ccccff;color:#000"><span>Avg Pressure</span></div><div class="c v" style="left:725.0px;top:1844.0px;width:128.4px;height:46.4px;background:#ccccff;color:#000"><span>4.4</span></div><div class="c v" style="left:857.8px;top:1844.0px;width:127.9px;height:46.4px;background:#ccccff;color:#000"><span>4.01</span></div><div class="c v" style="left:990.0px;top:1844.0px;width:103.0px;height:46.4px;background:#ccccff;color:#000"><span>9.2%</span></div><div class="sb" style="left:1098.7px;top:1632px;width:50.5px;height:238px"></div><div class="th" style="left:1106.4px;top:1764.8px"></div><div style="position:absolute;left:19px;top:1568px;width:1131px;height:302px;border:1px solid #8c949d;box-sizing:border-box"></div><div class="pn" style="left:1162px;top:1568px;width:1130.5px;height:302px"><div class="ph"><span>Stance Statistics</span></div></div><div class="c h" style="left:1168.9px;top:1653.2px;width:154.6px;height:33.7px;background:#80ff00;color:#000">Metatarsal</div><div class="c h" style="left:1327.9px;top:1653.2px;width:128.4px;height:33.7px;background:#80ff00;color:#000">LEFT</div><div class="c h" style="left:1460.7px;top:1653.2px;width:127.9px;height:33.7px;background:#80ff00;color:#000">RIGHT</div><div class="c h" style="left:1592.9px;top:1653.2px;width:103.0px;height:33.7px;background:#80ff00;color:#000">% &Delta;</div><div class="c l" style="left:1168.9px;top:1691.2px;width:154.6px;height:46.4px;background:#bfff80;color:#000"><span>Stance Avg Pressure</span></div><div class="c v" style="left:1327.9px;top:1691.2px;width:128.4px;height:46.4px;background:#bfff80;color:#000"><span>4.47</span></div><div class="c v" style="left:1460.7px;top:1691.2px;width:127.9px;height:46.4px;background:#bfff80;color:#000"><span>4.78</span></div><div class="c v" style="left:1592.9px;top:1691.2px;width:103.0px;height:46.4px;background:#bfff80;color:#000"><span>-6.6%</span></div><div class="c l" style="left:1168.9px;top:1742.2px;width:154.6px;height:46.6px;background:#bfff80;color:#000"><span>Stance Peak Pressure</span></div><div class="c v" style="left:1327.9px;top:1742.2px;width:128.4px;height:46.6px;background:#bfff80;color:#000"><span>51.0</span></div><div class="c v" style="left:1460.7px;top:1742.2px;width:127.9px;height:46.6px;background:#bfff80;color:#000"><span>28.82</span></div><div class="c v" style="left:1592.9px;top:1742.2px;width:103.0px;height:46.6px;background:#80ff00;color:#000"><span>55.6%</span></div><div class="c h" style="left:1708.8px;top:1653.2px;width:154.6px;height:33.7px;background:#d4ff2a;color:#000">Metatarsal</div><div class="c h" style="left:1867.8px;top:1653.2px;width:128.4px;height:33.7px;background:#d4ff2a;color:#000">LEFT</div><div class="c h" style="left:2000.6px;top:1653.2px;width:127.9px;height:33.7px;background:#d4ff2a;color:#000">RIGHT</div><div class="c h" style="left:2132.8px;top:1653.2px;width:103.0px;height:33.7px;background:#d4ff2a;color:#000">% &Delta;</div><div class="c l" style="left:1708.8px;top:1691.2px;width:154.6px;height:46.4px;background:#eaff95;color:#000"><span>Stance Avg Pressure</span></div><div class="c v" style="left:1867.8px;top:1691.2px;width:128.4px;height:46.4px;background:#eaff95;color:#000"><span>3.73</span></div><div class="c v" style="left:2000.6px;top:1691.2px;width:127.9px;height:46.4px;background:#eaff95;color:#000"><span>2.73</span></div><div class="c v" style="left:2132.8px;top:1691.2px;width:103.0px;height:46.4px;background:#d4ff2a;color:#000"><span>31.1%</span></div><div class="c l" style="left:1708.8px;top:1742.2px;width:154.6px;height:46.6px;background:#eaff95;color:#000"><span>Stance Peak Pressure</span></div><div class="c v" style="left:1867.8px;top:1742.2px;width:128.4px;height:46.6px;background:#eaff95;color:#000"><span>32.79</span></div><div class="c v" style="left:2000.6px;top:1742.2px;width:127.9px;height:46.6px;background:#eaff95;color:#000"><span>14.76</span></div><div class="c v" style="left:2132.8px;top:1742.2px;width:103.0px;height:46.6px;background:#d4ff2a;color:#000"><span>75.8%</span></div><div class="c h" style="left:1168.9px;top:1806.0px;width:154.6px;height:33.6px;background:#ff80ff;color:#000">Toe</div><div class="c h" style="left:1327.9px;top:1806.0px;width:128.4px;height:33.6px;background:#ff80ff;color:#000">LEFT</div><div class="c h" style="left:1460.7px;top:1806.0px;width:127.9px;height:33.6px;background:#ff80ff;color:#000">RIGHT</div><div class="c h" style="left:1592.9px;top:1806.0px;width:103.0px;height:33.6px;background:#ff80ff;color:#000">% &Delta;</div><div class="c l" style="left:1168.9px;top:1844.0px;width:154.6px;height:46.4px;background:#ffbfff;color:#000"><span>Stance Avg Pressure</span></div><div class="c v" style="left:1327.9px;top:1844.0px;width:128.4px;height:46.4px;background:#ffbfff;color:#000"><span>2.69</span></div><div class="c v" style="left:1460.7px;top:1844.0px;width:127.9px;height:46.4px;background:#ffbfff;color:#000"><span>3.38</span></div><div class="c v" style="left:1592.9px;top:1844.0px;width:103.0px;height:46.4px;background:#ffbfff;color:#000"><span>-22.4%</span></div><div class="c h" style="left:1708.8px;top:1806.0px;width:154.6px;height:33.6px;background:#9999ff;color:#000">Toe</div><div class="c h" style="left:1867.8px;top:1806.0px;width:128.4px;height:33.6px;background:#9999ff;color:#000">LEFT</div><div class="c h" style="left:2000.6px;top:1806.0px;width:127.9px;height:33.6px;background:#9999ff;color:#000">RIGHT</div><div class="c h" style="left:2132.8px;top:1806.0px;width:103.0px;height:33.6px;background:#9999ff;color:#000">% &Delta;</div><div class="c l" style="left:1708.8px;top:1844.0px;width:154.6px;height:46.4px;background:#ccccff;color:#000"><span>Stance Avg Pressure</span></div><div class="c v" style="left:1867.8px;top:1844.0px;width:128.4px;height:46.4px;background:#ccccff;color:#000"><span>3.33</span></div><div class="c v" style="left:2000.6px;top:1844.0px;width:127.9px;height:46.4px;background:#ccccff;color:#000"><span>1.8</span></div><div class="c v" style="left:2132.8px;top:1844.0px;width:103.0px;height:46.4px;background:#9999ff;color:#000"><span>59.8%</span></div><div class="sb" style="left:2242px;top:1632px;width:50px;height:238px"></div><div class="th" style="left:2249.2px;top:1764.8px"></div><div style="position:absolute;left:1162px;top:1568px;width:1130.5px;height:302px;border:1px solid #8c949d;box-sizing:border-box"></div><div class="pn" style="left:2305px;top:1568px;width:1132px;height:302px"><div class="ph"><span>Gait Statistics</span></div></div><div class="c h" style="left:2311.8px;top:1653.2px;width:154.6px;height:33.7px;background:#3b5e8c;color:#fff">Temporal</div><div class="c h" style="left:2470.8px;top:1653.2px;width:128.4px;height:33.7px;background:#3b5e8c;color:#fff">LEFT</div><div class="c h" style="left:2603.6px;top:1653.2px;width:127.9px;height:33.7px;background:#3b5e8c;color:#fff">RIGHT</div><div class="c h" style="left:2735.8px;top:1653.2px;width:103.0px;height:33.7px;background:#3b5e8c;color:#fff">% &Delta;</div><div class="c l" style="left:2311.8px;top:1691.2px;width:154.6px;height:46.4px;background:#e8edf5;color:#000"><span>Swing Time</span></div><div class="c v" style="left:2470.8px;top:1691.2px;width:128.4px;height:46.4px;background:#f2f2f2;color:#000"><span>532 ms</span></div><div class="c v" style="left:2603.6px;top:1691.2px;width:127.9px;height:46.4px;background:#f2f2f2;color:#000"><span>585 ms</span></div><div class="c v" style="left:2735.8px;top:1691.2px;width:103.0px;height:46.4px;background:#b9c8e0;color:#000"><span>-9.5%</span></div><div class="c l" style="left:2311.8px;top:1742.2px;width:154.6px;height:46.6px;background:#e8edf5;color:#000"><span>Stance Time</span></div><div class="c v" style="left:2470.8px;top:1742.2px;width:128.4px;height:46.6px;background:#f2f2f2;color:#000"><span>1250 ms</span></div><div class="c v" style="left:2603.6px;top:1742.2px;width:127.9px;height:46.6px;background:#f2f2f2;color:#000"><span>1264 ms</span></div><div class="c v" style="left:2735.8px;top:1742.2px;width:103.0px;height:46.6px;background:#e5eaf3;color:#000"><span>-1.1%</span></div><div class="c l" style="left:2311.8px;top:1793.2px;width:154.6px;height:46.4px;background:#e8edf5;color:#000"><span>Support Time</span></div><div class="c v" style="left:2470.8px;top:1793.2px;width:128.4px;height:46.4px;background:#f2f2f2;color:#000"><span>346 ms</span></div><div class="c v" style="left:2603.6px;top:1793.2px;width:127.9px;height:46.4px;background:#f2f2f2;color:#000"><span>386 ms</span></div><div class="c v" style="left:2735.8px;top:1793.2px;width:103.0px;height:46.4px;background:#b9c8e0;color:#000"><span>-10.9%</span></div><div class="c h" style="left:2852.1px;top:1653.2px;width:154.6px;height:33.7px;background:#4a8c80;color:#fff">Temporal</div><div class="c h" style="left:3011.1px;top:1653.2px;width:128.4px;height:33.7px;background:#4a8c80;color:#fff">LEFT</div><div class="c h" style="left:3143.9px;top:1653.2px;width:127.9px;height:33.7px;background:#4a8c80;color:#fff">RIGHT</div><div class="c h" style="left:3276.1px;top:1653.2px;width:103.0px;height:33.7px;background:#4a8c80;color:#fff">% &Delta;</div><div class="c l" style="left:2852.1px;top:1691.2px;width:154.6px;height:46.4px;background:#eaf3f2;color:#000"><span>Swing Time</span></div><div class="c v" style="left:3011.1px;top:1691.2px;width:128.4px;height:46.4px;background:#f2f2f2;color:#000"><span>519 ms</span></div><div class="c v" style="left:3143.9px;top:1691.2px;width:127.9px;height:46.4px;background:#f2f2f2;color:#000"><span>559 ms</span></div><div class="c v" style="left:3276.1px;top:1691.2px;width:103.0px;height:46.4px;background:#cde4df;color:#000"><span>-7.4%</span></div><div class="c l" style="left:2852.1px;top:1742.2px;width:154.6px;height:46.6px;background:#eaf3f2;color:#000"><span>Stance Time</span></div><div class="c v" style="left:3011.1px;top:1742.2px;width:128.4px;height:46.6px;background:#f2f2f2;color:#000"><span>1370 ms</span></div><div class="c v" style="left:3143.9px;top:1742.2px;width:127.9px;height:46.6px;background:#f2f2f2;color:#000"><span>1316 ms</span></div><div class="c v" style="left:3276.1px;top:1742.2px;width:103.0px;height:46.6px;background:#d8eae6;color:#000"><span>4.0%</span></div><div class="c l" style="left:2852.1px;top:1793.2px;width:154.6px;height:46.4px;background:#eaf3f2;color:#000"><span>Support Time</span></div><div class="c v" style="left:3011.1px;top:1793.2px;width:128.4px;height:46.4px;background:#f2f2f2;color:#000"><span>425 ms</span></div><div class="c v" style="left:3143.9px;top:1793.2px;width:127.9px;height:46.4px;background:#f2f2f2;color:#000"><span>372 ms</span></div><div class="c v" style="left:3276.1px;top:1793.2px;width:103.0px;height:46.4px;background:#b8d9d2;color:#000"><span>13.3%</span></div><div class="sb" style="left:3385.7px;top:1632px;width:50.5px;height:238px"></div><svg style="position:absolute;left:3396px;top:1640px" width="32" height="225"><path d="M4.5,22 L15.5,7 L26.5,22Z M4.5,196 L15.5,211 L26.5,196Z" fill="#a9a9a9" stroke="#a9a9a9" stroke-width="3" stroke-linejoin="round"/></svg><div style="position:absolute;left:2305px;top:1568px;width:1132px;height:302px;border:1px solid #8c949d;box-sizing:border-box"></div></div>
<svg width="3456" height="1887" viewBox="0 0 3456 1887" style="position:absolute;left:0;top:0;pointer-events:none"><g transform="translate(1073,1602)"><path d="M-5,-12 H5 M-4,-12 V2 M3.5,-12 V2 M-8.5,2.5 H8.5 M0,2.5 V14" fill="none" stroke="#000" stroke-width="2.6"/><rect x="1" y="-12" width="3" height="14" fill="#000"/></g><path d="M1113.6,1592 L1131.6,1610 M1131.6,1592 L1113.6,1610" stroke="#000" stroke-width="3.4" fill="none"/><g transform="translate(2215.9,1602)"><path d="M-5,-12 H5 M-4,-12 V2 M3.5,-12 V2 M-8.5,2.5 H8.5 M0,2.5 V14" fill="none" stroke="#000" stroke-width="2.6"/><rect x="1" y="-12" width="3" height="14" fill="#000"/></g><path d="M2256.9,1592 L2274.9,1610 M2274.9,1592 L2256.9,1610" stroke="#000" stroke-width="3.4" fill="none"/><g transform="translate(3360,1602)"><path d="M-5,-12 H5 M-4,-12 V2 M3.5,-12 V2 M-8.5,2.5 H8.5 M0,2.5 V14" fill="none" stroke="#000" stroke-width="2.6"/><rect x="1" y="-12" width="3" height="14" fill="#000"/></g><path d="M3401,1592 L3419,1610 M3419,1592 L3401,1610" stroke="#000" stroke-width="3.4" fill="none"/><path d="M213.8,1774.1C213.8,1771.1 213.1,1762.1 213.8,1756.1C214.6,1750.1 216.2,1742.2 218.3,1738.1C220.4,1734.0 221.0,1732.4 226.1,1731.3C231.2,1730.2 242.3,1730.7 248.7,1731.3C255.1,1731.9 259.7,1732.9 264.4,1734.7C269.1,1736.5 272.3,1740.5 276.8,1741.9C281.3,1743.3 287.3,1742.2 291.4,1743.3C295.5,1744.3 299.5,1744.6 301.6,1748.2C303.7,1751.8 303.6,1758.9 303.8,1765.1C304.0,1771.3 303.6,1781.4 302.7,1785.4C301.8,1789.5 305.7,1788.5 298.2,1789.4C290.7,1790.3 268.2,1791.3 257.7,1791C247.2,1790.7 241.2,1789.1 235.2,1787.6C229.2,1786.1 225.4,1783.0 221.6,1782C217.8,1781.0 214.1,1781.4 212.6,1781.3" fill="none" stroke="#e8192c" stroke-width="5" stroke-linecap="round" stroke-linejoin="round"/><path d="M783.5,1784.7C779.8,1784.8 766.6,1787.1 761,1785.6C755.4,1784.1 751.1,1780.4 749.8,1775.7C748.4,1771.0 750.3,1762.9 752.9,1757.6C755.5,1752.3 760.4,1748.2 765.5,1744.1C770.6,1740.0 776.0,1735.5 783.5,1732.9C791.0,1730.3 801.6,1729.2 810.6,1728.4C819.6,1727.7 830.1,1727.3 837.6,1728.4C845.1,1729.5 851.7,1731.0 855.6,1735.1C859.5,1739.2 861.4,1746.3 861,1753.1C860.6,1759.9 857.2,1769.7 853.3,1775.7C849.4,1781.7 845.5,1786.2 837.6,1789.2C829.7,1792.2 815.9,1793.7 806.1,1793.7C796.3,1793.7 785.8,1790.6 779,1789.2C772.2,1787.8 767.8,1786.2 765.5,1785.6" fill="none" stroke="#e8192c" stroke-width="5" stroke-linecap="round" stroke-linejoin="round"/><path d="M1350.4,1778.8C1351.2,1775.7 1352.7,1765.7 1354.9,1759.9C1357.2,1754.1 1359.0,1747.8 1363.9,1744.1C1368.8,1740.3 1377.1,1738.7 1384.2,1737.4C1391.3,1736.1 1399.2,1735.4 1406.7,1736.5C1414.2,1737.6 1422.1,1740.2 1429.2,1744.1C1436.3,1748.0 1447.2,1754.6 1449.5,1759.9C1451.8,1765.2 1446.1,1770.8 1442.7,1775.7C1439.3,1780.6 1434.5,1785.8 1429.2,1789.2C1424.0,1792.6 1420.2,1795.2 1411.2,1795.9C1402.2,1796.7 1384.7,1794.8 1375.2,1793.7C1365.7,1792.6 1357.5,1790.0 1354,1789.2" fill="none" stroke="#e8192c" stroke-width="5" stroke-linecap="round" stroke-linejoin="round"/><path d="M1931.3,1785.6C1927.9,1784.7 1917.0,1781.5 1911,1780.2C1905.0,1778.9 1898.7,1780.9 1895.3,1777.9C1891.9,1774.9 1891.2,1767.7 1890.8,1762.1C1890.4,1756.5 1891.1,1749.7 1893,1744.1C1894.9,1738.5 1896.8,1732.0 1902,1728.4C1907.2,1724.8 1915.5,1722.9 1924.5,1722.5C1933.5,1722.1 1947.1,1724.4 1956.1,1726.1C1965.1,1727.8 1972.8,1728.4 1978.6,1732.9C1984.4,1737.4 1989.1,1746.0 1991.2,1753.1C1993.3,1760.2 1992.6,1770.1 1991.2,1775.7C1989.8,1781.3 1987.4,1784.3 1983.1,1786.9C1978.8,1789.5 1973.4,1790.7 1965.1,1791.4C1956.8,1792.2 1942.9,1791.2 1933.5,1791.4C1924.1,1791.6 1912.9,1792.2 1908.8,1792.3" fill="none" stroke="#e8192c" stroke-width="5" stroke-linecap="round" stroke-linejoin="round"/></svg>
</body></html>
